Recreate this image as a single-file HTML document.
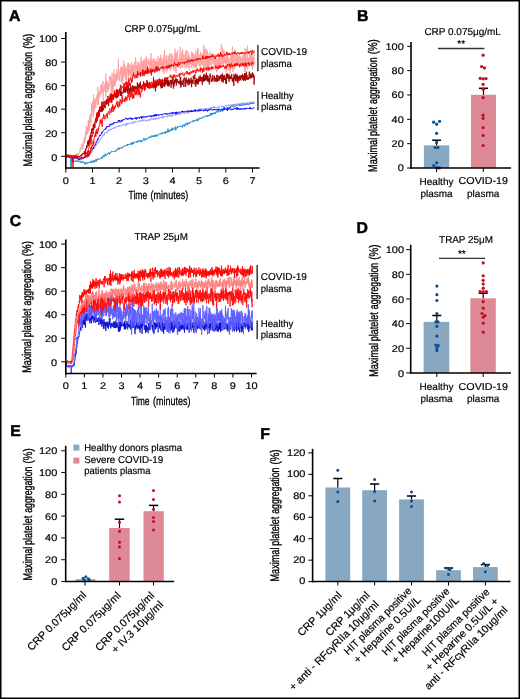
<!DOCTYPE html>
<html><head><meta charset="utf-8"><style>
html,body{margin:0;padding:0;background:#fff;}
svg{display:block;will-change:transform;}
text{font-family:"Liberation Sans", sans-serif;text-rendering:geometricPrecision;stroke:#000;stroke-width:0.18px;}
</style></head><body>
<svg width="520" height="699" viewBox="0 0 520 699" font-family='"Liberation Sans", sans-serif'>
<rect x="0" y="0" width="520" height="699" fill="#fff"/>
<polyline fill="none" stroke="#1b8bd0" stroke-width="1.0" stroke-linejoin="round" points="65.8,156.3 66.1,155.3 66.5,155.5 66.8,156.7 67.1,156.6 67.5,156.8 67.8,156.1 68.2,156.6 68.5,156.1 68.8,158.0 69.2,155.6 69.5,156.9 69.8,156.4 70.2,157.1 70.5,157.5 70.9,167.6 71.2,167.6 71.5,158.3 71.9,158.6 72.2,158.4 72.5,159.8 72.9,160.6 73.2,159.6 73.6,160.7 73.9,161.8 74.2,161.2 74.6,161.1 74.9,161.7 75.2,162.0 75.6,160.9 75.9,160.4 76.3,161.2 76.6,161.6 76.9,160.9 77.3,160.7 77.6,161.4 77.9,160.8 78.3,160.5 78.6,161.4 79.0,161.9 79.3,161.1 79.6,161.2 80.0,160.7 80.3,162.4 80.6,162.0 81.0,162.2 81.3,162.9 81.7,161.7 82.0,161.5 82.3,162.6 82.7,161.2 83.0,161.8 83.3,162.1 83.7,162.4 84.0,162.1 84.4,163.9 84.7,162.6 85.0,162.7 85.4,164.4 85.7,162.9 86.0,163.3 86.4,162.5 86.7,163.4 87.1,163.0 87.4,162.7 87.7,163.5 88.1,162.4 88.4,162.8 88.7,162.3 89.1,163.0 89.4,161.8 89.7,162.0 90.1,162.5 90.4,161.8 90.8,161.3 91.1,160.9 91.4,163.1 91.8,161.3 92.1,161.5 92.4,161.8 92.8,162.3 93.1,160.6 93.5,162.3 93.8,160.9 94.1,160.2 94.5,162.2 94.8,161.1 95.1,161.7 95.5,160.5 95.8,159.4 96.2,158.9 96.5,161.5 96.8,160.5 97.2,159.5 97.5,158.7 97.8,159.4 98.2,160.0 98.5,159.1 98.9,159.2 99.2,159.2 99.5,159.4 99.9,158.4 100.2,158.3 100.5,158.4 100.9,158.3 101.2,158.9 101.6,158.2 101.9,156.8 102.2,157.6 102.6,158.3 102.9,156.1 103.2,156.5 103.6,155.1 103.9,156.4 104.3,156.5 104.6,157.0 104.9,154.8 105.3,153.7 105.6,155.9 105.9,155.5 106.3,154.4 106.6,155.2 107.0,154.6 107.3,154.4 107.6,153.8 108.0,153.0 108.3,153.5 108.6,152.7 109.0,153.5 109.3,152.8 109.7,154.3 110.0,153.7 110.3,152.0 110.7,152.8 111.0,151.8 111.3,151.7 111.7,151.0 112.0,151.3 112.3,151.0 112.7,151.7 113.0,151.9 113.4,151.8 113.7,151.5 114.0,151.9 114.4,151.3 114.7,150.9 115.0,150.5 115.4,150.8 115.7,151.8 116.1,150.4 116.4,150.0 116.7,149.3 117.1,149.5 117.4,150.2 117.7,150.1 118.1,148.0 118.4,148.8 118.8,147.8 119.1,147.5 119.4,149.4 119.8,148.4 120.1,148.1 120.4,147.9 120.8,147.7 121.1,147.8 121.5,147.6 121.8,148.6 122.1,147.5 122.5,147.7 122.8,146.9 123.1,147.2 123.5,146.2 123.8,145.9 124.2,146.1 124.5,145.9 124.8,145.9 125.2,146.2 125.5,145.8 125.8,145.9 126.2,145.1 126.5,145.2 126.9,144.7 127.2,145.9 127.5,144.2 127.9,145.3 128.2,145.1 128.5,144.6 128.9,144.8 129.2,144.0 129.6,144.5 129.9,144.8 130.2,144.5 130.6,142.9 130.9,143.7 131.2,144.4 131.6,143.5 131.9,144.5 132.3,142.0 132.6,144.2 132.9,142.7 133.3,142.6 133.6,143.9 133.9,142.5 134.3,142.0 134.6,142.2 134.9,142.3 135.3,141.7 135.6,142.1 136.0,141.9 136.3,142.1 136.6,141.5 137.0,142.5 137.3,141.2 137.6,142.0 138.0,142.3 138.3,141.2 138.7,140.1 139.0,140.5 139.3,141.4 139.7,140.5 140.0,141.2 140.3,140.8 140.7,140.6 141.0,142.2 141.4,140.3 141.7,141.0 142.0,140.7 142.4,141.1 142.7,141.1 143.0,140.5 143.4,139.2 143.7,138.5 144.1,139.6 144.4,138.7 144.7,139.5 145.1,140.6 145.4,139.0 145.7,138.7 146.1,139.2 146.4,138.6 146.8,138.3 147.1,139.2 147.4,139.5 147.8,138.5 148.1,138.4 148.4,138.3 148.8,137.3 149.1,136.6 149.5,138.0 149.8,137.1 150.1,136.9 150.5,136.9 150.8,136.6 151.1,137.5 151.5,136.5 151.8,135.5 152.2,136.3 152.5,137.2 152.8,136.2 153.2,135.6 153.5,136.1 153.8,136.7 154.2,135.1 154.5,136.9 154.9,135.6 155.2,135.8 155.5,136.5 155.9,134.7 156.2,135.2 156.5,136.2 156.9,134.8 157.2,135.4 157.5,136.3 157.9,135.4 158.2,134.6 158.6,134.2 158.9,134.4 159.2,134.4 159.6,133.9 159.9,134.3 160.2,133.2 160.6,133.8 160.9,133.6 161.3,133.3 161.6,134.3 161.9,134.0 162.3,132.3 162.6,133.0 162.9,133.3 163.3,132.7 163.6,133.2 164.0,132.5 164.3,133.1 164.6,132.3 165.0,133.5 165.3,131.3 165.6,132.5 166.0,133.1 166.3,132.0 166.7,132.0 167.0,131.5 167.3,132.3 167.7,131.1 168.0,128.7 168.3,132.1 168.7,130.8 169.0,131.1 169.4,130.6 169.7,131.9 170.0,131.3 170.4,130.1 170.7,130.3 171.0,129.0 171.4,130.5 171.7,129.8 172.1,127.7 172.4,130.2 172.7,130.2 173.1,129.4 173.4,129.3 173.7,128.5 174.1,128.9 174.4,129.4 174.8,128.6 175.1,126.7 175.4,127.6 175.8,130.3 176.1,128.3 176.4,128.7 176.8,127.5 177.1,127.9 177.4,126.3 177.8,126.9 178.1,126.8 178.5,127.2 178.8,127.2 179.1,126.8 179.5,126.0 179.8,126.4 180.1,126.9 180.5,125.6 180.8,126.2 181.2,126.3 181.5,126.6 181.8,126.3 182.2,126.2 182.5,127.6 182.8,124.8 183.2,125.0 183.5,125.4 183.9,124.4 184.2,124.7 184.5,124.6 184.9,126.5 185.2,124.7 185.5,124.1 185.9,123.2 186.2,122.9 186.6,123.0 186.9,124.7 187.2,125.3 187.6,123.2 187.9,123.5 188.2,122.7 188.6,123.3 188.9,122.9 189.3,124.0 189.6,122.5 189.9,123.0 190.3,122.3 190.6,122.1 190.9,122.3 191.3,121.9 191.6,122.0 192.0,121.3 192.3,121.4 192.6,122.0 193.0,121.9 193.3,120.1 193.6,121.3 194.0,120.3 194.3,120.6 194.7,121.2 195.0,121.2 195.3,120.4 195.7,120.2 196.0,119.8 196.3,121.0 196.7,120.4 197.0,119.9 197.4,118.6 197.7,121.2 198.0,119.1 198.4,119.7 198.7,118.9 199.0,119.4 199.4,118.6 199.7,117.7 200.0,118.4 200.4,118.2 200.7,118.1 201.1,118.8 201.4,117.7 201.7,118.1 202.1,118.4 202.4,117.7 202.7,117.7 203.1,116.9 203.4,117.3 203.8,117.5 204.1,116.0 204.4,116.2 204.8,115.9 205.1,116.2 205.4,116.6 205.8,116.6 206.1,116.4 206.5,115.4 206.8,115.9 207.1,116.9 207.5,115.7 207.8,116.6 208.1,115.3 208.5,116.1 208.8,116.1 209.2,114.9 209.5,115.0 209.8,115.9 210.2,114.1 210.5,113.0 210.8,115.4 211.2,113.0 211.5,114.6 211.9,114.3 212.2,114.0 212.5,114.8 212.9,112.7 213.2,113.1 213.5,113.9 213.9,113.4 214.2,114.2 214.6,113.2 214.9,112.2 215.2,114.0 215.6,112.9 215.9,112.4 216.2,111.6 216.6,111.3 216.9,112.4 217.3,112.5 217.6,111.5 217.9,111.9 218.3,111.8 218.6,110.7 218.9,110.1 219.3,111.0 219.6,111.1 220.0,110.5 220.3,112.1 220.6,110.6 221.0,111.2 221.3,108.6 221.6,109.7 222.0,109.9 222.3,110.0 222.6,111.6 223.0,109.1 223.3,108.4 223.7,109.9 224.0,108.8 224.3,108.6 224.7,110.1 225.0,108.2 225.3,107.8 225.7,108.4 226.0,108.5 226.4,107.8 226.7,109.3 227.0,108.0 227.4,107.2 227.7,108.7 228.0,107.0 228.4,107.9 228.7,109.0 229.1,107.5 229.4,108.0 229.7,106.9 230.1,107.9 230.4,106.2 230.7,107.4 231.1,106.5 231.4,107.1 231.8,106.8 232.1,105.6 232.4,106.2 232.8,106.6 233.1,107.1 233.4,105.3 233.8,105.5 234.1,106.2 234.5,105.7 234.8,106.5 235.1,106.5 235.5,106.3 235.8,105.4 236.1,105.4 236.5,106.0 236.8,104.9 237.2,104.8 237.5,105.2 237.8,104.6 238.2,105.4 238.5,105.3 238.8,104.8 239.2,105.1 239.5,104.5 239.9,105.9 240.2,104.0 240.5,105.5 240.9,105.0 241.2,105.8 241.5,104.4 241.9,103.8 242.2,103.9 242.6,104.1 242.9,105.7 243.2,105.1 243.6,104.9 243.9,105.2 244.2,103.7 244.6,104.3 244.9,104.4 245.2,104.0 245.6,105.0 245.9,104.9 246.3,104.9 246.6,103.9 246.9,103.9 247.3,103.7 247.6,103.4 247.9,105.0 248.3,104.4 248.6,103.9 249.0,104.9 249.3,104.3 249.6,103.2 250.0,103.1 250.3,103.1 250.6,103.8 251.0,103.9 251.3,103.0 251.7,104.0 252.0,103.5 252.3,102.7 252.7,103.9 253.0,104.0 253.3,103.6 253.7,103.1 254.0,103.2 254.4,103.4"/>
<polyline fill="none" stroke="#8c8cff" stroke-width="0.9" stroke-linejoin="round" points="65.8,155.7 66.1,155.2 66.5,155.3 66.8,155.3 67.1,154.9 67.5,156.4 67.8,156.1 68.2,156.5 68.5,155.8 68.8,155.3 69.2,155.8 69.5,155.6 69.8,156.9 70.2,155.8 70.5,156.4 70.9,155.0 71.2,155.5 71.5,155.5 71.9,156.1 72.2,155.8 72.5,155.8 72.9,156.4 73.2,156.5 73.6,156.3 73.9,156.6 74.2,156.7 74.6,156.7 74.9,157.0 75.2,156.4 75.6,157.9 75.9,156.8 76.3,157.8 76.6,157.9 76.9,158.6 77.3,158.1 77.6,158.4 77.9,158.3 78.3,158.8 78.6,158.6 79.0,157.7 79.3,158.4 79.6,159.0 80.0,158.1 80.3,158.7 80.6,158.3 81.0,158.2 81.3,158.7 81.7,159.5 82.0,158.6 82.3,158.0 82.7,158.4 83.0,157.9 83.3,157.6 83.7,158.3 84.0,157.3 84.4,157.0 84.7,157.2 85.0,157.0 85.4,156.9 85.7,156.2 86.0,157.2 86.4,157.1 86.7,156.6 87.1,157.2 87.4,157.4 87.7,156.8 88.1,155.8 88.4,155.5 88.7,156.3 89.1,156.2 89.4,155.0 89.7,154.6 90.1,154.2 90.4,153.5 90.8,152.8 91.1,152.9 91.4,152.2 91.8,152.6 92.1,152.1 92.4,150.8 92.8,150.0 93.1,149.3 93.5,148.8 93.8,148.1 94.1,147.5 94.5,148.3 94.8,147.2 95.1,146.0 95.5,145.5 95.8,146.1 96.2,144.2 96.5,144.6 96.8,144.0 97.2,143.3 97.5,142.6 97.8,143.3 98.2,141.6 98.5,141.6 98.9,141.6 99.2,140.9 99.5,141.5 99.9,140.2 100.2,139.4 100.5,139.4 100.9,138.7 101.2,138.2 101.6,137.6 101.9,136.7 102.2,136.8 102.6,136.5 102.9,135.7 103.2,134.4 103.6,135.3 103.9,134.5 104.3,135.2 104.6,133.3 104.9,133.4 105.3,132.7 105.6,133.2 105.9,133.4 106.3,132.1 106.6,131.9 107.0,132.5 107.3,132.5 107.6,131.3 108.0,131.3 108.3,129.6 108.6,131.1 109.0,130.8 109.3,130.4 109.7,131.0 110.0,130.3 110.3,128.8 110.7,129.5 111.0,129.6 111.3,129.8 111.7,128.6 112.0,128.4 112.3,128.4 112.7,128.6 113.0,128.1 113.4,127.9 113.7,128.3 114.0,127.4 114.4,128.7 114.7,128.1 115.0,127.5 115.4,127.2 115.7,127.7 116.1,126.7 116.4,126.2 116.7,126.4 117.1,126.4 117.4,126.0 117.7,126.1 118.1,126.9 118.4,126.3 118.8,125.4 119.1,126.6 119.4,125.8 119.8,126.0 120.1,126.2 120.4,126.2 120.8,125.5 121.1,125.3 121.5,125.2 121.8,126.1 122.1,125.4 122.5,125.0 122.8,124.6 123.1,124.7 123.5,124.5 123.8,124.3 124.2,124.4 124.5,125.2 124.8,124.6 125.2,125.0 125.5,125.8 125.8,125.3 126.2,123.3 126.5,124.9 126.9,125.4 127.2,124.4 127.5,123.2 127.9,124.0 128.2,123.7 128.5,123.9 128.9,123.7 129.2,122.9 129.6,123.1 129.9,123.5 130.2,122.9 130.6,122.7 130.9,123.3 131.2,122.9 131.6,122.8 131.9,123.2 132.3,122.2 132.6,122.8 132.9,122.9 133.3,123.4 133.6,123.1 133.9,121.5 134.3,122.8 134.6,121.9 134.9,122.3 135.3,121.7 135.6,121.6 136.0,122.2 136.3,121.9 136.6,121.6 137.0,121.5 137.3,121.6 137.6,121.6 138.0,121.1 138.3,120.7 138.7,121.0 139.0,121.6 139.3,121.0 139.7,121.1 140.0,120.8 140.3,120.0 140.7,121.1 141.0,120.9 141.4,121.3 141.7,120.9 142.0,121.0 142.4,119.8 142.7,120.5 143.0,120.9 143.4,119.5 143.7,121.2 144.1,120.0 144.4,119.8 144.7,120.0 145.1,120.4 145.4,120.3 145.7,120.4 146.1,119.7 146.4,121.3 146.8,120.3 147.1,119.9 147.4,120.3 147.8,120.9 148.1,120.0 148.4,120.2 148.8,119.3 149.1,119.0 149.5,119.6 149.8,120.6 150.1,119.7 150.5,120.0 150.8,119.1 151.1,118.5 151.5,119.2 151.8,118.3 152.2,118.5 152.5,118.9 152.8,119.6 153.2,119.0 153.5,119.8 153.8,118.4 154.2,118.9 154.5,118.1 154.9,118.7 155.2,119.8 155.5,118.3 155.9,118.1 156.2,117.7 156.5,119.0 156.9,118.9 157.2,118.4 157.5,118.9 157.9,119.0 158.2,118.8 158.6,116.8 158.9,118.4 159.2,118.6 159.6,118.2 159.9,117.9 160.2,117.2 160.6,117.3 160.9,117.3 161.3,117.6 161.6,117.5 161.9,117.9 162.3,118.2 162.6,116.3 162.9,117.6 163.3,116.7 163.6,117.3 164.0,117.2 164.3,117.1 164.6,117.7 165.0,116.9 165.3,116.6 165.6,116.3 166.0,116.4 166.3,116.1 166.7,116.4 167.0,116.5 167.3,117.4 167.7,116.6 168.0,115.4 168.3,116.1 168.7,115.7 169.0,116.1 169.4,116.3 169.7,114.8 170.0,115.6 170.4,114.9 170.7,115.3 171.0,115.7 171.4,116.7 171.7,115.4 172.1,116.2 172.4,116.4 172.7,114.5 173.1,114.7 173.4,114.7 173.7,114.9 174.1,114.9 174.4,114.6 174.8,114.6 175.1,114.6 175.4,114.2 175.8,115.8 176.1,113.9 176.4,114.7 176.8,113.8 177.1,113.6 177.4,114.5 177.8,113.6 178.1,113.5 178.5,114.3 178.8,114.1 179.1,113.7 179.5,114.8 179.8,113.8 180.1,113.4 180.5,113.7 180.8,114.2 181.2,113.5 181.5,112.4 181.8,112.5 182.2,113.1 182.5,113.4 182.8,112.9 183.2,112.9 183.5,113.1 183.9,112.9 184.2,112.3 184.5,112.1 184.9,113.8 185.2,111.9 185.5,112.3 185.9,111.7 186.2,112.2 186.6,111.9 186.9,111.2 187.2,113.6 187.6,111.1 187.9,111.8 188.2,112.8 188.6,113.2 188.9,111.5 189.3,112.2 189.6,111.0 189.9,111.4 190.3,111.5 190.6,110.8 190.9,111.2 191.3,110.9 191.6,110.7 192.0,111.0 192.3,110.7 192.6,110.6 193.0,111.7 193.3,111.0 193.6,110.9 194.0,111.0 194.3,111.6 194.7,111.0 195.0,110.4 195.3,110.5 195.7,109.7 196.0,110.8 196.3,110.6 196.7,110.6 197.0,110.4 197.4,110.5 197.7,111.2 198.0,109.9 198.4,109.5 198.7,109.4 199.0,110.5 199.4,110.0 199.7,108.8 200.0,109.8 200.4,109.5 200.7,109.7 201.1,109.1 201.4,109.0 201.7,108.3 202.1,109.2 202.4,109.2 202.7,110.0 203.1,109.5 203.4,109.6 203.8,109.3 204.1,109.8 204.4,108.4 204.8,109.6 205.1,108.8 205.4,109.6 205.8,108.7 206.1,107.9 206.5,109.2 206.8,108.5 207.1,108.7 207.5,108.4 207.8,108.3 208.1,108.8 208.5,108.5 208.8,108.7 209.2,108.8 209.5,108.9 209.8,107.7 210.2,108.6 210.5,107.8 210.8,107.8 211.2,108.5 211.5,107.4 211.9,108.4 212.2,107.5 212.5,107.0 212.9,108.1 213.2,108.2 213.5,108.2 213.9,106.4 214.2,107.8 214.6,108.2 214.9,107.0 215.2,107.5 215.6,107.4 215.9,107.8 216.2,108.4 216.6,107.6 216.9,107.7 217.3,108.0 217.6,107.6 217.9,107.5 218.3,106.5 218.6,106.5 218.9,106.6 219.3,107.1 219.6,107.4 220.0,106.6 220.3,106.4 220.6,106.1 221.0,106.6 221.3,106.6 221.6,106.3 222.0,106.9 222.3,106.8 222.6,106.0 223.0,107.0 223.3,106.3 223.7,105.8 224.0,106.0 224.3,105.9 224.7,106.6 225.0,106.1 225.3,106.1 225.7,105.6 226.0,105.6 226.4,105.8 226.7,104.8 227.0,105.4 227.4,105.8 227.7,106.0 228.0,105.6 228.4,105.8 228.7,104.6 229.1,105.1 229.4,105.6 229.7,105.7 230.1,105.9 230.4,105.4 230.7,104.5 231.1,104.7 231.4,105.2 231.8,105.0 232.1,106.0 232.4,104.6 232.8,105.1 233.1,104.2 233.4,105.0 233.8,105.1 234.1,104.7 234.5,105.1 234.8,104.0 235.1,104.5 235.5,104.4 235.8,104.4 236.1,104.7 236.5,104.2 236.8,104.3 237.2,103.5 237.5,104.3 237.8,104.1 238.2,104.5 238.5,104.4 238.8,104.3 239.2,103.5 239.5,104.1 239.9,103.5 240.2,104.2 240.5,104.2 240.9,105.0 241.2,103.5 241.5,102.8 241.9,103.9 242.2,103.0 242.6,103.3 242.9,104.1 243.2,103.2 243.6,104.1 243.9,103.7 244.2,102.9 244.6,103.4 244.9,104.1 245.2,102.7 245.6,104.0 245.9,103.4 246.3,103.5 246.6,103.4 246.9,103.7 247.3,104.1 247.6,102.2 247.9,103.6 248.3,103.6 248.6,104.3 249.0,103.0 249.3,102.3 249.6,102.2 250.0,101.4 250.3,102.1 250.6,102.6 251.0,102.8 251.3,102.0 251.7,102.7 252.0,102.6 252.3,103.2 252.7,102.6 253.0,101.5 253.3,102.6 253.7,102.3 254.0,103.8 254.4,101.8"/>
<polyline fill="none" stroke="#0a0af0" stroke-width="1.0" stroke-linejoin="round" points="65.8,155.3 66.1,157.9 66.5,155.8 66.8,156.3 67.1,155.7 67.5,156.2 67.8,155.5 68.2,156.5 68.5,156.8 68.8,156.3 69.2,156.4 69.5,156.9 69.8,156.9 70.2,156.4 70.5,156.5 70.9,157.2 71.2,157.2 71.5,158.0 71.9,156.2 72.2,157.3 72.5,156.5 72.9,162.2 73.2,156.3 73.6,156.6 73.9,157.3 74.2,156.8 74.6,158.2 74.9,157.2 75.2,158.7 75.6,157.9 75.9,157.7 76.3,158.3 76.6,158.8 76.9,159.1 77.3,159.0 77.6,158.4 77.9,158.6 78.3,159.3 78.6,159.9 79.0,158.9 79.3,160.0 79.6,159.5 80.0,159.6 80.3,158.8 80.6,159.0 81.0,158.8 81.3,158.8 81.7,159.2 82.0,158.4 82.3,157.9 82.7,158.5 83.0,158.0 83.3,158.3 83.7,157.5 84.0,157.5 84.4,157.3 84.7,157.4 85.0,156.5 85.4,157.4 85.7,157.2 86.0,157.1 86.4,156.2 86.7,156.6 87.1,156.3 87.4,155.3 87.7,154.7 88.1,154.6 88.4,155.9 88.7,154.6 89.1,154.2 89.4,153.9 89.7,153.0 90.1,151.4 90.4,152.1 90.8,151.9 91.1,150.7 91.4,150.5 91.8,150.0 92.1,149.9 92.4,149.0 92.8,148.2 93.1,148.9 93.5,148.2 93.8,146.2 94.1,145.8 94.5,145.9 94.8,145.6 95.1,144.6 95.5,144.5 95.8,143.5 96.2,141.8 96.5,141.9 96.8,140.7 97.2,140.8 97.5,139.8 97.8,138.6 98.2,139.4 98.5,138.2 98.9,137.5 99.2,136.6 99.5,135.4 99.9,135.3 100.2,136.0 100.5,134.8 100.9,134.6 101.2,134.1 101.6,132.1 101.9,133.3 102.2,132.1 102.6,132.2 102.9,130.9 103.2,130.8 103.6,130.5 103.9,130.2 104.3,129.2 104.6,130.0 104.9,129.5 105.3,129.4 105.6,127.8 105.9,128.4 106.3,128.5 106.6,127.8 107.0,126.0 107.3,127.1 107.6,126.3 108.0,126.3 108.3,126.3 108.6,126.4 109.0,126.0 109.3,125.8 109.7,126.5 110.0,123.8 110.3,124.4 110.7,124.7 111.0,124.7 111.3,124.8 111.7,123.7 112.0,124.2 112.3,123.7 112.7,124.5 113.0,123.4 113.4,122.5 113.7,123.5 114.0,122.8 114.4,123.1 114.7,122.4 115.0,122.3 115.4,122.8 115.7,123.0 116.1,122.4 116.4,122.4 116.7,122.7 117.1,122.0 117.4,121.9 117.7,122.4 118.1,121.9 118.4,120.2 118.8,121.2 119.1,121.4 119.4,120.0 119.8,121.4 120.1,122.4 120.4,122.0 120.8,121.6 121.1,120.6 121.5,120.0 121.8,121.6 122.1,119.7 122.5,120.8 122.8,119.9 123.1,119.7 123.5,119.6 123.8,119.7 124.2,119.6 124.5,120.1 124.8,119.3 125.2,118.8 125.5,118.8 125.8,117.8 126.2,118.6 126.5,118.7 126.9,118.1 127.2,118.8 127.5,119.6 127.9,120.0 128.2,118.1 128.5,118.5 128.9,118.3 129.2,118.9 129.6,118.5 129.9,117.6 130.2,118.4 130.6,119.2 130.9,118.8 131.2,117.8 131.6,119.1 131.9,119.8 132.3,119.7 132.6,119.1 132.9,118.0 133.3,118.3 133.6,118.7 133.9,119.0 134.3,118.4 134.6,118.3 134.9,118.5 135.3,118.3 135.6,118.6 136.0,117.2 136.3,119.4 136.6,118.0 137.0,118.6 137.3,117.6 137.6,118.1 138.0,117.7 138.3,117.6 138.7,117.7 139.0,117.3 139.3,118.5 139.7,117.2 140.0,117.8 140.3,117.4 140.7,116.7 141.0,116.9 141.4,116.4 141.7,118.6 142.0,117.9 142.4,116.8 142.7,117.9 143.0,117.3 143.4,116.3 143.7,116.6 144.1,117.6 144.4,116.8 144.7,116.6 145.1,116.9 145.4,116.9 145.7,116.7 146.1,117.5 146.4,116.6 146.8,117.1 147.1,116.3 147.4,116.3 147.8,116.9 148.1,116.1 148.4,116.1 148.8,116.3 149.1,115.8 149.5,116.3 149.8,116.2 150.1,116.0 150.5,116.0 150.8,115.3 151.1,117.1 151.5,116.0 151.8,116.8 152.2,116.0 152.5,115.5 152.8,115.6 153.2,115.1 153.5,115.3 153.8,116.9 154.2,116.0 154.5,114.5 154.9,114.5 155.2,115.2 155.5,116.0 155.9,114.0 156.2,116.2 156.5,114.9 156.9,115.1 157.2,114.9 157.5,115.6 157.9,115.1 158.2,114.3 158.6,115.1 158.9,115.5 159.2,114.8 159.6,114.7 159.9,114.7 160.2,115.0 160.6,114.3 160.9,114.6 161.3,115.1 161.6,114.3 161.9,114.4 162.3,114.3 162.6,115.2 162.9,114.7 163.3,114.0 163.6,113.7 164.0,113.9 164.3,114.0 164.6,113.6 165.0,113.5 165.3,113.0 165.6,113.6 166.0,114.1 166.3,113.5 166.7,114.8 167.0,113.7 167.3,113.9 167.7,113.6 168.0,113.3 168.3,113.5 168.7,114.2 169.0,113.6 169.4,113.8 169.7,113.4 170.0,113.1 170.4,113.8 170.7,112.8 171.0,112.5 171.4,113.3 171.7,112.7 172.1,113.8 172.4,113.3 172.7,112.4 173.1,113.9 173.4,113.1 173.7,113.3 174.1,112.2 174.4,112.1 174.8,113.0 175.1,112.6 175.4,114.0 175.8,112.1 176.1,112.4 176.4,111.8 176.8,113.7 177.1,112.3 177.4,112.6 177.8,113.7 178.1,112.7 178.5,112.3 178.8,111.8 179.1,112.1 179.5,112.4 179.8,111.9 180.1,112.2 180.5,112.4 180.8,112.6 181.2,111.9 181.5,111.9 181.8,110.9 182.2,112.1 182.5,111.0 182.8,111.6 183.2,111.2 183.5,112.2 183.9,112.2 184.2,111.8 184.5,111.2 184.9,111.5 185.2,111.2 185.5,111.4 185.9,111.0 186.2,111.4 186.6,111.7 186.9,111.2 187.2,111.3 187.6,110.4 187.9,111.4 188.2,111.3 188.6,111.4 188.9,110.6 189.3,110.8 189.6,110.9 189.9,111.8 190.3,112.0 190.6,111.0 190.9,110.7 191.3,110.3 191.6,112.0 192.0,111.1 192.3,111.9 192.6,111.5 193.0,111.1 193.3,110.4 193.6,111.2 194.0,111.3 194.3,111.0 194.7,110.2 195.0,109.5 195.3,111.6 195.7,110.9 196.0,111.0 196.3,110.1 196.7,110.5 197.0,109.9 197.4,111.2 197.7,110.6 198.0,110.9 198.4,111.2 198.7,110.7 199.0,111.2 199.4,109.4 199.7,110.3 200.0,111.1 200.4,110.8 200.7,109.6 201.1,110.7 201.4,110.1 201.7,110.1 202.1,109.8 202.4,110.0 202.7,110.5 203.1,110.7 203.4,111.3 203.8,110.3 204.1,110.2 204.4,110.5 204.8,110.3 205.1,110.9 205.4,109.1 205.8,110.5 206.1,110.7 206.5,110.5 206.8,110.3 207.1,109.8 207.5,111.4 207.8,109.8 208.1,110.4 208.5,110.2 208.8,109.5 209.2,109.6 209.5,110.4 209.8,110.1 210.2,109.0 210.5,109.3 210.8,109.5 211.2,110.0 211.5,109.4 211.9,109.7 212.2,110.2 212.5,110.4 212.9,109.6 213.2,109.7 213.5,109.2 213.9,110.1 214.2,109.1 214.6,110.0 214.9,109.1 215.2,109.5 215.6,110.1 215.9,110.3 216.2,109.8 216.6,109.9 216.9,109.2 217.3,110.1 217.6,110.5 217.9,109.7 218.3,108.6 218.6,108.8 218.9,110.0 219.3,109.8 219.6,109.4 220.0,109.9 220.3,109.7 220.6,109.7 221.0,110.1 221.3,109.9 221.6,109.8 222.0,109.4 222.3,110.1 222.6,109.4 223.0,110.0 223.3,109.9 223.7,110.0 224.0,107.3 224.3,108.8 224.7,108.7 225.0,109.0 225.3,109.5 225.7,109.3 226.0,109.2 226.4,109.1 226.7,109.0 227.0,108.5 227.4,110.9 227.7,109.6 228.0,108.9 228.4,109.5 228.7,109.3 229.1,108.5 229.4,109.1 229.7,108.3 230.1,109.2 230.4,109.1 230.7,109.8 231.1,110.2 231.4,109.4 231.8,109.1 232.1,109.3 232.4,109.8 232.8,108.8 233.1,109.1 233.4,109.1 233.8,109.5 234.1,108.2 234.5,108.3 234.8,108.9 235.1,109.1 235.5,108.9 235.8,108.1 236.1,107.5 236.5,109.0 236.8,109.2 237.2,109.9 237.5,107.4 237.8,109.5 238.2,108.4 238.5,108.6 238.8,108.2 239.2,109.3 239.5,109.7 239.9,108.7 240.2,108.6 240.5,108.2 240.9,109.7 241.2,109.0 241.5,108.9 241.9,109.5 242.2,108.8 242.6,108.3 242.9,108.7 243.2,109.4 243.6,108.5 243.9,108.2 244.2,108.4 244.6,108.2 244.9,109.5 245.2,108.3 245.6,108.3 245.9,108.8 246.3,108.6 246.6,108.9 246.9,107.9 247.3,108.7 247.6,109.0 247.9,108.4 248.3,108.4 248.6,108.1 249.0,108.9 249.3,108.8 249.6,108.2 250.0,107.2 250.3,108.1 250.6,109.1 251.0,108.2 251.3,108.7 251.7,109.3 252.0,108.6 252.3,108.5 252.7,108.0 253.0,107.5 253.3,107.6 253.7,107.7 254.0,108.4 254.4,108.0"/>
<polyline fill="none" stroke="#ffa0a0" stroke-width="0.8" stroke-linejoin="round" points="65.8,155.1 65.9,155.5 66.1,156.0 66.2,156.5 66.4,156.8 66.5,155.7 66.7,156.2 66.8,156.2 67.0,155.8 67.1,155.7 67.3,157.1 67.4,155.2 67.5,156.9 67.7,154.6 67.8,155.4 68.0,156.0 68.1,154.9 68.3,155.7 68.4,155.3 68.6,155.6 68.7,155.1 68.8,155.1 69.0,156.2 69.1,156.1 69.3,155.5 69.4,155.8 69.6,157.1 69.7,154.5 69.9,157.0 70.0,156.9 70.2,156.5 70.3,155.4 70.4,154.7 70.6,155.8 70.7,155.9 70.9,155.6 71.0,155.9 71.2,155.7 71.3,156.4 71.5,155.5 71.6,155.5 71.8,157.1 71.9,155.8 72.0,155.6 72.2,155.4 72.3,156.2 72.5,156.5 72.6,156.3 72.8,155.4 72.9,156.2 73.1,156.2 73.2,155.0 73.3,156.2 73.5,156.2 73.6,155.8 73.8,155.6 73.9,155.1 74.1,156.2 74.2,156.6 74.4,155.8 74.5,155.3 74.7,156.5 74.8,155.9 74.9,155.4 75.1,155.4 75.2,155.5 75.4,155.6 75.5,155.9 75.7,156.0 75.8,154.7 76.0,156.0 76.1,154.5 76.3,156.0 76.4,153.5 76.5,156.1 76.7,154.1 76.8,155.5 77.0,155.0 77.1,154.9 77.3,155.2 77.4,153.4 77.6,154.6 77.7,155.4 77.8,154.1 78.0,154.0 78.1,155.0 78.3,153.9 78.4,154.0 78.6,153.4 78.7,153.2 78.9,153.5 79.0,153.5 79.2,152.5 79.3,152.5 79.4,153.5 79.6,152.6 79.7,152.3 79.9,151.8 80.0,149.2 80.2,151.4 80.3,150.2 80.5,148.6 80.6,149.4 80.8,149.1 80.9,147.7 81.0,148.7 81.2,148.3 81.3,147.2 81.5,147.2 81.6,148.5 81.8,148.9 81.9,146.9 82.1,144.1 82.2,146.4 82.3,143.6 82.5,144.5 82.6,145.5 82.8,149.5 82.9,143.7 83.1,144.3 83.2,146.7 83.4,141.9 83.5,142.7 83.7,141.4 83.8,143.1 83.9,140.9 84.1,142.0 84.2,137.9 84.4,139.7 84.5,143.1 84.7,138.6 84.8,138.5 85.0,138.7 85.1,141.4 85.3,134.4 85.4,138.8 85.5,131.8 85.7,137.7 85.8,135.2 86.0,135.0 86.1,133.9 86.3,125.6 86.4,134.9 86.6,126.2 86.7,130.3 86.8,134.2 87.0,127.1 87.1,128.0 87.3,127.0 87.4,134.5 87.6,127.5 87.7,130.2 87.9,128.7 88.0,128.1 88.2,126.9 88.3,120.4 88.4,124.4 88.6,132.5 88.7,119.7 88.9,123.7 89.0,122.9 89.2,130.3 89.3,120.5 89.5,123.6 89.6,116.8 89.8,118.3 89.9,116.0 90.0,120.6 90.2,126.6 90.3,113.3 90.5,115.2 90.6,118.0 90.8,118.5 90.9,119.4 91.1,123.1 91.2,119.7 91.3,113.7 91.5,104.8 91.6,109.9 91.8,103.5 91.9,116.2 92.1,104.1 92.2,112.1 92.4,102.0 92.5,102.7 92.7,108.2 92.8,107.2 92.9,101.3 93.1,111.0 93.2,117.5 93.4,102.0 93.5,94.6 93.7,114.9 93.8,103.8 94.0,110.5 94.1,105.6 94.3,108.8 94.4,98.9 94.5,105.7 94.7,103.5 94.8,107.7 95.0,98.1 95.1,104.0 95.3,103.0 95.4,101.1 95.6,107.7 95.7,100.1 95.8,107.9 96.0,100.5 96.1,100.1 96.3,100.7 96.4,99.4 96.6,101.4 96.7,95.1 96.9,97.4 97.0,99.5 97.2,97.9 97.3,99.9 97.4,96.8 97.6,97.5 97.7,104.7 97.9,87.0 98.0,97.3 98.2,98.1 98.3,93.0 98.5,104.8 98.6,96.0 98.8,92.2 98.9,94.8 99.0,92.9 99.2,95.2 99.3,94.6 99.5,92.7 99.6,91.6 99.8,97.7 99.9,90.5 100.1,90.2 100.2,94.6 100.3,94.2 100.5,90.5 100.6,85.1 100.8,85.3 100.9,94.8 101.1,93.2 101.2,93.1 101.4,88.1 101.5,90.7 101.7,88.1 101.8,83.3 101.9,88.3 102.1,87.2 102.2,87.4 102.4,92.9 102.5,89.6 102.7,89.9 102.8,91.2 103.0,80.8 103.1,85.4 103.3,101.8 103.4,92.1 103.5,88.4 103.7,87.7 103.8,91.8 104.0,89.1 104.1,89.3 104.3,89.6 104.4,83.8 104.6,87.2 104.7,89.6 104.8,88.1 105.0,86.5 105.1,91.9 105.3,89.0 105.4,83.0 105.6,80.9 105.7,97.7 105.9,73.2 106.0,88.7 106.2,81.3 106.3,92.1 106.4,81.5 106.6,84.7 106.7,85.2 106.9,86.2 107.0,85.8 107.2,80.7 107.3,88.1 107.5,85.5 107.6,86.1 107.7,92.2 107.9,83.4 108.0,83.9 108.2,86.0 108.3,90.4 108.5,85.1 108.6,84.1 108.8,83.2 108.9,82.8 109.1,89.0 109.2,77.7 109.3,78.7 109.5,78.6 109.6,80.1 109.8,75.7 109.9,78.6 110.1,76.5 110.2,80.4 110.4,81.3 110.5,78.7 110.7,85.3 110.8,82.8 110.9,80.5 111.1,84.5 111.2,93.8 111.4,84.2 111.5,84.9 111.7,76.7 111.8,90.6 112.0,84.8 112.1,72.7 112.2,92.6 112.4,81.9 112.5,83.7 112.7,89.1 112.8,80.2 113.0,84.7 113.1,93.8 113.3,83.1 113.4,86.7 113.6,74.3 113.7,79.6 113.8,85.2 114.0,78.4 114.1,69.7 114.3,85.8 114.4,84.3 114.6,79.6 114.7,78.7 114.9,78.0 115.0,86.4 115.2,78.1 115.3,84.5 115.4,82.4 115.6,73.8 115.7,82.0 115.9,75.1 116.0,79.8 116.2,77.2 116.3,77.1 116.5,74.6 116.6,74.0 116.7,81.3 116.9,69.1 117.0,74.3 117.2,72.4 117.3,72.1 117.5,79.4 117.6,77.2 117.8,76.4 117.9,75.3 118.1,68.0 118.2,67.1 118.3,58.9 118.5,67.0 118.6,67.7 118.8,76.5 118.9,80.2 119.1,75.8 119.2,77.2 119.4,80.8 119.5,76.9 119.7,73.3 119.8,75.2 119.9,70.8 120.1,72.1 120.2,73.0 120.4,68.7 120.5,75.5 120.7,74.5 120.8,67.4 121.0,69.8 121.1,82.2 121.2,73.9 121.4,66.6 121.5,71.9 121.7,68.0 121.8,81.8 122.0,71.8 122.1,84.1 122.3,70.2 122.4,79.9 122.6,66.5 122.7,77.0 122.8,72.8 123.0,72.0 123.1,73.4 123.3,81.0 123.4,69.5 123.6,75.6 123.7,60.6 123.9,74.2 124.0,71.7 124.2,74.4 124.3,63.9 124.4,65.0 124.6,69.4 124.7,67.2 124.9,76.8 125.0,77.1 125.2,65.6 125.3,76.5 125.5,73.6 125.6,79.9 125.7,73.9 125.9,69.8 126.0,72.2 126.2,79.5 126.3,67.7 126.5,70.8 126.6,84.5 126.8,77.1 126.9,73.3 127.1,74.2 127.2,70.6 127.3,65.9 127.5,71.7 127.6,71.7 127.8,64.3 127.9,63.0 128.1,72.6 128.2,62.8 128.4,79.8 128.5,62.9 128.7,68.3 128.8,75.0 128.9,73.2 129.1,69.9 129.2,63.8 129.4,66.1 129.5,68.9 129.7,72.3 129.8,69.8 130.0,76.4 130.1,72.3 130.2,74.5 130.4,71.9 130.5,67.8 130.7,71.7 130.8,79.0 131.0,64.5 131.1,70.0 131.3,67.7 131.4,73.4 131.6,71.1 131.7,71.2 131.8,62.5 132.0,75.9 132.1,65.1 132.3,70.0 132.4,65.9 132.6,72.6 132.7,77.8 132.9,64.7 133.0,71.2 133.2,66.9 133.3,65.7 133.4,78.0 133.6,71.7 133.7,70.1 133.9,66.1 134.0,65.9 134.2,64.9 134.3,69.9 134.5,61.9 134.6,68.5 134.7,69.0 134.9,71.1 135.0,74.2 135.2,68.6 135.3,67.1 135.5,67.0 135.6,57.3 135.8,66.7 135.9,66.3 136.1,74.7 136.2,69.4 136.3,67.9 136.5,65.6 136.6,69.0 136.8,66.2 136.9,72.9 137.1,62.1 137.2,62.6 137.4,73.5 137.5,75.4 137.7,71.1 137.8,66.9 137.9,72.1 138.1,66.8 138.2,63.8 138.4,62.6 138.5,61.9 138.7,74.9 138.8,77.5 139.0,64.9 139.1,71.3 139.2,71.2 139.4,72.8 139.5,70.5 139.7,64.5 139.8,74.6 140.0,74.1 140.1,62.1 140.3,64.0 140.4,75.7 140.6,76.5 140.7,65.4 140.8,62.9 141.0,56.8 141.1,63.8 141.3,63.9 141.4,68.4 141.6,66.8 141.7,69.2 141.9,61.1 142.0,65.1 142.2,61.6 142.3,65.4 142.4,71.6 142.6,67.0 142.7,61.4 142.9,64.9 143.0,75.5 143.2,61.4 143.3,68.9 143.5,59.7 143.6,68.2 143.7,70.9 143.9,62.3 144.0,72.3 144.2,60.4 144.3,68.8 144.5,63.2 144.6,73.4 144.8,66.0 144.9,68.8 145.1,58.0 145.2,69.9 145.3,66.8 145.5,70.0 145.6,65.8 145.8,65.1 145.9,60.0 146.1,62.2 146.2,73.3 146.4,56.1 146.5,64.9 146.7,59.7 146.8,67.1 146.9,61.5 147.1,65.8 147.2,66.8 147.4,65.8 147.5,69.5 147.7,62.8 147.8,63.2 148.0,61.7 148.1,58.7 148.2,59.8 148.4,62.7 148.5,59.6 148.7,63.9 148.8,59.9 149.0,65.1 149.1,73.7 149.3,68.2 149.4,69.4 149.6,66.9 149.7,65.3 149.8,64.0 150.0,61.8 150.1,69.7 150.3,66.7 150.4,61.0 150.6,61.3 150.7,58.0 150.9,65.5 151.0,53.0 151.2,67.6 151.3,71.9 151.4,66.0 151.6,71.0 151.7,61.0 151.9,64.8 152.0,71.9 152.2,63.4 152.3,59.3 152.5,67.3 152.6,66.3 152.7,68.1 152.9,67.2 153.0,71.1 153.2,65.5 153.3,69.6 153.5,63.5 153.6,58.6 153.8,60.5 153.9,62.9 154.1,58.7 154.2,61.0 154.3,67.2 154.5,62.2 154.6,61.0 154.8,65.3 154.9,61.1 155.1,68.3 155.2,62.1 155.4,61.1 155.5,63.1 155.7,65.4 155.8,62.6 155.9,68.2 156.1,66.7 156.2,61.1 156.4,58.8 156.5,59.6 156.7,64.0 156.8,61.4 157.0,66.8 157.1,62.5 157.2,66.7 157.4,69.6 157.5,62.0 157.7,65.2 157.8,64.5 158.0,67.7 158.1,55.9 158.3,61.2 158.4,67.5 158.6,60.2 158.7,63.1 158.8,67.1 159.0,67.2 159.1,58.6 159.3,64.9 159.4,61.3 159.6,66.4 159.7,60.8 159.9,61.0 160.0,60.8 160.2,61.1 160.3,58.1 160.4,59.3 160.6,65.9 160.7,54.7 160.9,65.3 161.0,66.0 161.2,62.9 161.3,58.8 161.5,60.6 161.6,68.3 161.7,65.2 161.9,58.1 162.0,61.6 162.2,61.7 162.3,70.6 162.5,62.7 162.6,61.5 162.8,68.1 162.9,72.1 163.1,61.7 163.2,58.8 163.3,69.4 163.5,64.4 163.6,56.0 163.8,54.7 163.9,62.2 164.1,74.0 164.2,61.8 164.4,58.0 164.5,49.9 164.7,57.4 164.8,58.7 164.9,63.8 165.1,69.7 165.2,66.4 165.4,66.8 165.5,65.4 165.7,58.7 165.8,61.9 166.0,72.5 166.1,64.0 166.2,56.4 166.4,58.2 166.5,54.8 166.7,67.7 166.8,60.4 167.0,64.0 167.1,67.7 167.3,65.8 167.4,71.2 167.6,70.6 167.7,61.5 167.8,63.2 168.0,64.5 168.1,55.9 168.3,64.1 168.4,59.3 168.6,67.6 168.7,68.2 168.9,64.5 169.0,65.0 169.2,63.7 169.3,62.0 169.4,53.7 169.6,66.7 169.7,68.5 169.9,59.6 170.0,55.9 170.2,53.3 170.3,67.4 170.5,59.4 170.6,71.1 170.7,62.3 170.9,67.4 171.0,64.7 171.2,69.4 171.3,55.6 171.5,57.2 171.6,59.5 171.8,66.7 171.9,53.4 172.1,56.5 172.2,63.1 172.3,56.3 172.5,59.3 172.6,58.7 172.8,57.7 172.9,57.9 173.1,61.7 173.2,68.3 173.4,66.9 173.5,59.5 173.7,63.8 173.8,60.0 173.9,70.9 174.1,63.8 174.2,63.7 174.4,54.0 174.5,63.1 174.7,64.7 174.8,61.0 175.0,55.6 175.1,48.7 175.2,68.4 175.4,52.7 175.5,71.3 175.7,54.7 175.8,54.2 176.0,55.8 176.1,72.8 176.3,66.3 176.4,52.4 176.6,59.2 176.7,56.1 176.8,61.2 177.0,59.9 177.1,59.7 177.3,64.5 177.4,56.5 177.6,49.7 177.7,66.8 177.9,66.3 178.0,66.2 178.2,65.5 178.3,60.6 178.4,58.9 178.6,58.6 178.7,60.1 178.9,67.5 179.0,62.1 179.2,66.5 179.3,62.0 179.5,58.8 179.6,61.0 179.7,54.7 179.9,60.6 180.0,55.9 180.2,46.7 180.3,57.1 180.5,69.0 180.6,67.3 180.8,61.9 180.9,57.2 181.1,63.1 181.2,58.1 181.3,63.4 181.5,62.5 181.6,62.4 181.8,51.2 181.9,56.4 182.1,68.0 182.2,61.7 182.4,52.8 182.5,60.4 182.7,49.4 182.8,59.7 182.9,59.8 183.1,62.5 183.2,61.9 183.4,61.8 183.5,57.9 183.7,54.9 183.8,62.6 184.0,58.0 184.1,67.4 184.2,60.4 184.4,57.9 184.5,61.3 184.7,64.9 184.8,57.8 185.0,55.7 185.1,54.7 185.3,58.0 185.4,51.8 185.6,62.2 185.7,58.0 185.8,68.8 186.0,60.9 186.1,60.5 186.3,50.0 186.4,54.3 186.6,54.7 186.7,65.7 186.9,62.3 187.0,60.0 187.1,67.2 187.3,62.9 187.4,57.1 187.6,61.1 187.7,65.4 187.9,51.2 188.0,58.5 188.2,60.9 188.3,67.3 188.5,56.3 188.6,62.2 188.7,63.1 188.9,64.1 189.0,54.5 189.2,70.3 189.3,66.1 189.5,56.8 189.6,59.1 189.8,58.3 189.9,62.4 190.1,58.5 190.2,64.5 190.3,64.1 190.5,61.9 190.6,63.5 190.8,58.6 190.9,60.8 191.1,64.3 191.2,66.9 191.4,51.9 191.5,65.9 191.6,60.2 191.8,68.1 191.9,67.2 192.1,59.6 192.2,52.5 192.4,52.9 192.5,63.1 192.7,65.4 192.8,57.0 193.0,54.0 193.1,64.7 193.2,64.4 193.4,53.2 193.5,65.0 193.7,56.6 193.8,64.5 194.0,58.7 194.1,67.6 194.3,58.4 194.4,66.1 194.6,66.9 194.7,63.5 194.8,54.5 195.0,59.1 195.1,60.6 195.3,56.9 195.4,63.9 195.6,55.1 195.7,67.5 195.9,50.5 196.0,58.3 196.1,59.7 196.3,72.6 196.4,60.6 196.6,60.9 196.7,57.1 196.9,66.4 197.0,52.2 197.2,61.6 197.3,59.1 197.5,63.7 197.6,48.1 197.7,63.6 197.9,60.1 198.0,55.7 198.2,48.7 198.3,60.4 198.5,63.2 198.6,62.0 198.8,60.1 198.9,57.3 199.1,60.2 199.2,66.0 199.3,60.2 199.5,59.6 199.6,63.3 199.8,55.8 199.9,54.0 200.1,72.5 200.2,57.4 200.4,57.1 200.5,52.6 200.6,56.3 200.8,52.1 200.9,54.6 201.1,65.3 201.2,63.2 201.4,64.0 201.5,57.5 201.7,62.5 201.8,65.3 202.0,58.1 202.1,53.2 202.2,60.2 202.4,63.4 202.5,64.4 202.7,61.6 202.8,60.4 203.0,59.4 203.1,56.8 203.3,59.8 203.4,70.4 203.6,55.5 203.7,44.8 203.8,64.7 204.0,67.3 204.1,53.7 204.3,51.7 204.4,59.1 204.6,50.0 204.7,51.2 204.9,55.7 205.0,47.7 205.1,69.9 205.3,54.9 205.4,66.5 205.6,64.5 205.7,61.9 205.9,62.6 206.0,61.0 206.2,49.1 206.3,58.8 206.5,63.0 206.6,63.5 206.7,61.8 206.9,69.4 207.0,50.4 207.2,64.6 207.3,51.1 207.5,67.9 207.6,65.2 207.8,64.6 207.9,58.4 208.1,56.8 208.2,67.1 208.3,68.6 208.5,61.5 208.6,59.4 208.8,58.4 208.9,71.1 209.1,53.3 209.2,61.3 209.4,58.8 209.5,58.1 209.6,65.6 209.8,55.8 209.9,51.9 210.1,58.5 210.2,64.7 210.4,63.4 210.5,59.7 210.7,59.9 210.8,55.3 211.0,64.9 211.1,62.0 211.2,58.9 211.4,60.3 211.5,61.7 211.7,65.4 211.8,63.1 212.0,60.9 212.1,54.9 212.3,61.3 212.4,53.4 212.6,56.9 212.7,59.3 212.8,58.7 213.0,59.9 213.1,62.6 213.3,64.0 213.4,53.9 213.6,64.3 213.7,55.3 213.9,64.4 214.0,59.7 214.1,57.0 214.3,54.0 214.4,58.8 214.6,65.1 214.7,66.7 214.9,64.5 215.0,56.7 215.2,66.1 215.3,56.2 215.5,61.0 215.6,69.5 215.7,64.3 215.9,58.6 216.0,65.4 216.2,59.6 216.3,58.6 216.5,72.3 216.6,72.0 216.8,65.6 216.9,69.1 217.1,59.0 217.2,61.5 217.3,64.9 217.5,60.0 217.6,58.8 217.8,71.2 217.9,66.0 218.1,62.9 218.2,52.9 218.4,62.2 218.5,54.4 218.6,67.8 218.8,67.1 218.9,58.1 219.1,63.6 219.2,53.8 219.4,56.7 219.5,66.2 219.7,67.7 219.8,56.2 220.0,59.0 220.1,58.9 220.2,66.8 220.4,59.3 220.5,68.3 220.7,59.0 220.8,58.2 221.0,64.7 221.1,64.3 221.3,44.1 221.4,59.6 221.6,60.4 221.7,66.4 221.8,57.7 222.0,59.9 222.1,59.3 222.3,54.6 222.4,57.8 222.6,47.5 222.7,63.4 222.9,64.6 223.0,56.1 223.1,65.1 223.3,56.3 223.4,66.9 223.6,60.3 223.7,49.9 223.9,60.3 224.0,58.5 224.2,50.7 224.3,57.8 224.5,63.0 224.6,61.5 224.7,52.0 224.9,52.5 225.0,53.1 225.2,60.1 225.3,64.0 225.5,58.9 225.6,68.8 225.8,68.1 225.9,64.5 226.1,61.1 226.2,58.0 226.3,72.5 226.5,51.6 226.6,61.4 226.8,56.6 226.9,52.0 227.1,58.0 227.2,51.0 227.4,62.5 227.5,66.3 227.6,60.6 227.8,65.1 227.9,52.7 228.1,70.9 228.2,58.1 228.4,59.2 228.5,58.6 228.7,62.8 228.8,65.0 229.0,61.6 229.1,69.7 229.2,66.9 229.4,63.4 229.5,66.2 229.7,64.3 229.8,58.5 230.0,73.5 230.1,65.4 230.3,69.4 230.4,59.4 230.6,56.4 230.7,60.4 230.8,69.1 231.0,64.3 231.1,64.8 231.3,60.5 231.4,55.2 231.6,63.6 231.7,52.0 231.9,58.4 232.0,53.7 232.1,62.6 232.3,68.2 232.4,46.3 232.6,60.2 232.7,64.6 232.9,68.3 233.0,72.2 233.2,53.2 233.3,59.5 233.5,60.3 233.6,64.5 233.7,58.5 233.9,54.9 234.0,65.5 234.2,63.0 234.3,69.4 234.5,68.1 234.6,63.9 234.8,59.9 234.9,49.6 235.1,58.0 235.2,59.0 235.3,60.3 235.5,55.5 235.6,62.1 235.8,66.0 235.9,64.4 236.1,60.6 236.2,57.6 236.4,57.6 236.5,59.3 236.6,61.3 236.8,56.9 236.9,58.7 237.1,52.7 237.2,63.3 237.4,59.1 237.5,61.9 237.7,63.2 237.8,55.1 238.0,58.3 238.1,62.3 238.2,61.6 238.4,63.5 238.5,56.4 238.7,59.1 238.8,57.7 239.0,60.0 239.1,55.2 239.3,53.0 239.4,63.8 239.6,63.5 239.7,61.0 239.8,64.2 240.0,61.5 240.1,55.5 240.3,63.7 240.4,65.6 240.6,60.2 240.7,56.3 240.9,61.0 241.0,65.8 241.1,58.6 241.3,61.3 241.4,62.9 241.6,60.1 241.7,57.8 241.9,63.6 242.0,60.0 242.2,58.2 242.3,65.3 242.5,60.8 242.6,62.7 242.7,61.6 242.9,56.7 243.0,55.6 243.2,59.4 243.3,54.1 243.5,65.6 243.6,56.8 243.8,63.4 243.9,63.2 244.1,52.9 244.2,55.9 244.3,53.6 244.5,52.6 244.6,72.0 244.8,55.9 244.9,65.8 245.1,55.9 245.2,47.8 245.4,60.6 245.5,70.7 245.6,58.6 245.8,60.8 245.9,52.5 246.1,49.1 246.2,60.9 246.4,66.8 246.5,65.7 246.7,67.8 246.8,68.0 247.0,63.0 247.1,58.6 247.2,66.4 247.4,61.7 247.5,45.8 247.7,69.7 247.8,57.4 248.0,59.7 248.1,61.8 248.3,57.8 248.4,62.7 248.6,65.6 248.7,59.5 248.8,61.3 249.0,57.9 249.1,66.3 249.3,66.6 249.4,52.3 249.6,61.0 249.7,57.6 249.9,63.8 250.0,60.4 250.1,60.6 250.3,65.2 250.4,57.5 250.6,54.3 250.7,59.0 250.9,55.2 251.0,56.9 251.2,61.4 251.3,60.1 251.5,66.2 251.6,59.6 251.7,60.5 251.9,53.9 252.0,66.4 252.2,67.1 252.3,57.8 252.5,69.9 252.6,60.2 252.8,56.6 252.9,68.6 253.1,58.3 253.2,59.6 253.3,55.0 253.5,65.3 253.6,63.7 253.8,64.8 253.9,65.6 254.1,56.4 254.2,56.7 254.4,51.4"/>
<polyline fill="none" stroke="#a00000" stroke-width="0.9" stroke-linejoin="round" points="65.8,155.9 66.0,156.9 66.2,157.2 66.4,158.0 66.6,156.5 66.8,155.6 67.1,156.3 67.3,156.0 67.5,155.7 67.7,156.8 67.9,154.7 68.1,156.8 68.3,156.1 68.5,154.7 68.7,156.4 68.9,156.2 69.2,156.6 69.4,156.1 69.6,157.6 69.8,156.7 70.0,155.3 70.2,156.2 70.4,156.4 70.6,156.1 70.8,156.1 71.0,156.2 71.3,156.0 71.5,157.3 71.7,156.0 71.9,156.7 72.1,155.8 72.3,156.3 72.5,156.9 72.7,156.3 72.9,156.9 73.1,155.7 73.4,156.3 73.6,155.8 73.8,157.0 74.0,155.3 74.2,156.5 74.4,155.5 74.6,155.8 74.8,156.9 75.0,156.1 75.2,156.6 75.4,156.1 75.7,155.5 75.9,155.9 76.1,155.7 76.3,157.0 76.5,156.2 76.7,156.1 76.9,155.7 77.1,156.7 77.3,156.0 77.5,156.0 77.8,157.2 78.0,156.9 78.2,156.0 78.4,157.0 78.6,157.0 78.8,155.8 79.0,156.1 79.2,156.4 79.4,156.2 79.6,156.5 79.9,156.5 80.1,156.4 80.3,155.8 80.5,155.1 80.7,156.0 80.9,155.7 81.1,155.6 81.3,156.0 81.5,154.9 81.7,154.4 82.0,155.2 82.2,154.0 82.4,154.5 82.6,153.3 82.8,153.0 83.0,153.7 83.2,154.3 83.4,153.1 83.6,153.4 83.8,153.1 84.0,152.2 84.3,150.9 84.5,151.5 84.7,151.6 84.9,155.4 85.1,152.0 85.3,153.6 85.5,148.6 85.7,150.8 85.9,149.3 86.1,148.8 86.4,148.8 86.6,145.6 86.8,146.3 87.0,147.8 87.2,146.1 87.4,144.6 87.6,142.0 87.8,144.5 88.0,140.7 88.2,145.1 88.5,143.6 88.7,146.1 88.9,139.8 89.1,143.7 89.3,143.1 89.5,137.9 89.7,140.6 89.9,140.5 90.1,135.7 90.3,137.9 90.5,134.5 90.8,137.2 91.0,133.7 91.2,132.1 91.4,133.8 91.6,128.9 91.8,133.6 92.0,132.4 92.2,130.9 92.4,127.9 92.6,130.4 92.9,130.0 93.1,127.7 93.3,124.5 93.5,128.0 93.7,129.6 93.9,126.1 94.1,123.6 94.3,125.9 94.5,123.7 94.7,128.0 95.0,122.7 95.2,121.9 95.4,120.0 95.6,120.2 95.8,118.4 96.0,122.2 96.2,117.6 96.4,122.7 96.6,119.5 96.8,114.8 97.1,114.8 97.3,121.0 97.5,114.4 97.7,116.4 97.9,116.8 98.1,113.9 98.3,113.6 98.5,110.0 98.7,116.6 98.9,113.6 99.1,112.5 99.4,116.3 99.6,108.5 99.8,106.7 100.0,112.2 100.2,109.4 100.4,110.7 100.6,109.1 100.8,111.1 101.0,107.1 101.2,111.8 101.5,105.2 101.7,107.4 101.9,102.0 102.1,111.9 102.3,107.7 102.5,110.4 102.7,107.3 102.9,105.7 103.1,108.8 103.3,109.8 103.6,110.3 103.8,105.2 104.0,102.4 104.2,102.4 104.4,105.0 104.6,107.2 104.8,105.5 105.0,108.1 105.2,108.1 105.4,101.3 105.7,104.4 105.9,102.8 106.1,104.0 106.3,99.8 106.5,99.4 106.7,104.6 106.9,103.4 107.1,104.0 107.3,98.9 107.5,98.9 107.7,102.5 108.0,95.9 108.2,101.4 108.4,104.2 108.6,106.1 108.8,101.2 109.0,99.9 109.2,102.0 109.4,99.5 109.6,97.3 109.8,100.2 110.1,97.8 110.3,95.6 110.5,98.3 110.7,100.9 110.9,98.2 111.1,97.8 111.3,93.7 111.5,99.9 111.7,102.5 111.9,97.8 112.2,97.6 112.4,99.2 112.6,96.7 112.8,97.1 113.0,94.8 113.2,99.7 113.4,99.2 113.6,97.4 113.8,98.5 114.0,93.9 114.3,95.5 114.5,96.8 114.7,92.9 114.9,95.3 115.1,93.9 115.3,94.2 115.5,96.5 115.7,96.3 115.9,95.8 116.1,98.4 116.3,96.4 116.6,93.3 116.8,94.6 117.0,97.5 117.2,89.2 117.4,97.5 117.6,93.3 117.8,92.9 118.0,91.4 118.2,96.6 118.4,94.3 118.7,94.7 118.9,91.3 119.1,93.0 119.3,92.8 119.5,92.4 119.7,88.8 119.9,91.8 120.1,91.2 120.3,95.6 120.5,91.4 120.8,96.1 121.0,90.6 121.2,92.4 121.4,94.9 121.6,95.4 121.8,92.7 122.0,92.0 122.2,93.6 122.4,92.9 122.6,92.8 122.8,93.2 123.1,92.3 123.3,91.0 123.5,88.4 123.7,89.9 123.9,92.8 124.1,87.3 124.3,88.3 124.5,91.8 124.7,88.5 124.9,92.2 125.2,92.7 125.4,92.5 125.6,86.7 125.8,90.2 126.0,89.7 126.2,90.2 126.4,91.3 126.6,89.0 126.8,88.5 127.0,85.2 127.3,92.1 127.5,86.1 127.7,88.2 127.9,94.0 128.1,87.3 128.3,85.6 128.5,86.8 128.7,88.9 128.9,89.0 129.1,94.2 129.4,88.5 129.6,88.7 129.8,91.4 130.0,88.6 130.2,90.6 130.4,83.4 130.6,91.9 130.8,91.1 131.0,94.1 131.2,89.7 131.4,88.4 131.7,88.6 131.9,90.2 132.1,86.4 132.3,87.9 132.5,85.5 132.7,88.7 132.9,92.7 133.1,88.7 133.3,90.8 133.5,86.2 133.8,89.7 134.0,88.7 134.2,88.1 134.4,91.8 134.6,89.0 134.8,85.8 135.0,89.3 135.2,88.3 135.4,87.4 135.6,89.5 135.9,88.5 136.1,86.6 136.3,88.6 136.5,87.5 136.7,87.9 136.9,90.1 137.1,90.7 137.3,82.5 137.5,84.0 137.7,87.6 138.0,85.0 138.2,84.5 138.4,84.8 138.6,88.1 138.8,90.7 139.0,90.2 139.2,87.6 139.4,83.7 139.6,83.1 139.8,87.5 140.0,87.7 140.3,83.8 140.5,81.7 140.7,89.0 140.9,85.5 141.1,86.3 141.3,87.4 141.5,87.3 141.7,87.3 141.9,86.4 142.1,90.2 142.4,86.4 142.6,84.4 142.8,84.4 143.0,84.3 143.2,85.4 143.4,85.7 143.6,81.3 143.8,86.5 144.0,85.6 144.2,82.9 144.5,85.8 144.7,89.1 144.9,87.2 145.1,86.9 145.3,86.2 145.5,86.8 145.7,83.3 145.9,83.9 146.1,84.4 146.3,86.6 146.6,83.0 146.8,83.1 147.0,80.1 147.2,86.9 147.4,85.7 147.6,81.9 147.8,88.0 148.0,84.6 148.2,84.7 148.4,85.1 148.6,87.5 148.9,85.0 149.1,88.8 149.3,82.1 149.5,86.2 149.7,84.6 149.9,85.0 150.1,84.5 150.3,84.6 150.5,83.9 150.7,85.8 151.0,84.8 151.2,87.6 151.4,87.4 151.6,86.9 151.8,87.2 152.0,88.1 152.2,86.2 152.4,83.1 152.6,83.6 152.8,85.6 153.1,83.8 153.3,83.7 153.5,78.0 153.7,88.4 153.9,83.9 154.1,87.7 154.3,81.3 154.5,84.9 154.7,83.3 154.9,83.8 155.1,82.6 155.4,91.4 155.6,87.1 155.8,84.0 156.0,87.4 156.2,82.8 156.4,81.1 156.6,87.3 156.8,85.1 157.0,82.5 157.2,79.5 157.5,81.5 157.7,82.1 157.9,86.0 158.1,83.8 158.3,83.5 158.5,85.3 158.7,82.8 158.9,84.5 159.1,84.8 159.3,78.5 159.6,84.1 159.8,79.1 160.0,84.6 160.2,83.8 160.4,86.6 160.6,85.0 160.8,79.6 161.0,83.5 161.2,88.4 161.4,80.0 161.7,85.7 161.9,84.5 162.1,83.5 162.3,88.0 162.5,79.6 162.7,80.2 162.9,84.2 163.1,82.4 163.3,84.0 163.5,84.7 163.7,83.8 164.0,86.8 164.2,84.2 164.4,84.5 164.6,78.4 164.8,86.7 165.0,80.0 165.2,81.3 165.4,82.7 165.6,84.5 165.8,78.5 166.1,79.4 166.3,83.1 166.5,83.4 166.7,82.4 166.9,78.4 167.1,85.1 167.3,82.6 167.5,80.0 167.7,86.2 167.9,83.0 168.2,80.0 168.4,83.8 168.6,83.0 168.8,86.5 169.0,81.7 169.2,85.5 169.4,83.5 169.6,81.7 169.8,83.9 170.0,80.4 170.3,80.7 170.5,81.3 170.7,80.0 170.9,82.8 171.1,87.7 171.3,80.3 171.5,80.4 171.7,83.5 171.9,84.4 172.1,79.4 172.3,83.4 172.6,83.2 172.8,83.3 173.0,76.4 173.2,84.0 173.4,88.6 173.6,82.5 173.8,84.8 174.0,86.5 174.2,81.9 174.4,83.6 174.7,80.1 174.9,83.1 175.1,79.3 175.3,79.8 175.5,82.1 175.7,80.3 175.9,77.7 176.1,80.4 176.3,85.6 176.5,81.9 176.8,81.6 177.0,79.0 177.2,82.3 177.4,79.2 177.6,82.3 177.8,81.9 178.0,82.5 178.2,81.9 178.4,82.3 178.6,81.1 178.9,83.8 179.1,84.4 179.3,82.1 179.5,81.5 179.7,82.8 179.9,80.8 180.1,81.0 180.3,77.6 180.5,85.3 180.7,76.9 180.9,87.5 181.2,86.1 181.4,81.1 181.6,84.1 181.8,82.5 182.0,82.8 182.2,85.0 182.4,85.1 182.6,82.7 182.8,80.8 183.0,80.2 183.3,81.3 183.5,82.5 183.7,78.7 183.9,87.0 184.1,81.5 184.3,78.5 184.5,77.6 184.7,78.6 184.9,78.2 185.1,79.0 185.4,81.1 185.6,86.9 185.8,82.7 186.0,82.1 186.2,77.5 186.4,82.4 186.6,82.2 186.8,79.7 187.0,83.6 187.2,81.2 187.4,79.9 187.7,82.0 187.9,81.3 188.1,85.5 188.3,84.2 188.5,81.7 188.7,78.3 188.9,82.5 189.1,83.4 189.3,83.0 189.5,79.4 189.8,84.5 190.0,80.6 190.2,81.9 190.4,80.8 190.6,82.8 190.8,80.7 191.0,77.6 191.2,81.6 191.4,82.1 191.6,87.2 191.9,79.7 192.1,82.4 192.3,79.9 192.5,80.5 192.7,82.7 192.9,82.3 193.1,84.0 193.3,75.8 193.5,78.4 193.7,78.6 194.0,77.7 194.2,77.2 194.4,78.5 194.6,78.0 194.8,74.4 195.0,84.7 195.2,80.0 195.4,82.0 195.6,80.3 195.8,86.6 196.0,83.0 196.3,78.3 196.5,83.4 196.7,78.9 196.9,82.3 197.1,80.7 197.3,83.9 197.5,81.7 197.7,83.9 197.9,78.8 198.1,84.4 198.4,79.3 198.6,81.4 198.8,80.4 199.0,76.5 199.2,80.6 199.4,81.5 199.6,79.9 199.8,78.2 200.0,81.2 200.2,75.6 200.5,79.4 200.7,80.7 200.9,81.4 201.1,80.1 201.3,78.3 201.5,77.1 201.7,79.4 201.9,81.1 202.1,79.7 202.3,84.7 202.6,76.8 202.8,77.5 203.0,80.0 203.2,77.7 203.4,81.8 203.6,74.9 203.8,79.6 204.0,80.3 204.2,73.9 204.4,81.3 204.6,77.8 204.9,80.9 205.1,80.1 205.3,79.4 205.5,80.1 205.7,75.0 205.9,75.9 206.1,80.0 206.3,72.7 206.5,78.6 206.7,79.0 207.0,77.5 207.2,81.0 207.4,75.2 207.6,80.7 207.8,81.6 208.0,75.9 208.2,80.7 208.4,79.1 208.6,81.5 208.8,79.6 209.1,78.3 209.3,84.4 209.5,78.7 209.7,80.5 209.9,75.1 210.1,73.6 210.3,77.2 210.5,77.1 210.7,75.9 210.9,75.9 211.2,82.0 211.4,81.8 211.6,79.7 211.8,82.0 212.0,79.4 212.2,78.3 212.4,80.5 212.6,77.4 212.8,75.0 213.0,78.4 213.2,77.5 213.5,78.6 213.7,78.7 213.9,79.8 214.1,81.3 214.3,77.1 214.5,75.8 214.7,78.6 214.9,78.2 215.1,81.8 215.3,79.0 215.6,77.7 215.8,78.7 216.0,78.3 216.2,80.9 216.4,81.5 216.6,79.0 216.8,74.7 217.0,79.3 217.2,82.0 217.4,80.0 217.7,78.9 217.9,75.4 218.1,75.7 218.3,80.3 218.5,80.8 218.7,78.9 218.9,78.3 219.1,80.7 219.3,75.9 219.5,79.3 219.7,77.6 220.0,78.7 220.2,77.0 220.4,78.5 220.6,77.6 220.8,75.2 221.0,77.6 221.2,74.6 221.4,81.2 221.6,78.6 221.8,80.7 222.1,81.6 222.3,78.2 222.5,73.4 222.7,77.5 222.9,75.6 223.1,82.7 223.3,77.5 223.5,80.8 223.7,77.5 223.9,75.5 224.2,79.2 224.4,75.4 224.6,79.9 224.8,77.8 225.0,79.6 225.2,77.8 225.4,78.4 225.6,83.4 225.8,78.9 226.0,79.2 226.3,73.9 226.5,84.1 226.7,77.8 226.9,76.0 227.1,73.4 227.3,74.8 227.5,78.1 227.7,74.4 227.9,78.3 228.1,78.4 228.3,78.8 228.6,78.8 228.8,74.2 229.0,81.9 229.2,81.7 229.4,75.6 229.6,76.7 229.8,75.8 230.0,78.5 230.2,76.3 230.4,78.5 230.7,79.1 230.9,78.9 231.1,77.5 231.3,77.7 231.5,78.8 231.7,74.0 231.9,76.8 232.1,78.7 232.3,81.1 232.5,78.0 232.8,81.8 233.0,80.0 233.2,80.6 233.4,80.0 233.6,77.4 233.8,85.8 234.0,74.3 234.2,76.8 234.4,79.0 234.6,79.4 234.9,76.1 235.1,78.2 235.3,73.6 235.5,78.2 235.7,80.2 235.9,81.4 236.1,78.1 236.3,75.3 236.5,80.8 236.7,74.7 236.9,75.8 237.2,78.6 237.4,74.7 237.6,82.1 237.8,83.1 238.0,77.1 238.2,76.7 238.4,76.8 238.6,77.8 238.8,81.3 239.0,76.4 239.3,78.6 239.5,75.6 239.7,77.2 239.9,80.5 240.1,76.2 240.3,75.7 240.5,75.7 240.7,79.4 240.9,80.2 241.1,75.7 241.4,77.8 241.6,77.9 241.8,75.1 242.0,75.0 242.2,76.3 242.4,78.1 242.6,73.9 242.8,80.1 243.0,77.6 243.2,76.7 243.5,80.9 243.7,79.3 243.9,75.4 244.1,77.7 244.3,80.1 244.5,73.4 244.7,77.0 244.9,77.2 245.1,73.0 245.3,81.1 245.5,78.8 245.8,79.7 246.0,74.2 246.2,79.4 246.4,71.6 246.6,76.2 246.8,76.6 247.0,75.0 247.2,77.9 247.4,79.6 247.6,78.9 247.9,77.3 248.1,79.8 248.3,77.1 248.5,78.9 248.7,77.9 248.9,77.6 249.1,73.4 249.3,71.7 249.5,72.7 249.7,77.5 250.0,78.8 250.2,74.4 250.4,73.7 250.6,74.6 250.8,78.3 251.0,76.1 251.2,77.5 251.4,74.3 251.6,74.5 251.8,76.2 252.0,77.8 252.3,72.4 252.5,76.3 252.7,74.7 252.9,75.3 253.1,74.8 253.3,73.8 253.5,77.5 253.7,77.8 253.9,75.2 254.1,84.6 254.4,76.8"/>
<polyline fill="none" stroke="#ff0000" stroke-width="0.9" stroke-linejoin="round" points="65.8,157.1 66.1,156.9 66.5,156.1 66.8,156.6 67.1,156.0 67.5,155.9 67.8,157.2 68.2,155.8 68.5,156.8 68.8,155.2 69.2,156.0 69.5,156.8 69.8,156.4 70.2,156.4 70.5,156.4 70.9,155.8 71.2,156.3 71.5,155.7 71.9,156.3 72.2,156.8 72.5,157.6 72.9,167.6 73.2,167.6 73.6,156.4 73.9,156.0 74.2,157.3 74.6,156.9 74.9,157.5 75.2,157.3 75.6,158.4 75.9,156.7 76.3,157.6 76.6,157.2 76.9,156.9 77.3,157.0 77.6,158.1 77.9,156.4 78.3,156.9 78.6,157.1 79.0,157.8 79.3,158.4 79.6,158.5 80.0,157.7 80.3,157.6 80.6,158.2 81.0,156.8 81.3,157.7 81.7,157.4 82.0,157.5 82.3,158.7 82.7,157.5 83.0,157.8 83.3,158.7 83.7,157.4 84.0,157.0 84.4,156.9 84.7,156.6 85.0,157.8 85.4,156.9 85.7,156.8 86.0,156.1 86.4,155.8 86.7,154.9 87.1,154.8 87.4,156.8 87.7,152.3 88.1,150.2 88.4,152.8 88.7,156.5 89.1,153.8 89.4,152.1 89.7,154.8 90.1,150.6 90.4,152.5 90.8,146.9 91.1,146.4 91.4,147.3 91.8,149.3 92.1,144.9 92.4,146.2 92.8,145.5 93.1,140.5 93.5,144.1 93.8,144.8 94.1,138.9 94.5,135.6 94.8,135.1 95.1,136.1 95.5,132.1 95.8,136.8 96.2,129.9 96.5,129.1 96.8,133.8 97.2,131.0 97.5,134.1 97.8,132.5 98.2,127.8 98.5,131.0 98.9,126.9 99.2,125.5 99.5,125.5 99.9,122.8 100.2,119.9 100.5,123.4 100.9,120.9 101.2,119.2 101.6,123.3 101.9,123.2 102.2,126.8 102.6,119.6 102.9,117.6 103.2,118.6 103.6,114.1 103.9,115.0 104.3,116.2 104.6,117.8 104.9,119.3 105.3,116.6 105.6,115.2 105.9,116.1 106.3,116.3 106.6,116.1 107.0,113.1 107.3,118.4 107.6,114.7 108.0,113.4 108.3,111.6 108.6,111.2 109.0,113.0 109.3,113.5 109.7,114.5 110.0,108.7 110.3,109.7 110.7,110.3 111.0,112.1 111.3,112.7 111.7,107.0 112.0,109.4 112.3,108.0 112.7,104.5 113.0,112.0 113.4,109.9 113.7,106.9 114.0,106.0 114.4,109.6 114.7,107.0 115.0,107.9 115.4,107.6 115.7,105.0 116.1,105.1 116.4,102.5 116.7,103.6 117.1,101.2 117.4,106.4 117.7,103.2 118.1,107.3 118.4,107.6 118.8,106.7 119.1,101.4 119.4,102.4 119.8,106.4 120.1,99.2 120.4,99.8 120.8,102.2 121.1,102.1 121.5,101.3 121.8,103.9 122.1,95.3 122.5,101.7 122.8,100.8 123.1,100.8 123.5,101.4 123.8,101.8 124.2,98.6 124.5,102.1 124.8,101.4 125.2,100.6 125.5,96.6 125.8,100.6 126.2,100.4 126.5,97.0 126.9,100.3 127.2,98.2 127.5,95.1 127.9,96.0 128.2,96.7 128.5,93.0 128.9,97.4 129.2,97.6 129.6,100.1 129.9,95.7 130.2,94.1 130.6,97.0 130.9,90.8 131.2,92.7 131.6,92.7 131.9,97.6 132.3,93.9 132.6,93.5 132.9,99.0 133.3,94.1 133.6,94.5 133.9,97.8 134.3,92.4 134.6,88.5 134.9,91.4 135.3,95.1 135.6,93.5 136.0,90.1 136.3,94.5 136.6,91.5 137.0,92.1 137.3,91.6 137.6,88.0 138.0,95.3 138.3,88.7 138.7,90.7 139.0,91.4 139.3,94.9 139.7,90.1 140.0,91.6 140.3,97.4 140.7,93.5 141.0,92.9 141.4,92.2 141.7,91.1 142.0,91.4 142.4,85.5 142.7,86.5 143.0,89.0 143.4,85.3 143.7,83.3 144.1,87.0 144.4,91.0 144.7,86.8 145.1,84.1 145.4,89.6 145.7,87.0 146.1,84.6 146.4,83.8 146.8,84.4 147.1,85.3 147.4,86.3 147.8,87.1 148.1,83.2 148.4,83.2 148.8,86.3 149.1,86.7 149.5,81.9 149.8,82.3 150.1,86.4 150.5,88.3 150.8,84.0 151.1,82.2 151.5,81.7 151.8,81.9 152.2,87.3 152.5,83.4 152.8,84.3 153.2,85.0 153.5,76.9 153.8,83.0 154.2,82.3 154.5,83.5 154.9,81.0 155.2,79.7 155.5,83.0 155.9,82.3 156.2,83.2 156.5,84.4 156.9,82.3 157.2,80.9 157.5,81.6 157.9,82.1 158.2,85.8 158.6,80.5 158.9,80.7 159.2,79.2 159.6,81.6 159.9,82.4 160.2,82.9 160.6,81.3 160.9,80.5 161.3,80.0 161.6,82.1 161.9,80.7 162.3,78.8 162.6,79.8 162.9,80.1 163.3,80.1 163.6,81.4 164.0,81.1 164.3,79.9 164.6,77.7 165.0,77.7 165.3,79.2 165.6,78.1 166.0,78.3 166.3,77.3 166.7,79.4 167.0,78.1 167.3,77.2 167.7,79.7 168.0,78.2 168.3,77.7 168.7,77.4 169.0,77.2 169.4,77.0 169.7,76.4 170.0,75.9 170.4,77.0 170.7,74.7 171.0,77.8 171.4,77.4 171.7,76.7 172.1,77.9 172.4,78.6 172.7,78.3 173.1,75.3 173.4,77.3 173.7,78.1 174.1,74.2 174.4,75.9 174.8,76.0 175.1,77.2 175.4,75.7 175.8,76.5 176.1,75.6 176.4,75.8 176.8,76.0 177.1,75.3 177.4,76.6 177.8,75.9 178.1,76.3 178.5,74.8 178.8,74.3 179.1,74.1 179.5,77.3 179.8,72.9 180.1,75.1 180.5,74.9 180.8,74.7 181.2,74.7 181.5,73.0 181.8,74.3 182.2,74.0 182.5,73.1 182.8,72.6 183.2,75.3 183.5,75.4 183.9,76.2 184.2,76.1 184.5,73.4 184.9,73.6 185.2,73.6 185.5,73.1 185.9,73.1 186.2,72.0 186.6,71.3 186.9,74.2 187.2,71.4 187.6,71.8 187.9,73.9 188.2,72.7 188.6,73.3 188.9,74.7 189.3,72.6 189.6,74.5 189.9,72.5 190.3,73.7 190.6,72.7 190.9,71.3 191.3,72.1 191.6,73.1 192.0,71.8 192.3,71.2 192.6,70.8 193.0,72.8 193.3,70.4 193.6,71.9 194.0,72.3 194.3,70.2 194.7,70.7 195.0,70.6 195.3,71.2 195.7,73.4 196.0,70.6 196.3,70.4 196.7,71.2 197.0,69.0 197.4,70.7 197.7,68.8 198.0,69.4 198.4,71.5 198.7,71.6 199.0,70.9 199.4,70.5 199.7,69.6 200.0,71.0 200.4,71.5 200.7,67.7 201.1,70.1 201.4,69.7 201.7,68.0 202.1,69.8 202.4,72.6 202.7,69.2 203.1,70.5 203.4,68.5 203.8,71.7 204.1,69.3 204.4,68.6 204.8,67.8 205.1,68.2 205.4,68.2 205.8,69.3 206.1,69.2 206.5,70.3 206.8,67.9 207.1,67.2 207.5,68.2 207.8,69.9 208.1,70.5 208.5,69.4 208.8,66.9 209.2,68.5 209.5,69.8 209.8,69.0 210.2,67.6 210.5,69.2 210.8,69.0 211.2,69.0 211.5,69.3 211.9,66.0 212.2,69.1 212.5,67.8 212.9,66.7 213.2,68.2 213.5,68.5 213.9,68.1 214.2,67.9 214.6,68.1 214.9,68.3 215.2,68.2 215.6,67.5 215.9,65.6 216.2,68.1 216.6,66.6 216.9,67.7 217.3,68.6 217.6,68.7 217.9,67.0 218.3,68.8 218.6,66.7 218.9,67.6 219.3,65.2 219.6,68.3 220.0,65.8 220.3,65.4 220.6,66.0 221.0,67.5 221.3,66.4 221.6,66.6 222.0,66.9 222.3,65.6 222.6,66.7 223.0,66.3 223.3,65.3 223.7,66.6 224.0,66.9 224.3,66.2 224.7,67.0 225.0,69.0 225.3,66.9 225.7,66.4 226.0,67.6 226.4,68.3 226.7,65.6 227.0,66.8 227.4,65.3 227.7,65.4 228.0,64.1 228.4,65.2 228.7,64.8 229.1,64.2 229.4,66.2 229.7,64.4 230.1,64.3 230.4,67.7 230.7,66.8 231.1,65.4 231.4,63.5 231.8,65.8 232.1,66.9 232.4,67.2 232.8,65.0 233.1,65.1 233.4,66.0 233.8,64.9 234.1,65.6 234.5,63.8 234.8,66.8 235.1,65.6 235.5,63.7 235.8,65.7 236.1,66.0 236.5,65.3 236.8,62.7 237.2,64.5 237.5,63.2 237.8,65.8 238.2,65.0 238.5,63.9 238.8,64.4 239.2,65.2 239.5,67.2 239.9,63.9 240.2,63.6 240.5,63.9 240.9,66.4 241.2,66.1 241.5,65.1 241.9,65.5 242.2,63.1 242.6,65.5 242.9,64.6 243.2,65.5 243.6,66.2 243.9,63.0 244.2,63.9 244.6,64.9 244.9,64.0 245.2,66.5 245.6,62.1 245.9,65.1 246.3,66.1 246.6,65.1 246.9,63.5 247.3,63.8 247.6,63.0 247.9,62.9 248.3,63.6 248.6,62.4 249.0,65.7 249.3,63.0 249.6,63.0 250.0,63.1 250.3,63.6 250.6,64.0 251.0,64.1 251.3,65.3 251.7,63.9 252.0,62.0 252.3,61.6 252.7,63.8 253.0,63.8 253.3,63.8 253.7,63.3 254.0,63.1 254.4,62.5"/>
<polyline fill="none" stroke="#f00000" stroke-width="0.9" stroke-linejoin="round" points="65.8,156.7 66.1,156.0 66.5,155.8 66.8,155.8 67.1,155.4 67.5,156.8 67.8,156.3 68.2,156.9 68.5,157.5 68.8,157.2 69.2,156.7 69.5,157.4 69.8,157.0 70.2,156.3 70.5,156.6 70.9,156.7 71.2,156.8 71.5,157.2 71.9,158.2 72.2,156.5 72.5,158.0 72.9,157.1 73.2,157.3 73.6,157.2 73.9,157.1 74.2,157.5 74.6,156.8 74.9,158.1 75.2,156.9 75.6,158.4 75.9,156.7 76.3,157.7 76.6,157.2 76.9,156.6 77.3,158.7 77.6,157.6 77.9,157.1 78.3,156.9 78.6,156.7 79.0,157.1 79.3,157.2 79.6,157.4 80.0,157.3 80.3,157.4 80.6,156.9 81.0,157.4 81.3,157.1 81.7,156.5 82.0,156.8 82.3,157.7 82.7,157.5 83.0,157.0 83.3,157.7 83.7,158.2 84.0,157.5 84.4,156.2 84.7,156.3 85.0,156.0 85.4,154.9 85.7,155.5 86.0,153.1 86.4,153.9 86.7,153.6 87.1,151.7 87.4,154.8 87.7,152.8 88.1,151.0 88.4,152.1 88.7,149.7 89.1,146.5 89.4,146.2 89.7,145.5 90.1,141.9 90.4,138.5 90.8,137.9 91.1,144.6 91.4,135.5 91.8,135.4 92.1,134.9 92.4,136.6 92.8,134.1 93.1,132.3 93.5,133.8 93.8,126.7 94.1,126.3 94.5,127.0 94.8,127.8 95.1,121.4 95.5,121.6 95.8,119.3 96.2,121.3 96.5,113.7 96.8,118.0 97.2,112.1 97.5,119.7 97.8,113.4 98.2,112.7 98.5,117.5 98.9,112.4 99.2,112.8 99.5,112.4 99.9,110.3 100.2,110.6 100.5,106.8 100.9,106.0 101.2,106.0 101.6,108.0 101.9,106.8 102.2,101.6 102.6,105.7 102.9,104.6 103.2,105.5 103.6,102.7 103.9,101.6 104.3,101.5 104.6,102.0 104.9,101.1 105.3,102.9 105.6,100.7 105.9,104.1 106.3,101.4 106.6,99.4 107.0,103.4 107.3,99.1 107.6,99.9 108.0,103.1 108.3,104.0 108.6,103.6 109.0,102.0 109.3,98.7 109.7,98.7 110.0,96.2 110.3,93.7 110.7,99.6 111.0,102.8 111.3,101.4 111.7,102.3 112.0,99.1 112.3,98.5 112.7,94.1 113.0,100.1 113.4,96.9 113.7,96.6 114.0,96.1 114.4,96.7 114.7,90.4 115.0,95.2 115.4,94.4 115.7,92.6 116.1,93.3 116.4,89.5 116.7,95.9 117.1,93.3 117.4,93.6 117.7,92.3 118.1,89.8 118.4,92.9 118.8,95.6 119.1,90.7 119.4,92.8 119.8,88.8 120.1,89.3 120.4,84.8 120.8,87.9 121.1,90.7 121.5,87.6 121.8,85.7 122.1,87.6 122.5,87.5 122.8,87.8 123.1,87.7 123.5,88.6 123.8,83.5 124.2,85.0 124.5,88.8 124.8,82.8 125.2,84.9 125.5,84.1 125.8,84.0 126.2,81.4 126.5,88.8 126.9,83.5 127.2,82.0 127.5,83.2 127.9,86.4 128.2,85.2 128.5,81.6 128.9,78.6 129.2,85.9 129.6,82.6 129.9,80.3 130.2,80.2 130.6,79.2 130.9,77.5 131.2,78.1 131.6,82.9 131.9,80.0 132.3,81.5 132.6,78.8 132.9,75.1 133.3,75.9 133.6,72.8 133.9,74.6 134.3,75.0 134.6,74.9 134.9,78.4 135.3,77.0 135.6,75.1 136.0,74.5 136.3,74.6 136.6,77.9 137.0,77.9 137.3,77.9 137.6,71.0 138.0,75.2 138.3,72.9 138.7,74.7 139.0,74.8 139.3,74.8 139.7,74.9 140.0,73.8 140.3,72.0 140.7,76.5 141.0,73.4 141.4,74.0 141.7,74.2 142.0,71.7 142.4,69.4 142.7,75.9 143.0,72.5 143.4,70.3 143.7,70.7 144.1,76.1 144.4,71.3 144.7,73.2 145.1,73.2 145.4,70.4 145.7,74.3 146.1,71.4 146.4,69.9 146.8,73.2 147.1,73.9 147.4,66.8 147.8,73.7 148.1,68.5 148.4,72.8 148.8,70.8 149.1,72.2 149.5,70.7 149.8,70.6 150.1,73.3 150.5,71.1 150.8,68.6 151.1,72.3 151.5,75.5 151.8,69.8 152.2,72.2 152.5,69.4 152.8,71.0 153.2,71.8 153.5,70.6 153.8,69.1 154.2,69.1 154.5,72.6 154.9,72.7 155.2,72.3 155.5,66.9 155.9,69.0 156.2,71.3 156.5,69.8 156.9,66.2 157.2,71.6 157.5,69.9 157.9,67.2 158.2,67.2 158.6,67.3 158.9,70.6 159.2,68.5 159.6,70.7 159.9,68.7 160.2,68.8 160.6,68.7 160.9,67.0 161.3,68.2 161.6,68.1 161.9,67.1 162.3,66.0 162.6,68.4 162.9,66.8 163.3,67.7 163.6,68.8 164.0,67.8 164.3,66.9 164.6,67.3 165.0,67.4 165.3,66.9 165.6,67.1 166.0,67.0 166.3,67.6 166.7,66.0 167.0,68.6 167.3,66.2 167.7,67.0 168.0,65.5 168.3,67.2 168.7,68.3 169.0,65.5 169.4,64.9 169.7,67.5 170.0,65.3 170.4,65.3 170.7,66.5 171.0,64.9 171.4,66.2 171.7,64.3 172.1,64.1 172.4,65.5 172.7,65.3 173.1,64.9 173.4,66.6 173.7,65.4 174.1,64.7 174.4,62.5 174.8,63.4 175.1,64.2 175.4,65.2 175.8,63.9 176.1,64.1 176.4,65.4 176.8,64.3 177.1,65.2 177.4,64.3 177.8,66.9 178.1,62.4 178.5,64.1 178.8,64.6 179.1,64.1 179.5,65.0 179.8,63.5 180.1,62.0 180.5,62.9 180.8,63.4 181.2,63.1 181.5,62.8 181.8,63.2 182.2,63.3 182.5,62.7 182.8,62.4 183.2,63.0 183.5,62.2 183.9,63.5 184.2,64.0 184.5,64.0 184.9,61.8 185.2,62.8 185.5,62.0 185.9,62.6 186.2,62.2 186.6,61.6 186.9,63.0 187.2,62.2 187.6,60.2 187.9,59.6 188.2,61.2 188.6,61.1 188.9,61.8 189.3,62.2 189.6,60.3 189.9,59.9 190.3,60.5 190.6,60.3 190.9,61.4 191.3,59.6 191.6,60.4 192.0,61.1 192.3,59.5 192.6,61.2 193.0,61.2 193.3,60.1 193.6,61.1 194.0,61.1 194.3,59.4 194.7,59.8 195.0,60.3 195.3,59.2 195.7,59.6 196.0,58.9 196.3,58.8 196.7,58.7 197.0,60.5 197.4,58.5 197.7,59.3 198.0,58.8 198.4,59.1 198.7,58.4 199.0,59.1 199.4,59.4 199.7,58.3 200.0,59.1 200.4,59.8 200.7,58.9 201.1,58.9 201.4,58.9 201.7,58.6 202.1,59.1 202.4,59.0 202.7,55.6 203.1,59.1 203.4,57.9 203.8,57.9 204.1,58.6 204.4,58.5 204.8,58.9 205.1,59.0 205.4,56.2 205.8,58.7 206.1,58.5 206.5,56.7 206.8,58.8 207.1,56.2 207.5,57.5 207.8,56.0 208.1,58.1 208.5,57.8 208.8,56.4 209.2,57.4 209.5,57.7 209.8,56.1 210.2,57.0 210.5,57.7 210.8,56.8 211.2,56.3 211.5,57.0 211.9,54.5 212.2,56.1 212.5,56.6 212.9,56.4 213.2,55.6 213.5,56.9 213.9,56.6 214.2,56.3 214.6,56.5 214.9,56.6 215.2,58.9 215.6,56.8 215.9,56.2 216.2,55.1 216.6,56.9 216.9,55.9 217.3,56.2 217.6,55.8 217.9,54.1 218.3,54.3 218.6,54.1 218.9,56.6 219.3,56.4 219.6,54.9 220.0,56.5 220.3,54.6 220.6,52.3 221.0,56.4 221.3,54.4 221.6,55.1 222.0,54.7 222.3,55.4 222.6,56.7 223.0,55.6 223.3,55.9 223.7,56.2 224.0,55.1 224.3,54.7 224.7,55.8 225.0,54.2 225.3,54.7 225.7,54.3 226.0,54.3 226.4,55.2 226.7,52.3 227.0,54.0 227.4,53.6 227.7,54.7 228.0,54.4 228.4,53.6 228.7,55.1 229.1,54.0 229.4,52.8 229.7,54.5 230.1,54.0 230.4,55.2 230.7,53.9 231.1,53.7 231.4,54.0 231.8,53.4 232.1,54.2 232.4,54.1 232.8,52.8 233.1,52.9 233.4,53.5 233.8,52.0 234.1,53.7 234.5,53.7 234.8,52.9 235.1,51.4 235.5,53.8 235.8,53.7 236.1,53.6 236.5,53.9 236.8,54.5 237.2,52.7 237.5,52.4 237.8,52.7 238.2,52.9 238.5,53.6 238.8,52.6 239.2,52.9 239.5,53.7 239.9,52.9 240.2,54.0 240.5,53.3 240.9,53.7 241.2,52.2 241.5,53.5 241.9,52.5 242.2,54.1 242.6,52.6 242.9,52.1 243.2,52.8 243.6,53.4 243.9,53.3 244.2,52.4 244.6,52.6 244.9,53.0 245.2,53.8 245.6,53.8 245.9,52.9 246.3,53.2 246.6,52.2 246.9,51.8 247.3,52.3 247.6,52.9 247.9,52.6 248.3,51.7 248.6,53.7 249.0,51.5 249.3,51.5 249.6,52.7 250.0,52.1 250.3,52.0 250.6,51.0 251.0,51.4 251.3,52.6 251.7,54.9 252.0,50.0 252.3,51.1 252.7,52.3 253.0,53.3 253.3,52.3 253.7,52.8 254.0,50.5 254.4,51.0"/>
<line x1="65.80" y1="31.90" x2="65.80" y2="168.85" stroke="#000" stroke-width="1.6"/>
<line x1="65.00" y1="168.10" x2="259.60" y2="168.10" stroke="#000" stroke-width="1.5"/>
<line x1="61.20" y1="156.30" x2="65.80" y2="156.30" stroke="#000" stroke-width="1.0"/>
<text x="57.40" y="160.74" font-size="9.7" text-anchor="end" fill="#000" textLength="6.09" lengthAdjust="spacingAndGlyphs">0</text>
<line x1="61.20" y1="132.74" x2="65.80" y2="132.74" stroke="#000" stroke-width="1.0"/>
<text x="57.40" y="137.00" font-size="9.7" text-anchor="end" fill="#000" textLength="12.19" lengthAdjust="spacingAndGlyphs">20</text>
<line x1="61.20" y1="109.18" x2="65.80" y2="109.18" stroke="#000" stroke-width="1.0"/>
<text x="57.40" y="113.26" font-size="9.7" text-anchor="end" fill="#000" textLength="12.19" lengthAdjust="spacingAndGlyphs">40</text>
<line x1="61.20" y1="85.62" x2="65.80" y2="85.62" stroke="#000" stroke-width="1.0"/>
<text x="57.40" y="89.52" font-size="9.7" text-anchor="end" fill="#000" textLength="12.19" lengthAdjust="spacingAndGlyphs">60</text>
<line x1="61.20" y1="62.06" x2="65.80" y2="62.06" stroke="#000" stroke-width="1.0"/>
<text x="57.40" y="65.78" font-size="9.7" text-anchor="end" fill="#000" textLength="12.19" lengthAdjust="spacingAndGlyphs">80</text>
<line x1="61.20" y1="38.50" x2="65.80" y2="38.50" stroke="#000" stroke-width="1.0"/>
<text x="57.40" y="42.04" font-size="9.7" text-anchor="end" fill="#000" textLength="18.28" lengthAdjust="spacingAndGlyphs">100</text>
<line x1="65.80" y1="168.10" x2="65.80" y2="172.50" stroke="#000" stroke-width="1.0"/>
<text x="65.80" y="184.20" font-size="9.7" text-anchor="middle" fill="#000" textLength="6.09" lengthAdjust="spacingAndGlyphs">0</text>
<line x1="92.47" y1="168.10" x2="92.47" y2="172.50" stroke="#000" stroke-width="1.0"/>
<text x="92.47" y="184.20" font-size="9.7" text-anchor="middle" fill="#000" textLength="6.09" lengthAdjust="spacingAndGlyphs">1</text>
<line x1="119.14" y1="168.10" x2="119.14" y2="172.50" stroke="#000" stroke-width="1.0"/>
<text x="119.14" y="184.20" font-size="9.7" text-anchor="middle" fill="#000" textLength="6.09" lengthAdjust="spacingAndGlyphs">2</text>
<line x1="145.81" y1="168.10" x2="145.81" y2="172.50" stroke="#000" stroke-width="1.0"/>
<text x="145.81" y="184.20" font-size="9.7" text-anchor="middle" fill="#000" textLength="6.09" lengthAdjust="spacingAndGlyphs">3</text>
<line x1="172.48" y1="168.10" x2="172.48" y2="172.50" stroke="#000" stroke-width="1.0"/>
<text x="172.48" y="184.20" font-size="9.7" text-anchor="middle" fill="#000" textLength="6.09" lengthAdjust="spacingAndGlyphs">4</text>
<line x1="199.15" y1="168.10" x2="199.15" y2="172.50" stroke="#000" stroke-width="1.0"/>
<text x="199.15" y="184.20" font-size="9.7" text-anchor="middle" fill="#000" textLength="6.09" lengthAdjust="spacingAndGlyphs">5</text>
<line x1="225.82" y1="168.10" x2="225.82" y2="172.50" stroke="#000" stroke-width="1.0"/>
<text x="225.82" y="184.20" font-size="9.7" text-anchor="middle" fill="#000" textLength="6.09" lengthAdjust="spacingAndGlyphs">6</text>
<line x1="252.49" y1="168.10" x2="252.49" y2="172.50" stroke="#000" stroke-width="1.0"/>
<text x="252.49" y="184.20" font-size="9.7" text-anchor="middle" fill="#000" textLength="6.09" lengthAdjust="spacingAndGlyphs">7</text>
<text x="128.60" y="199.10" font-size="11.7" textLength="18.6" lengthAdjust="spacingAndGlyphs" style="stroke-width:0.3px">Time</text>
<text x="150.60" y="199.10" font-size="11.7" textLength="37.6" lengthAdjust="spacingAndGlyphs" style="stroke-width:0.3px">(minutes)</text>
<text transform="translate(31.70,166.38) rotate(-90)" font-size="12.5" textLength="34.05" lengthAdjust="spacingAndGlyphs" style="stroke-width:0.35px">Maximal</text>
<text transform="translate(31.70,130.61) rotate(-90)" font-size="12.5" textLength="29.15" lengthAdjust="spacingAndGlyphs" style="stroke-width:0.35px">platelet</text>
<text transform="translate(31.70,98.46) rotate(-90)" font-size="12.5" textLength="46.50" lengthAdjust="spacingAndGlyphs" style="stroke-width:0.35px">aggregation</text>
<text transform="translate(31.70,48.86) rotate(-90)" font-size="12.5" textLength="15.13" lengthAdjust="spacingAndGlyphs" style="stroke-width:0.35px">(%)</text>
<text x="124.40" y="31.90" font-size="10" fill="#000" textLength="76" lengthAdjust="spacingAndGlyphs">CRP 0.075μg/mL</text>
<text x="9.10" y="21.00" font-size="15.8" font-weight="bold" style="stroke-width:0.5px">A</text>
<line x1="257.90" y1="45.00" x2="257.90" y2="71.30" stroke="#444" stroke-width="1.6"/>
<line x1="257.90" y1="91.20" x2="257.90" y2="110.30" stroke="#444" stroke-width="1.6"/>
<text x="261.00" y="54.80" font-size="10" fill="#000">COVID-19</text>
<text x="261.00" y="66.90" font-size="10" fill="#000" textLength="30.8" lengthAdjust="spacingAndGlyphs">plasma</text>
<text x="261.00" y="99.00" font-size="10" fill="#000" textLength="32.6" lengthAdjust="spacingAndGlyphs">Healthy</text>
<text x="261.00" y="110.00" font-size="10" fill="#000" textLength="30.8" lengthAdjust="spacingAndGlyphs">plasma</text>
<rect x="423.90" y="145.36" width="25.40" height="22.64" fill="#88a8c2"/>
<rect x="471.00" y="94.74" width="25.00" height="73.26" fill="#de8a96"/>
<line x1="436.60" y1="145.36" x2="436.60" y2="140.20" stroke="#000" stroke-width="1.2"/>
<line x1="432.10" y1="140.20" x2="441.10" y2="140.20" stroke="#000" stroke-width="1.5"/>
<line x1="483.50" y1="94.74" x2="483.50" y2="88.30" stroke="#000" stroke-width="1.2"/>
<line x1="479.00" y1="88.30" x2="488.00" y2="88.30" stroke="#000" stroke-width="1.5"/>
<circle cx="433.60" cy="122.20" r="1.6" fill="#0a4f8e"/>
<circle cx="436.70" cy="124.20" r="1.6" fill="#0a4f8e"/>
<circle cx="439.60" cy="121.30" r="1.6" fill="#0a4f8e"/>
<circle cx="436.60" cy="133.30" r="1.6" fill="#0a4f8e"/>
<circle cx="436.60" cy="142.40" r="1.6" fill="#0a4f8e"/>
<circle cx="435.20" cy="147.50" r="1.6" fill="#0a4f8e"/>
<circle cx="437.90" cy="147.50" r="1.6" fill="#0a4f8e"/>
<circle cx="436.70" cy="162.80" r="1.6" fill="#0a4f8e"/>
<circle cx="433.80" cy="165.50" r="1.6" fill="#0a4f8e"/>
<circle cx="436.70" cy="167.70" r="1.6" fill="#0a4f8e"/>
<circle cx="439.40" cy="167.90" r="1.6" fill="#0a4f8e"/>
<circle cx="483.10" cy="55.20" r="1.6" fill="#c40a24"/>
<circle cx="481.60" cy="66.50" r="1.6" fill="#c40a24"/>
<circle cx="484.50" cy="67.90" r="1.6" fill="#c40a24"/>
<circle cx="480.20" cy="78.30" r="1.6" fill="#c40a24"/>
<circle cx="483.10" cy="78.80" r="1.6" fill="#c40a24"/>
<circle cx="486.00" cy="78.60" r="1.6" fill="#c40a24"/>
<circle cx="483.10" cy="84.30" r="1.6" fill="#c40a24"/>
<circle cx="483.10" cy="89.20" r="1.6" fill="#c40a24"/>
<circle cx="483.10" cy="97.70" r="1.6" fill="#c40a24"/>
<circle cx="483.10" cy="115.20" r="1.6" fill="#c40a24"/>
<circle cx="483.10" cy="118.30" r="1.6" fill="#c40a24"/>
<circle cx="483.10" cy="127.70" r="1.6" fill="#c40a24"/>
<circle cx="483.10" cy="135.40" r="1.6" fill="#c40a24"/>
<circle cx="483.10" cy="145.50" r="1.6" fill="#c40a24"/>
<line x1="411.00" y1="42.00" x2="411.00" y2="168.75" stroke="#000" stroke-width="1.6"/>
<line x1="410.20" y1="168.00" x2="511.00" y2="168.00" stroke="#000" stroke-width="1.5"/>
<line x1="407.20" y1="168.00" x2="411.00" y2="168.00" stroke="#000" stroke-width="1.0"/>
<text x="403.80" y="171.34" font-size="9.7" text-anchor="end" fill="#000" textLength="6.09" lengthAdjust="spacingAndGlyphs">0</text>
<line x1="407.20" y1="143.66" x2="411.00" y2="143.66" stroke="#000" stroke-width="1.0"/>
<text x="403.80" y="147.00" font-size="9.7" text-anchor="end" fill="#000" textLength="12.19" lengthAdjust="spacingAndGlyphs">20</text>
<line x1="407.20" y1="119.32" x2="411.00" y2="119.32" stroke="#000" stroke-width="1.0"/>
<text x="403.80" y="122.66" font-size="9.7" text-anchor="end" fill="#000" textLength="12.19" lengthAdjust="spacingAndGlyphs">40</text>
<line x1="407.20" y1="94.98" x2="411.00" y2="94.98" stroke="#000" stroke-width="1.0"/>
<text x="403.80" y="98.32" font-size="9.7" text-anchor="end" fill="#000" textLength="12.19" lengthAdjust="spacingAndGlyphs">60</text>
<line x1="407.20" y1="70.64" x2="411.00" y2="70.64" stroke="#000" stroke-width="1.0"/>
<text x="403.80" y="73.98" font-size="9.7" text-anchor="end" fill="#000" textLength="12.19" lengthAdjust="spacingAndGlyphs">80</text>
<line x1="407.20" y1="46.30" x2="411.00" y2="46.30" stroke="#000" stroke-width="1.0"/>
<text x="403.80" y="49.64" font-size="9.7" text-anchor="end" fill="#000" textLength="18.28" lengthAdjust="spacingAndGlyphs">100</text>
<line x1="436.60" y1="168.00" x2="436.60" y2="172.00" stroke="#000" stroke-width="1.0"/>
<line x1="483.30" y1="168.00" x2="483.30" y2="172.00" stroke="#000" stroke-width="1.0"/>
<text x="436.50" y="184.80" font-size="10" text-anchor="middle" fill="#000">Healthy</text>
<text x="436.50" y="196.70" font-size="10" text-anchor="middle" fill="#000">plasma</text>
<text x="483.30" y="184.40" font-size="10" text-anchor="middle" fill="#000" textLength="49.5" lengthAdjust="spacingAndGlyphs">COVID-19</text>
<text x="483.20" y="196.70" font-size="10" text-anchor="middle" fill="#000">plasma</text>
<line x1="438.00" y1="48.50" x2="484.50" y2="48.50" stroke="#333" stroke-width="1.3"/>
<text x="461.20" y="47.20" font-size="10" text-anchor="middle" fill="#000">**</text>
<text transform="translate(377.40,171.88) rotate(-90)" font-size="12.5" textLength="34.05" lengthAdjust="spacingAndGlyphs" style="stroke-width:0.35px">Maximal</text>
<text transform="translate(377.40,136.11) rotate(-90)" font-size="12.5" textLength="29.15" lengthAdjust="spacingAndGlyphs" style="stroke-width:0.35px">platelet</text>
<text transform="translate(377.40,103.96) rotate(-90)" font-size="12.5" textLength="46.50" lengthAdjust="spacingAndGlyphs" style="stroke-width:0.35px">aggregation</text>
<text transform="translate(377.40,54.36) rotate(-90)" font-size="12.5" textLength="15.13" lengthAdjust="spacingAndGlyphs" style="stroke-width:0.35px">(%)</text>
<text x="424.40" y="35.10" font-size="10" fill="#000" textLength="76.5" lengthAdjust="spacingAndGlyphs">CRP 0.075μg/mL</text>
<text x="357.00" y="21.00" font-size="15.8" font-weight="bold" style="stroke-width:0.5px">B</text>
<polyline fill="none" stroke="#0a0ad0" stroke-width="0.8" stroke-linejoin="round" points="65.8,365.1 66.0,364.6 66.2,366.6 66.4,364.7 66.5,365.8 66.7,366.3 66.9,366.4 67.1,366.6 67.3,366.2 67.5,365.6 67.7,365.8 67.9,365.8 68.0,367.3 68.2,367.2 68.4,365.4 68.6,365.8 68.8,365.1 69.0,365.7 69.2,367.0 69.4,365.7 69.5,366.1 69.7,366.4 69.9,367.0 70.1,366.5 70.3,366.6 70.5,366.0 70.7,366.4 70.8,365.6 71.0,367.0 71.2,366.2 71.4,372.9 71.6,367.0 71.8,367.2 72.0,365.8 72.2,366.0 72.3,366.3 72.5,365.9 72.7,366.5 72.9,365.7 73.1,366.2 73.3,365.5 73.5,364.6 73.7,365.6 73.8,364.1 74.0,365.4 74.2,364.0 74.4,364.4 74.6,362.0 74.8,360.7 75.0,359.8 75.2,358.6 75.3,355.2 75.5,353.6 75.7,355.8 75.9,350.9 76.1,353.7 76.3,350.9 76.5,348.6 76.6,346.8 76.8,347.5 77.0,345.8 77.2,343.4 77.4,343.8 77.6,342.8 77.8,339.5 78.0,338.1 78.1,339.1 78.3,338.1 78.5,337.3 78.7,337.4 78.9,336.7 79.1,337.0 79.3,332.5 79.5,333.4 79.6,332.8 79.8,331.3 80.0,329.8 80.2,326.9 80.4,330.4 80.6,330.1 80.8,328.0 80.9,330.1 81.1,323.9 81.3,324.2 81.5,324.2 81.7,325.8 81.9,322.8 82.1,321.3 82.3,322.3 82.4,324.0 82.6,327.8 82.8,319.3 83.0,322.8 83.2,323.9 83.4,318.1 83.6,319.5 83.8,324.5 83.9,320.2 84.1,320.5 84.3,316.4 84.5,325.1 84.7,320.4 84.9,319.5 85.1,314.6 85.2,322.1 85.4,327.7 85.6,322.8 85.8,317.6 86.0,315.8 86.2,312.9 86.4,316.9 86.6,320.5 86.7,315.2 86.9,317.9 87.1,318.4 87.3,317.6 87.5,313.7 87.7,320.3 87.9,320.6 88.1,317.6 88.2,317.5 88.4,319.8 88.6,319.9 88.8,316.0 89.0,313.1 89.2,314.9 89.4,315.0 89.5,313.3 89.7,323.2 89.9,321.7 90.1,319.2 90.3,320.7 90.5,320.1 90.7,316.9 90.9,321.1 91.0,318.6 91.2,323.5 91.4,320.3 91.6,313.2 91.8,319.1 92.0,316.5 92.2,315.4 92.4,319.1 92.5,315.9 92.7,317.1 92.9,315.7 93.1,319.9 93.3,322.5 93.5,321.3 93.7,319.9 93.9,316.7 94.0,319.1 94.2,319.8 94.4,319.2 94.6,315.4 94.8,320.6 95.0,314.3 95.2,322.8 95.3,320.9 95.5,316.6 95.7,317.7 95.9,322.0 96.1,319.8 96.3,321.8 96.5,317.1 96.7,318.1 96.8,322.0 97.0,318.7 97.2,321.1 97.4,320.2 97.6,319.9 97.8,321.9 98.0,318.9 98.2,318.9 98.3,319.0 98.5,317.0 98.7,321.3 98.9,325.1 99.1,322.1 99.3,320.0 99.5,320.6 99.6,319.0 99.8,318.4 100.0,321.2 100.2,321.3 100.4,324.0 100.6,317.9 100.8,321.9 101.0,324.5 101.1,324.7 101.3,322.6 101.5,316.6 101.7,319.1 101.9,326.7 102.1,321.9 102.3,320.8 102.5,319.8 102.6,320.7 102.8,323.8 103.0,320.6 103.2,323.6 103.4,328.8 103.6,324.2 103.8,324.2 103.9,319.2 104.1,319.0 104.3,325.5 104.5,321.8 104.7,322.1 104.9,326.8 105.1,328.8 105.3,322.8 105.4,322.2 105.6,324.5 105.8,331.0 106.0,322.9 106.2,324.6 106.4,325.6 106.6,323.9 106.8,326.4 106.9,321.3 107.1,323.1 107.3,324.9 107.5,322.3 107.7,323.4 107.9,328.0 108.1,323.8 108.2,324.8 108.4,328.8 108.6,325.5 108.8,322.3 109.0,325.5 109.2,319.4 109.4,318.5 109.6,324.7 109.7,322.1 109.9,317.8 110.1,324.9 110.3,326.7 110.5,325.3 110.7,328.3 110.9,328.2 111.1,323.5 111.2,325.5 111.4,323.5 111.6,322.8 111.8,326.7 112.0,325.0 112.2,325.2 112.4,326.5 112.6,327.0 112.7,323.6 112.9,325.0 113.1,323.6 113.3,321.6 113.5,321.6 113.7,328.1 113.9,327.4 114.0,325.6 114.2,324.4 114.4,322.0 114.6,327.8 114.8,326.2 115.0,324.2 115.2,321.2 115.4,320.8 115.5,328.1 115.7,325.7 115.9,327.6 116.1,322.5 116.3,323.8 116.5,326.3 116.7,327.1 116.9,324.3 117.0,322.2 117.2,327.6 117.4,326.3 117.6,324.9 117.8,325.3 118.0,324.3 118.2,328.4 118.3,327.2 118.5,331.8 118.7,325.2 118.9,322.1 119.1,331.7 119.3,327.4 119.5,322.7 119.7,325.9 119.8,331.3 120.0,322.0 120.2,329.9 120.4,321.4 120.6,327.4 120.8,327.8 121.0,325.5 121.2,325.7 121.3,323.8 121.5,324.1 121.7,326.1 121.9,321.7 122.1,323.5 122.3,324.9 122.5,325.3 122.6,326.1 122.8,326.0 123.0,323.8 123.2,324.4 123.4,325.7 123.6,322.8 123.8,326.7 124.0,324.6 124.1,323.3 124.3,329.3 124.5,326.7 124.7,320.8 124.9,328.9 125.1,322.5 125.3,329.2 125.5,324.8 125.6,329.3 125.8,327.9 126.0,327.2 126.2,327.8 126.4,323.0 126.6,323.5 126.8,323.5 126.9,325.5 127.1,321.1 127.3,323.0 127.5,325.2 127.7,329.4 127.9,324.1 128.1,324.2 128.3,325.9 128.4,324.0 128.6,323.9 128.8,327.2 129.0,324.5 129.2,325.2 129.4,325.3 129.6,327.3 129.8,327.7 129.9,325.9 130.1,321.9 130.3,319.2 130.5,327.5 130.7,329.6 130.9,327.4 131.1,328.9 131.3,327.7 131.4,325.2 131.6,329.2 131.8,324.5 132.0,324.0 132.2,321.8 132.4,320.9 132.6,323.4 132.7,319.5 132.9,328.0 133.1,325.6 133.3,325.9 133.5,325.1 133.7,323.3 133.9,327.5 134.1,321.2 134.2,322.6 134.4,325.4 134.6,325.0 134.8,329.4 135.0,334.1 135.2,326.7 135.4,325.5 135.6,325.8 135.7,329.8 135.9,327.8 136.1,321.1 136.3,324.2 136.5,324.6 136.7,327.4 136.9,324.2 137.0,322.5 137.2,324.1 137.4,327.7 137.6,325.6 137.8,329.1 138.0,327.4 138.2,324.7 138.4,328.1 138.5,327.2 138.7,322.1 138.9,327.0 139.1,324.1 139.3,327.4 139.5,329.9 139.7,326.4 139.9,327.5 140.0,332.6 140.2,330.1 140.4,327.7 140.6,322.0 140.8,328.2 141.0,326.5 141.2,324.5 141.3,325.6 141.5,327.5 141.7,321.3 141.9,322.4 142.1,333.9 142.3,323.5 142.5,324.8 142.7,323.5 142.8,326.2 143.0,323.9 143.2,320.6 143.4,321.2 143.6,321.0 143.8,323.2 144.0,323.6 144.2,323.6 144.3,329.8 144.5,319.5 144.7,325.7 144.9,325.5 145.1,326.1 145.3,325.0 145.5,332.9 145.6,325.7 145.8,330.3 146.0,329.4 146.2,332.1 146.4,331.7 146.6,324.7 146.8,327.9 147.0,326.8 147.1,327.0 147.3,330.0 147.5,328.6 147.7,330.3 147.9,327.4 148.1,333.2 148.3,327.7 148.5,323.7 148.6,322.8 148.8,323.0 149.0,325.0 149.2,329.5 149.4,323.7 149.6,324.9 149.8,325.7 150.0,330.2 150.1,325.3 150.3,322.2 150.5,324.2 150.7,327.2 150.9,324.8 151.1,326.5 151.3,325.9 151.4,323.9 151.6,325.4 151.8,326.3 152.0,325.3 152.2,329.0 152.4,329.5 152.6,325.0 152.8,328.3 152.9,324.8 153.1,332.1 153.3,322.8 153.5,326.8 153.7,321.4 153.9,334.0 154.1,331.6 154.3,322.2 154.4,326.0 154.6,325.6 154.8,326.1 155.0,326.0 155.2,324.8 155.4,329.5 155.6,327.0 155.7,322.5 155.9,325.9 156.1,328.4 156.3,326.2 156.5,323.3 156.7,327.1 156.9,327.0 157.1,325.0 157.2,323.9 157.4,322.0 157.6,326.9 157.8,325.4 158.0,323.3 158.2,332.3 158.4,326.0 158.6,325.1 158.7,326.7 158.9,329.0 159.1,324.7 159.3,322.7 159.5,326.7 159.7,327.9 159.9,327.1 160.0,321.7 160.2,322.7 160.4,326.3 160.6,329.8 160.8,330.3 161.0,327.4 161.2,327.4 161.4,325.6 161.5,329.9 161.7,326.8 161.9,324.8 162.1,331.6 162.3,319.4 162.5,324.7 162.7,324.8 162.9,330.4 163.0,329.5 163.2,323.3 163.4,323.7 163.6,333.8 163.8,322.9 164.0,324.2 164.2,324.5 164.3,329.8 164.5,325.6 164.7,328.2 164.9,324.7 165.1,320.8 165.3,324.4 165.5,323.3 165.7,327.3 165.8,329.5 166.0,326.3 166.2,323.2 166.4,321.9 166.6,326.5 166.8,325.6 167.0,327.6 167.2,331.6 167.3,326.1 167.5,325.3 167.7,327.6 167.9,326.9 168.1,331.9 168.3,326.2 168.5,322.1 168.7,326.4 168.8,324.5 169.0,325.0 169.2,328.7 169.4,325.7 169.6,328.8 169.8,317.4 170.0,325.7 170.1,329.7 170.3,331.0 170.5,321.8 170.7,324.5 170.9,325.1 171.1,330.5 171.3,328.1 171.5,330.1 171.6,323.0 171.8,328.0 172.0,320.5 172.2,324.8 172.4,327.3 172.6,322.3 172.8,332.8 173.0,328.9 173.1,327.6 173.3,323.1 173.5,323.1 173.7,325.3 173.9,331.8 174.1,328.0 174.3,329.7 174.4,322.5 174.6,327.7 174.8,324.6 175.0,320.7 175.2,326.6 175.4,324.2 175.6,327.5 175.8,326.2 175.9,326.2 176.1,326.3 176.3,326.1 176.5,327.6 176.7,320.6 176.9,328.3 177.1,325.6 177.3,327.3 177.4,333.3 177.6,323.4 177.8,325.7 178.0,330.6 178.2,328.6 178.4,331.3 178.6,325.5 178.7,321.6 178.9,322.6 179.1,330.3 179.3,331.6 179.5,324.8 179.7,321.2 179.9,326.2 180.1,323.2 180.2,330.7 180.4,326.7 180.6,325.0 180.8,327.7 181.0,327.1 181.2,324.3 181.4,328.3 181.6,329.4 181.7,324.1 181.9,325.7 182.1,329.5 182.3,325.1 182.5,328.1 182.7,324.5 182.9,326.4 183.0,327.3 183.2,328.8 183.4,325.8 183.6,326.6 183.8,320.6 184.0,326.6 184.2,330.5 184.4,320.1 184.5,332.7 184.7,321.4 184.9,329.1 185.1,322.2 185.3,327.0 185.5,324.8 185.7,326.3 185.9,326.8 186.0,324.8 186.2,328.4 186.4,325.0 186.6,329.8 186.8,328.7 187.0,328.0 187.2,326.8 187.4,322.7 187.5,329.0 187.7,329.1 187.9,329.9 188.1,327.7 188.3,324.7 188.5,328.7 188.7,327.4 188.8,328.3 189.0,326.2 189.2,332.6 189.4,324.7 189.6,323.6 189.8,329.0 190.0,326.7 190.2,329.3 190.3,323.4 190.5,324.5 190.7,317.6 190.9,327.1 191.1,329.1 191.3,327.9 191.5,330.3 191.7,325.8 191.8,325.5 192.0,323.6 192.2,325.2 192.4,327.7 192.6,322.5 192.8,324.7 193.0,323.9 193.1,330.0 193.3,329.0 193.5,328.4 193.7,327.6 193.9,333.1 194.1,322.7 194.3,327.1 194.5,323.8 194.6,324.0 194.8,321.8 195.0,324.6 195.2,325.2 195.4,328.6 195.6,326.0 195.8,321.0 196.0,331.7 196.1,328.5 196.3,325.5 196.5,321.4 196.7,329.7 196.9,327.7 197.1,325.8 197.3,316.8 197.4,328.9 197.6,326.8 197.8,324.0 198.0,328.4 198.2,325.1 198.4,325.0 198.6,327.4 198.8,325.2 198.9,321.0 199.1,325.9 199.3,327.5 199.5,328.5 199.7,325.5 199.9,323.0 200.1,325.8 200.3,325.3 200.4,318.1 200.6,328.5 200.8,329.5 201.0,325.4 201.2,326.9 201.4,324.4 201.6,322.4 201.7,325.1 201.9,326.8 202.1,324.6 202.3,324.7 202.5,326.5 202.7,327.9 202.9,324.2 203.1,326.8 203.2,329.7 203.4,324.1 203.6,327.8 203.8,327.8 204.0,324.2 204.2,328.6 204.4,326.7 204.6,329.2 204.7,330.9 204.9,325.3 205.1,321.5 205.3,328.9 205.5,322.7 205.7,323.0 205.9,321.6 206.1,329.5 206.2,328.2 206.4,321.2 206.6,326.4 206.8,326.2 207.0,324.0 207.2,324.3 207.4,327.9 207.5,326.8 207.7,324.2 207.9,325.4 208.1,328.4 208.3,322.3 208.5,323.6 208.7,327.1 208.9,327.8 209.0,323.3 209.2,333.5 209.4,325.8 209.6,327.9 209.8,328.2 210.0,323.4 210.2,325.2 210.4,316.8 210.5,326.8 210.7,325.0 210.9,330.4 211.1,323.0 211.3,327.9 211.5,325.4 211.7,322.1 211.8,322.4 212.0,324.6 212.2,322.1 212.4,327.4 212.6,328.9 212.8,330.7 213.0,324.3 213.2,320.0 213.3,327.0 213.5,326.0 213.7,327.0 213.9,324.6 214.1,331.6 214.3,323.4 214.5,322.7 214.7,328.1 214.8,329.1 215.0,328.7 215.2,324.3 215.4,321.6 215.6,329.1 215.8,330.8 216.0,325.7 216.1,325.2 216.3,323.9 216.5,328.2 216.7,323.8 216.9,322.7 217.1,331.1 217.3,327.0 217.5,324.2 217.6,323.7 217.8,327.8 218.0,332.0 218.2,328.5 218.4,330.4 218.6,327.7 218.8,323.0 219.0,328.0 219.1,325.8 219.3,329.8 219.5,323.3 219.7,328.0 219.9,329.3 220.1,320.4 220.3,325.1 220.4,324.0 220.6,332.2 220.8,321.8 221.0,320.9 221.2,326.5 221.4,327.0 221.6,327.9 221.8,322.8 221.9,330.9 222.1,325.1 222.3,320.0 222.5,325.7 222.7,320.1 222.9,326.0 223.1,327.0 223.3,323.3 223.4,326.3 223.6,325.8 223.8,327.3 224.0,329.8 224.2,327.0 224.4,323.9 224.6,322.8 224.8,326.3 224.9,325.1 225.1,328.9 225.3,326.6 225.5,326.6 225.7,326.5 225.9,325.9 226.1,325.0 226.2,322.3 226.4,323.7 226.6,324.5 226.8,329.8 227.0,328.5 227.2,325.9 227.4,325.7 227.6,323.8 227.7,331.4 227.9,325.5 228.1,325.6 228.3,327.1 228.5,328.4 228.7,325.3 228.9,326.5 229.1,324.6 229.2,332.1 229.4,328.8 229.6,321.4 229.8,325.3 230.0,328.3 230.2,327.0 230.4,329.9 230.5,321.6 230.7,321.6 230.9,323.3 231.1,322.3 231.3,324.5 231.5,321.9 231.7,324.0 231.9,321.6 232.0,326.0 232.2,326.2 232.4,327.6 232.6,327.3 232.8,330.7 233.0,321.9 233.2,321.6 233.4,323.7 233.5,322.8 233.7,325.2 233.9,324.4 234.1,330.0 234.3,326.1 234.5,331.4 234.7,327.9 234.8,326.7 235.0,326.8 235.2,329.1 235.4,322.0 235.6,322.8 235.8,327.4 236.0,329.6 236.2,327.3 236.3,323.0 236.5,331.6 236.7,323.4 236.9,326.2 237.1,327.0 237.3,322.8 237.5,325.8 237.7,326.9 237.8,322.1 238.0,330.6 238.2,320.9 238.4,328.4 238.6,328.4 238.8,321.0 239.0,315.7 239.2,322.1 239.3,328.3 239.5,332.4 239.7,325.1 239.9,325.8 240.1,327.6 240.3,326.2 240.5,327.8 240.6,323.2 240.8,326.0 241.0,326.4 241.2,332.4 241.4,325.0 241.6,330.2 241.8,323.5 242.0,325.9 242.1,331.9 242.3,326.8 242.5,329.4 242.7,324.1 242.9,324.4 243.1,322.6 243.3,328.1 243.5,324.3 243.6,329.9 243.8,324.8 244.0,326.5 244.2,325.1 244.4,325.8 244.6,322.7 244.8,326.8 244.9,326.3 245.1,321.5 245.3,326.0 245.5,327.4 245.7,328.5 245.9,325.7 246.1,325.9 246.3,323.8 246.4,326.3 246.6,323.7 246.8,326.6 247.0,320.9 247.2,325.9 247.4,323.7 247.6,324.6 247.8,329.7 247.9,322.6 248.1,327.0 248.3,322.9 248.5,331.8 248.7,331.3 248.9,331.8 249.1,331.2 249.2,326.9 249.4,325.9 249.6,328.7 249.8,326.8 250.0,327.8 250.2,323.5 250.4,323.6 250.6,324.8 250.7,323.8 250.9,320.6 251.1,323.8 251.3,330.4 251.5,326.4 251.7,326.6 251.9,323.3 252.1,324.3 252.2,323.1 252.4,330.4 252.6,321.5"/>
<polyline fill="none" stroke="#5c5cff" stroke-width="0.8" stroke-linejoin="round" points="65.8,366.2 66.0,366.2 66.2,366.3 66.4,366.0 66.5,364.9 66.7,366.8 66.9,365.4 67.1,365.2 67.3,366.3 67.5,366.5 67.7,365.9 67.9,365.5 68.0,365.0 68.2,365.8 68.4,365.4 68.6,366.6 68.8,366.9 69.0,367.4 69.2,367.1 69.4,366.7 69.5,366.4 69.7,367.3 69.9,366.0 70.1,366.6 70.3,366.9 70.5,367.0 70.7,365.3 70.8,366.4 71.0,367.0 71.2,372.9 71.4,365.4 71.6,366.8 71.8,365.7 72.0,365.4 72.2,367.4 72.3,365.0 72.5,365.8 72.7,366.2 72.9,365.5 73.1,364.2 73.3,364.0 73.5,363.6 73.7,364.4 73.8,361.2 74.0,360.0 74.2,358.4 74.4,358.4 74.6,355.6 74.8,353.8 75.0,354.8 75.2,353.0 75.3,352.0 75.5,350.5 75.7,348.2 75.9,352.4 76.1,347.8 76.3,344.3 76.5,349.4 76.6,346.5 76.8,337.0 77.0,343.1 77.2,340.2 77.4,336.4 77.6,337.7 77.8,337.6 78.0,335.2 78.1,333.6 78.3,332.8 78.5,328.9 78.7,322.5 78.9,325.8 79.1,319.9 79.3,322.2 79.5,320.8 79.6,320.9 79.8,323.8 80.0,320.1 80.2,320.0 80.4,325.5 80.6,316.6 80.8,316.7 80.9,317.0 81.1,320.8 81.3,330.3 81.5,309.8 81.7,316.9 81.9,327.2 82.1,312.2 82.3,318.8 82.4,311.0 82.6,314.9 82.8,307.7 83.0,312.3 83.2,311.7 83.4,312.2 83.6,305.5 83.8,320.3 83.9,305.3 84.1,308.1 84.3,315.5 84.5,312.0 84.7,314.6 84.9,311.4 85.1,305.9 85.2,315.7 85.4,306.8 85.6,305.5 85.8,307.3 86.0,301.5 86.2,311.4 86.4,306.6 86.6,295.6 86.7,310.5 86.9,311.5 87.1,310.5 87.3,306.9 87.5,314.2 87.7,311.8 87.9,321.0 88.1,316.6 88.2,316.4 88.4,317.2 88.6,312.8 88.8,305.8 89.0,312.4 89.2,318.1 89.4,308.5 89.5,309.0 89.7,318.6 89.9,309.1 90.1,316.6 90.3,313.9 90.5,314.5 90.7,305.0 90.9,315.1 91.0,312.0 91.2,308.9 91.4,303.7 91.6,302.8 91.8,316.3 92.0,302.8 92.2,308.2 92.4,302.7 92.5,303.6 92.7,313.3 92.9,309.8 93.1,311.9 93.3,307.8 93.5,299.9 93.7,309.7 93.9,314.1 94.0,294.6 94.2,316.2 94.4,310.1 94.6,310.2 94.8,317.9 95.0,305.3 95.2,303.6 95.3,310.6 95.5,309.8 95.7,311.1 95.9,320.9 96.1,308.6 96.3,317.8 96.5,316.0 96.7,307.7 96.8,304.5 97.0,315.5 97.2,303.2 97.4,299.4 97.6,309.1 97.8,310.7 98.0,309.0 98.2,312.7 98.3,315.4 98.5,306.3 98.7,305.8 98.9,313.3 99.1,312.7 99.3,314.1 99.5,314.6 99.6,316.2 99.8,319.5 100.0,304.8 100.2,312.4 100.4,309.9 100.6,299.4 100.8,313.3 101.0,306.8 101.1,318.6 101.3,314.2 101.5,306.2 101.7,312.0 101.9,319.2 102.1,319.8 102.3,308.4 102.5,316.2 102.6,306.4 102.8,308.9 103.0,312.5 103.2,311.0 103.4,306.0 103.6,310.4 103.8,316.4 103.9,308.6 104.1,312.8 104.3,312.0 104.5,307.2 104.7,308.7 104.9,304.5 105.1,311.8 105.3,313.5 105.4,312.8 105.6,308.4 105.8,315.6 106.0,312.9 106.2,315.9 106.4,315.5 106.6,311.9 106.8,296.3 106.9,313.1 107.1,309.3 107.3,310.3 107.5,311.9 107.7,310.7 107.9,299.1 108.1,312.4 108.2,301.3 108.4,307.0 108.6,316.1 108.8,314.8 109.0,313.7 109.2,317.5 109.4,304.1 109.6,308.5 109.7,307.8 109.9,317.1 110.1,308.2 110.3,314.2 110.5,296.5 110.7,311.6 110.9,309.4 111.1,308.6 111.2,313.9 111.4,313.5 111.6,313.5 111.8,306.1 112.0,315.5 112.2,312.1 112.4,309.2 112.6,313.7 112.7,319.4 112.9,318.4 113.1,313.8 113.3,317.1 113.5,305.6 113.7,311.3 113.9,311.6 114.0,317.4 114.2,308.3 114.4,313.6 114.6,317.2 114.8,315.4 115.0,297.4 115.2,315.2 115.4,316.8 115.5,304.8 115.7,307.3 115.9,313.5 116.1,303.6 116.3,320.5 116.5,314.7 116.7,321.7 116.9,303.8 117.0,311.8 117.2,296.7 117.4,309.4 117.6,309.3 117.8,318.9 118.0,319.3 118.2,315.2 118.3,307.0 118.5,318.7 118.7,326.7 118.9,307.6 119.1,307.3 119.3,318.2 119.5,310.2 119.7,306.3 119.8,306.0 120.0,322.4 120.2,312.7 120.4,317.8 120.6,307.5 120.8,312.8 121.0,320.6 121.2,312.9 121.3,310.0 121.5,322.8 121.7,321.8 121.9,317.8 122.1,315.7 122.3,317.3 122.5,324.9 122.6,323.4 122.8,314.3 123.0,311.7 123.2,319.5 123.4,313.3 123.6,303.1 123.8,315.6 124.0,317.0 124.1,318.6 124.3,311.6 124.5,313.1 124.7,313.0 124.9,316.8 125.1,312.1 125.3,312.1 125.5,315.5 125.6,307.7 125.8,324.0 126.0,310.4 126.2,315.5 126.4,309.7 126.6,303.4 126.8,314.5 126.9,316.0 127.1,315.0 127.3,306.6 127.5,305.7 127.7,314.0 127.9,311.1 128.1,304.2 128.3,311.8 128.4,324.1 128.6,320.0 128.8,318.0 129.0,312.8 129.2,318.6 129.4,306.9 129.6,318.1 129.8,305.9 129.9,319.3 130.1,307.3 130.3,314.2 130.5,306.8 130.7,303.6 130.9,304.9 131.1,309.2 131.3,320.0 131.4,320.4 131.6,334.7 131.8,306.7 132.0,307.9 132.2,309.4 132.4,322.5 132.6,299.0 132.7,319.7 132.9,310.4 133.1,325.5 133.3,319.4 133.5,308.3 133.7,309.5 133.9,322.3 134.1,316.3 134.2,309.1 134.4,327.0 134.6,311.3 134.8,325.3 135.0,312.2 135.2,317.6 135.4,310.1 135.6,319.2 135.7,318.3 135.9,318.4 136.1,322.1 136.3,318.0 136.5,322.6 136.7,319.9 136.9,312.3 137.0,318.5 137.2,310.0 137.4,312.3 137.6,311.5 137.8,323.5 138.0,314.1 138.2,307.9 138.4,311.1 138.5,309.2 138.7,307.4 138.9,325.9 139.1,313.2 139.3,313.4 139.5,317.9 139.7,324.7 139.9,315.9 140.0,317.7 140.2,304.9 140.4,308.8 140.6,319.3 140.8,323.3 141.0,322.0 141.2,317.2 141.3,321.3 141.5,304.9 141.7,324.2 141.9,317.5 142.1,316.0 142.3,314.4 142.5,322.6 142.7,318.3 142.8,315.8 143.0,314.9 143.2,320.5 143.4,318.8 143.6,315.6 143.8,305.3 144.0,324.3 144.2,312.7 144.3,307.3 144.5,325.4 144.7,308.1 144.9,308.4 145.1,316.5 145.3,311.0 145.5,307.9 145.6,317.8 145.8,315.5 146.0,323.3 146.2,321.0 146.4,316.4 146.6,317.4 146.8,307.0 147.0,318.1 147.1,324.2 147.3,311.4 147.5,311.2 147.7,314.4 147.9,317.6 148.1,321.6 148.3,320.8 148.5,307.6 148.6,312.1 148.8,316.2 149.0,314.3 149.2,319.0 149.4,322.5 149.6,319.8 149.8,317.2 150.0,326.9 150.1,325.7 150.3,327.5 150.5,319.8 150.7,313.4 150.9,325.3 151.1,324.1 151.3,327.0 151.4,320.2 151.6,324.6 151.8,323.5 152.0,324.1 152.2,303.8 152.4,318.1 152.6,321.5 152.8,320.3 152.9,312.3 153.1,311.6 153.3,315.9 153.5,329.5 153.7,311.6 153.9,311.1 154.1,312.9 154.3,314.7 154.4,317.1 154.6,310.3 154.8,319.4 155.0,311.2 155.2,320.5 155.4,319.9 155.6,320.3 155.7,321.0 155.9,320.6 156.1,313.0 156.3,308.1 156.5,321.9 156.7,323.9 156.9,310.0 157.1,319.7 157.2,316.0 157.4,316.7 157.6,312.1 157.8,323.0 158.0,310.7 158.2,312.8 158.4,331.0 158.6,318.7 158.7,320.0 158.9,315.4 159.1,318.1 159.3,322.3 159.5,319.8 159.7,315.6 159.9,317.5 160.0,318.7 160.2,304.3 160.4,314.5 160.6,324.5 160.8,317.1 161.0,315.8 161.2,323.8 161.4,317.1 161.5,322.9 161.7,331.3 161.9,315.7 162.1,314.0 162.3,314.0 162.5,318.7 162.7,321.4 162.9,316.4 163.0,315.2 163.2,312.2 163.4,309.7 163.6,312.9 163.8,321.3 164.0,318.1 164.2,326.3 164.3,313.4 164.5,314.3 164.7,310.6 164.9,314.8 165.1,308.3 165.3,322.0 165.5,315.8 165.7,319.3 165.8,319.1 166.0,328.5 166.2,322.3 166.4,329.9 166.6,319.9 166.8,322.1 167.0,317.1 167.2,329.0 167.3,321.1 167.5,319.5 167.7,332.0 167.9,308.1 168.1,315.2 168.3,322.7 168.5,306.7 168.7,309.9 168.8,333.1 169.0,320.0 169.2,321.9 169.4,317.9 169.6,323.9 169.8,319.8 170.0,317.7 170.1,333.3 170.3,317.5 170.5,309.7 170.7,317.4 170.9,311.2 171.1,308.6 171.3,316.4 171.5,315.8 171.6,315.7 171.8,320.7 172.0,304.3 172.2,315.4 172.4,314.6 172.6,312.2 172.8,309.0 173.0,326.2 173.1,324.2 173.3,317.1 173.5,314.8 173.7,325.3 173.9,326.3 174.1,313.3 174.3,313.6 174.4,319.8 174.6,319.8 174.8,322.0 175.0,325.3 175.2,323.5 175.4,317.2 175.6,319.3 175.8,312.4 175.9,326.3 176.1,328.6 176.3,314.9 176.5,324.1 176.7,320.3 176.9,318.2 177.1,326.1 177.3,327.8 177.4,316.8 177.6,335.0 177.8,314.7 178.0,329.4 178.2,313.7 178.4,316.7 178.6,317.2 178.7,315.6 178.9,317.7 179.1,326.9 179.3,313.6 179.5,317.8 179.7,315.7 179.9,319.3 180.1,320.1 180.2,312.9 180.4,312.8 180.6,317.1 180.8,325.8 181.0,324.2 181.2,324.6 181.4,311.7 181.6,315.4 181.7,318.0 181.9,319.2 182.1,322.8 182.3,313.3 182.5,324.6 182.7,323.4 182.9,313.1 183.0,314.4 183.2,318.6 183.4,325.8 183.6,325.8 183.8,313.0 184.0,315.8 184.2,309.0 184.4,320.9 184.5,318.5 184.7,323.7 184.9,308.0 185.1,328.2 185.3,314.2 185.5,308.2 185.7,323.8 185.9,326.7 186.0,324.1 186.2,326.7 186.4,315.9 186.6,318.6 186.8,323.6 187.0,319.7 187.2,308.8 187.4,319.6 187.5,320.4 187.7,306.2 187.9,323.5 188.1,320.9 188.3,309.1 188.5,317.9 188.7,329.7 188.8,323.4 189.0,331.9 189.2,322.1 189.4,316.3 189.6,328.3 189.8,308.9 190.0,310.6 190.2,313.4 190.3,322.8 190.5,318.1 190.7,314.9 190.9,312.4 191.1,310.5 191.3,331.5 191.5,322.7 191.7,325.4 191.8,320.4 192.0,317.0 192.2,304.3 192.4,318.9 192.6,312.8 192.8,317.7 193.0,318.6 193.1,307.7 193.3,325.2 193.5,314.2 193.7,305.7 193.9,297.4 194.1,321.5 194.3,324.1 194.5,326.1 194.6,320.9 194.8,318.4 195.0,318.3 195.2,311.5 195.4,320.3 195.6,316.4 195.8,328.6 196.0,322.5 196.1,319.4 196.3,333.0 196.5,317.7 196.7,313.1 196.9,318.0 197.1,317.1 197.3,318.5 197.4,325.8 197.6,318.2 197.8,321.9 198.0,317.9 198.2,318.1 198.4,317.8 198.6,326.6 198.8,318.9 198.9,307.8 199.1,312.8 199.3,319.9 199.5,323.0 199.7,312.5 199.9,318.6 200.1,329.5 200.3,321.3 200.4,308.3 200.6,329.0 200.8,318.3 201.0,323.3 201.2,319.1 201.4,321.3 201.6,324.2 201.7,334.6 201.9,320.1 202.1,318.6 202.3,319.7 202.5,325.4 202.7,322.7 202.9,305.2 203.1,325.8 203.2,320.9 203.4,326.6 203.6,320.3 203.8,317.4 204.0,311.4 204.2,317.5 204.4,318.9 204.6,316.7 204.7,315.4 204.9,319.1 205.1,319.0 205.3,311.3 205.5,323.3 205.7,319.4 205.9,324.5 206.1,322.1 206.2,309.7 206.4,323.2 206.6,315.8 206.8,305.9 207.0,315.7 207.2,319.9 207.4,323.7 207.5,334.6 207.7,324.8 207.9,324.7 208.1,313.1 208.3,314.7 208.5,327.0 208.7,315.2 208.9,323.0 209.0,307.8 209.2,309.9 209.4,314.9 209.6,321.4 209.8,308.0 210.0,313.4 210.2,311.7 210.4,315.4 210.5,320.2 210.7,313.8 210.9,323.7 211.1,313.7 211.3,317.4 211.5,328.7 211.7,315.6 211.8,318.9 212.0,321.0 212.2,319.1 212.4,313.8 212.6,325.6 212.8,325.2 213.0,314.2 213.2,317.6 213.3,329.3 213.5,318.0 213.7,329.2 213.9,314.5 214.1,317.1 214.3,315.8 214.5,328.3 214.7,323.8 214.8,313.7 215.0,327.6 215.2,315.8 215.4,320.4 215.6,318.2 215.8,324.2 216.0,315.4 216.1,316.7 216.3,313.9 216.5,303.9 216.7,320.4 216.9,318.6 217.1,325.5 217.3,308.3 217.5,321.1 217.6,314.2 217.8,325.9 218.0,320.5 218.2,315.2 218.4,315.9 218.6,320.5 218.8,313.3 219.0,318.1 219.1,312.2 219.3,320.2 219.5,314.7 219.7,321.5 219.9,310.8 220.1,318.6 220.3,318.3 220.4,322.1 220.6,312.4 220.8,317.6 221.0,320.0 221.2,310.5 221.4,323.3 221.6,312.6 221.8,309.4 221.9,329.2 222.1,313.1 222.3,315.3 222.5,317.5 222.7,316.5 222.9,326.2 223.1,315.7 223.3,317.4 223.4,327.9 223.6,320.0 223.8,326.2 224.0,318.3 224.2,324.3 224.4,318.2 224.6,327.7 224.8,322.2 224.9,321.5 225.1,320.3 225.3,312.0 225.5,305.7 225.7,328.3 225.9,313.9 226.1,320.7 226.2,320.8 226.4,320.9 226.6,319.9 226.8,319.5 227.0,313.9 227.2,311.2 227.4,316.7 227.6,318.6 227.7,315.4 227.9,316.4 228.1,307.8 228.3,324.7 228.5,327.4 228.7,320.6 228.9,317.1 229.1,320.4 229.2,317.7 229.4,334.8 229.6,323.9 229.8,323.3 230.0,327.5 230.2,323.0 230.4,320.8 230.5,317.1 230.7,325.1 230.9,329.6 231.1,317.2 231.3,308.0 231.5,318.7 231.7,318.9 231.9,325.6 232.0,318.4 232.2,310.1 232.4,331.5 232.6,313.6 232.8,331.4 233.0,310.7 233.2,314.6 233.4,321.4 233.5,317.9 233.7,309.5 233.9,326.0 234.1,312.4 234.3,315.9 234.5,319.4 234.7,310.7 234.8,329.3 235.0,320.1 235.2,326.6 235.4,319.7 235.6,316.2 235.8,329.1 236.0,317.7 236.2,317.7 236.3,322.9 236.5,319.9 236.7,312.8 236.9,317.5 237.1,309.6 237.3,325.7 237.5,327.0 237.7,312.2 237.8,327.5 238.0,312.1 238.2,319.5 238.4,315.4 238.6,321.5 238.8,313.1 239.0,311.4 239.2,312.1 239.3,316.4 239.5,327.3 239.7,313.5 239.9,318.7 240.1,311.4 240.3,328.4 240.5,316.6 240.6,321.9 240.8,319.4 241.0,314.0 241.2,314.3 241.4,310.7 241.6,316.4 241.8,315.9 242.0,317.3 242.1,326.1 242.3,312.7 242.5,324.1 242.7,322.3 242.9,316.6 243.1,323.2 243.3,322.0 243.5,334.2 243.6,324.5 243.8,326.0 244.0,323.1 244.2,316.2 244.4,321.0 244.6,320.2 244.8,318.8 244.9,313.3 245.1,312.9 245.3,316.8 245.5,320.8 245.7,314.0 245.9,321.1 246.1,320.4 246.3,317.5 246.4,322.2 246.6,325.8 246.8,326.6 247.0,321.1 247.2,318.0 247.4,315.4 247.6,323.9 247.8,317.9 247.9,319.0 248.1,321.8 248.3,304.1 248.5,323.5 248.7,324.1 248.9,318.2 249.1,309.8 249.2,321.2 249.4,311.0 249.6,325.0 249.8,321.3 250.0,320.1 250.2,320.4 250.4,318.6 250.6,319.5 250.7,320.0 250.9,324.7 251.1,315.8 251.3,318.5 251.5,317.3 251.7,311.7 251.9,315.6 252.1,317.2 252.2,310.2 252.4,321.1 252.6,327.7"/>
<polyline fill="none" stroke="#ff0a0a" stroke-width="0.8" stroke-linejoin="round" points="65.8,362.7 66.0,362.8 66.2,363.0 66.4,364.3 66.5,362.7 66.7,364.2 66.9,362.4 67.1,362.6 67.3,362.5 67.5,362.5 67.7,362.8 67.9,363.3 68.0,363.2 68.2,362.1 68.4,363.3 68.6,363.1 68.8,363.4 69.0,363.3 69.2,363.2 69.4,362.8 69.5,363.1 69.7,363.2 69.9,363.3 70.1,362.9 70.3,363.8 70.5,362.9 70.7,362.2 70.8,363.4 71.0,363.0 71.2,361.3 71.4,363.6 71.6,363.8 71.8,362.9 72.0,361.2 72.2,360.6 72.3,361.9 72.5,360.2 72.7,359.9 72.9,359.7 73.1,359.9 73.3,356.0 73.5,356.2 73.7,353.1 73.8,351.3 74.0,347.0 74.2,345.5 74.4,346.1 74.6,342.7 74.8,338.6 75.0,340.0 75.2,336.8 75.3,334.1 75.5,335.8 75.7,333.9 75.9,333.6 76.1,328.7 76.3,329.1 76.5,324.9 76.6,325.4 76.8,323.3 77.0,323.6 77.2,320.7 77.4,321.7 77.6,322.9 77.8,316.7 78.0,316.4 78.1,312.2 78.3,317.8 78.5,318.4 78.7,320.2 78.9,326.6 79.1,318.8 79.3,313.0 79.5,316.6 79.6,321.4 79.8,310.9 80.0,314.3 80.2,313.0 80.4,312.8 80.6,311.4 80.8,308.9 80.9,316.3 81.1,310.6 81.3,311.3 81.5,304.8 81.7,312.7 81.9,302.1 82.1,305.8 82.3,301.4 82.4,310.6 82.6,304.2 82.8,305.8 83.0,313.6 83.2,308.1 83.4,308.8 83.6,311.0 83.8,309.9 83.9,312.8 84.1,308.3 84.3,304.5 84.5,309.4 84.7,312.7 84.9,300.9 85.1,307.2 85.2,305.2 85.4,306.3 85.6,307.6 85.8,302.3 86.0,307.3 86.2,304.7 86.4,311.2 86.6,312.0 86.7,306.3 86.9,295.9 87.1,303.6 87.3,295.7 87.5,302.3 87.7,302.2 87.9,306.8 88.1,304.2 88.2,296.1 88.4,298.7 88.6,306.8 88.8,306.1 89.0,297.9 89.2,306.2 89.4,299.7 89.5,307.9 89.7,301.0 89.9,296.9 90.1,300.0 90.3,302.6 90.5,303.0 90.7,304.0 90.9,303.7 91.0,298.3 91.2,298.3 91.4,301.7 91.6,309.1 91.8,305.7 92.0,302.1 92.2,303.1 92.4,309.4 92.5,300.3 92.7,291.7 92.9,308.7 93.1,302.9 93.3,296.0 93.5,305.0 93.7,305.0 93.9,302.4 94.0,300.6 94.2,304.9 94.4,298.7 94.6,311.6 94.8,300.1 95.0,301.4 95.2,303.7 95.3,301.2 95.5,302.7 95.7,297.0 95.9,305.0 96.1,303.1 96.3,309.1 96.5,307.9 96.7,303.9 96.8,309.8 97.0,306.6 97.2,308.7 97.4,305.0 97.6,302.2 97.8,298.5 98.0,311.4 98.2,303.6 98.3,298.8 98.5,296.5 98.7,296.4 98.9,309.0 99.1,304.9 99.3,300.1 99.5,298.4 99.6,301.3 99.8,301.4 100.0,301.5 100.2,306.0 100.4,301.8 100.6,298.9 100.8,304.0 101.0,297.2 101.1,315.2 101.3,303.9 101.5,294.8 101.7,298.5 101.9,295.9 102.1,301.7 102.3,307.6 102.5,304.6 102.6,295.5 102.8,310.5 103.0,306.5 103.2,309.9 103.4,304.6 103.6,304.1 103.8,299.6 103.9,305.9 104.1,294.5 104.3,299.3 104.5,304.3 104.7,306.6 104.9,308.8 105.1,301.5 105.3,293.2 105.4,302.8 105.6,306.6 105.8,302.3 106.0,304.3 106.2,306.0 106.4,310.4 106.6,302.2 106.8,295.2 106.9,296.4 107.1,297.4 107.3,300.9 107.5,299.7 107.7,297.2 107.9,302.0 108.1,300.4 108.2,303.5 108.4,296.6 108.6,305.8 108.8,298.5 109.0,297.7 109.2,297.8 109.4,298.3 109.6,303.5 109.7,304.0 109.9,303.3 110.1,303.1 110.3,306.4 110.5,303.3 110.7,304.1 110.9,305.5 111.1,299.6 111.2,304.6 111.4,300.0 111.6,294.5 111.8,293.5 112.0,301.0 112.2,296.5 112.4,299.9 112.6,290.3 112.7,293.6 112.9,295.9 113.1,301.6 113.3,301.9 113.5,298.3 113.7,300.9 113.9,301.8 114.0,297.6 114.2,306.3 114.4,309.6 114.6,305.2 114.8,305.8 115.0,300.9 115.2,304.4 115.4,301.4 115.5,309.5 115.7,293.8 115.9,298.6 116.1,304.2 116.3,298.9 116.5,294.8 116.7,296.5 116.9,300.6 117.0,297.4 117.2,296.2 117.4,305.5 117.6,306.6 117.8,302.7 118.0,295.6 118.2,293.3 118.3,299.3 118.5,293.1 118.7,295.4 118.9,300.2 119.1,303.2 119.3,302.7 119.5,299.4 119.7,293.4 119.8,295.9 120.0,305.5 120.2,305.1 120.4,295.9 120.6,298.7 120.8,303.8 121.0,296.4 121.2,293.3 121.3,295.8 121.5,298.9 121.7,293.3 121.9,301.0 122.1,301.9 122.3,303.4 122.5,290.7 122.6,289.6 122.8,299.3 123.0,296.4 123.2,297.0 123.4,294.8 123.6,293.6 123.8,295.9 124.0,299.4 124.1,301.3 124.3,303.5 124.5,310.6 124.7,299.3 124.9,302.6 125.1,298.6 125.3,299.2 125.5,303.4 125.6,301.0 125.8,296.8 126.0,297.9 126.2,302.6 126.4,302.0 126.6,296.0 126.8,297.5 126.9,297.2 127.1,299.3 127.3,295.2 127.5,298.0 127.7,287.1 127.9,300.5 128.1,301.6 128.3,291.0 128.4,298.7 128.6,301.9 128.8,296.4 129.0,308.7 129.2,296.3 129.4,298.2 129.6,297.1 129.8,301.9 129.9,292.3 130.1,296.8 130.3,298.3 130.5,296.6 130.7,301.9 130.9,298.7 131.1,304.9 131.3,303.1 131.4,296.8 131.6,297.6 131.8,294.8 132.0,301.1 132.2,298.6 132.4,301.2 132.6,296.9 132.7,294.6 132.9,293.3 133.1,295.5 133.3,301.6 133.5,297.1 133.7,302.7 133.9,306.6 134.1,297.2 134.2,297.6 134.4,294.7 134.6,294.3 134.8,303.5 135.0,302.1 135.2,298.0 135.4,297.7 135.6,296.1 135.7,303.8 135.9,299.1 136.1,295.1 136.3,289.5 136.5,303.6 136.7,290.7 136.9,299.2 137.0,304.4 137.2,292.0 137.4,302.7 137.6,303.1 137.8,294.7 138.0,293.3 138.2,297.6 138.4,301.1 138.5,304.5 138.7,297.4 138.9,308.3 139.1,304.4 139.3,293.1 139.5,295.1 139.7,292.4 139.9,296.0 140.0,302.9 140.2,295.7 140.4,305.9 140.6,294.7 140.8,291.7 141.0,302.3 141.2,293.2 141.3,297.6 141.5,298.5 141.7,306.6 141.9,298.5 142.1,293.9 142.3,305.5 142.5,299.9 142.7,300.9 142.8,305.1 143.0,293.1 143.2,297.7 143.4,297.6 143.6,293.3 143.8,301.1 144.0,283.2 144.2,299.8 144.3,302.9 144.5,294.8 144.7,296.0 144.9,301.9 145.1,301.7 145.3,293.9 145.5,296.3 145.6,295.7 145.8,293.6 146.0,300.2 146.2,291.8 146.4,297.3 146.6,294.2 146.8,301.5 147.0,294.1 147.1,296.1 147.3,286.3 147.5,298.0 147.7,290.5 147.9,294.5 148.1,290.3 148.3,296.2 148.5,295.1 148.6,307.2 148.8,303.0 149.0,292.6 149.2,295.3 149.4,293.8 149.6,298.4 149.8,293.7 150.0,298.8 150.1,297.4 150.3,291.8 150.5,292.4 150.7,299.1 150.9,296.9 151.1,296.1 151.3,297.8 151.4,297.6 151.6,301.3 151.8,294.6 152.0,301.8 152.2,301.4 152.4,291.4 152.6,289.0 152.8,288.9 152.9,295.5 153.1,299.5 153.3,293.8 153.5,290.2 153.7,296.5 153.9,298.9 154.1,304.5 154.3,304.6 154.4,289.4 154.6,303.6 154.8,300.0 155.0,298.4 155.2,295.9 155.4,302.8 155.6,294.5 155.7,294.5 155.9,296.7 156.1,299.8 156.3,298.7 156.5,305.6 156.7,294.2 156.9,299.4 157.1,303.1 157.2,297.2 157.4,294.8 157.6,295.4 157.8,294.2 158.0,291.8 158.2,299.4 158.4,296.2 158.6,295.9 158.7,303.5 158.9,292.2 159.1,298.5 159.3,295.9 159.5,295.7 159.7,300.7 159.9,293.4 160.0,292.7 160.2,296.3 160.4,309.9 160.6,290.9 160.8,297.7 161.0,299.9 161.2,299.6 161.4,301.8 161.5,298.6 161.7,294.2 161.9,301.9 162.1,296.0 162.3,299.6 162.5,298.1 162.7,298.6 162.9,295.6 163.0,292.4 163.2,297.0 163.4,292.9 163.6,290.3 163.8,303.4 164.0,293.4 164.2,298.2 164.3,297.7 164.5,292.5 164.7,297.9 164.9,299.6 165.1,291.2 165.3,292.1 165.5,294.9 165.7,284.2 165.8,301.1 166.0,304.0 166.2,297.7 166.4,301.8 166.6,295.0 166.8,299.3 167.0,299.3 167.2,296.6 167.3,300.4 167.5,305.2 167.7,299.9 167.9,293.5 168.1,295.6 168.3,292.5 168.5,289.1 168.7,292.7 168.8,296.9 169.0,299.9 169.2,294.5 169.4,289.4 169.6,290.2 169.8,292.4 170.0,300.1 170.1,294.0 170.3,293.4 170.5,291.1 170.7,302.2 170.9,299.6 171.1,295.9 171.3,296.0 171.5,299.2 171.6,294.3 171.8,297.8 172.0,291.6 172.2,298.7 172.4,295.6 172.6,305.8 172.8,295.6 173.0,299.4 173.1,293.3 173.3,297.2 173.5,291.0 173.7,298.8 173.9,302.8 174.1,295.4 174.3,293.8 174.4,299.7 174.6,302.2 174.8,293.0 175.0,291.7 175.2,293.1 175.4,296.0 175.6,296.4 175.8,289.1 175.9,292.8 176.1,300.4 176.3,301.1 176.5,293.6 176.7,293.1 176.9,299.1 177.1,299.7 177.3,292.0 177.4,297.7 177.6,292.6 177.8,301.2 178.0,300.7 178.2,303.9 178.4,296.4 178.6,298.1 178.7,303.7 178.9,295.6 179.1,298.6 179.3,297.2 179.5,290.0 179.7,291.9 179.9,294.0 180.1,297.7 180.2,301.5 180.4,299.2 180.6,297.9 180.8,290.6 181.0,300.3 181.2,298.6 181.4,296.2 181.6,294.5 181.7,291.4 181.9,290.3 182.1,296.8 182.3,287.6 182.5,293.2 182.7,299.7 182.9,300.5 183.0,298.0 183.2,297.3 183.4,292.6 183.6,299.8 183.8,298.7 184.0,299.9 184.2,295.0 184.4,302.6 184.5,293.7 184.7,299.7 184.9,297.1 185.1,294.2 185.3,294.8 185.5,283.7 185.7,300.2 185.9,305.4 186.0,301.9 186.2,292.4 186.4,300.9 186.6,291.5 186.8,297.1 187.0,292.8 187.2,302.9 187.4,291.4 187.5,290.9 187.7,300.2 187.9,290.2 188.1,284.3 188.3,296.1 188.5,300.2 188.7,298.7 188.8,297.3 189.0,291.5 189.2,287.9 189.4,297.9 189.6,297.0 189.8,302.2 190.0,298.3 190.2,293.9 190.3,305.0 190.5,292.9 190.7,292.0 190.9,290.6 191.1,298.5 191.3,303.0 191.5,297.2 191.7,300.6 191.8,303.8 192.0,299.4 192.2,302.2 192.4,287.4 192.6,292.6 192.8,292.0 193.0,300.9 193.1,289.8 193.3,297.6 193.5,292.1 193.7,300.5 193.9,293.1 194.1,303.4 194.3,296.7 194.5,297.0 194.6,302.0 194.8,295.8 195.0,298.4 195.2,297.7 195.4,292.6 195.6,290.1 195.8,296.8 196.0,290.2 196.1,291.4 196.3,292.6 196.5,288.8 196.7,302.6 196.9,289.9 197.1,294.2 197.3,297.6 197.4,296.6 197.6,291.3 197.8,290.5 198.0,292.6 198.2,301.0 198.4,302.4 198.6,295.6 198.8,293.0 198.9,298.9 199.1,291.9 199.3,293.1 199.5,293.6 199.7,299.2 199.9,290.2 200.1,291.4 200.3,289.7 200.4,294.1 200.6,301.4 200.8,294.0 201.0,291.9 201.2,296.4 201.4,300.8 201.6,293.2 201.7,292.9 201.9,301.3 202.1,299.0 202.3,302.2 202.5,294.3 202.7,294.9 202.9,288.0 203.1,299.8 203.2,289.8 203.4,296.7 203.6,294.5 203.8,301.3 204.0,295.6 204.2,298.1 204.4,296.2 204.6,294.9 204.7,293.6 204.9,292.0 205.1,295.8 205.3,299.7 205.5,291.1 205.7,295.4 205.9,298.4 206.1,289.6 206.2,294.4 206.4,292.5 206.6,303.2 206.8,298.5 207.0,286.7 207.2,293.4 207.4,293.5 207.5,298.8 207.7,296.3 207.9,294.0 208.1,296.0 208.3,296.2 208.5,303.5 208.7,299.2 208.9,297.7 209.0,293.2 209.2,293.4 209.4,295.8 209.6,298.9 209.8,298.9 210.0,294.6 210.2,301.7 210.4,296.7 210.5,297.1 210.7,296.8 210.9,288.3 211.1,296.4 211.3,291.9 211.5,288.6 211.7,293.4 211.8,295.7 212.0,301.3 212.2,288.5 212.4,300.7 212.6,304.8 212.8,291.0 213.0,302.3 213.2,301.1 213.3,298.9 213.5,301.0 213.7,305.5 213.9,294.9 214.1,293.6 214.3,292.4 214.5,295.9 214.7,297.6 214.8,298.2 215.0,290.4 215.2,292.1 215.4,297.8 215.6,294.5 215.8,301.1 216.0,293.6 216.1,300.6 216.3,296.5 216.5,296.9 216.7,307.8 216.9,292.9 217.1,296.0 217.3,299.3 217.5,299.1 217.6,296.3 217.8,296.6 218.0,293.9 218.2,295.2 218.4,293.2 218.6,294.8 218.8,302.1 219.0,302.1 219.1,293.8 219.3,294.1 219.5,295.9 219.7,301.6 219.9,299.0 220.1,299.4 220.3,292.9 220.4,299.4 220.6,301.8 220.8,299.3 221.0,294.4 221.2,288.8 221.4,298.0 221.6,290.8 221.8,297.7 221.9,297.7 222.1,299.5 222.3,292.2 222.5,297.9 222.7,291.5 222.9,297.5 223.1,288.0 223.3,294.7 223.4,295.4 223.6,300.9 223.8,289.9 224.0,294.3 224.2,295.2 224.4,295.5 224.6,297.7 224.8,297.8 224.9,294.0 225.1,299.1 225.3,296.1 225.5,285.5 225.7,296.1 225.9,296.7 226.1,291.5 226.2,299.8 226.4,289.3 226.6,295.4 226.8,300.6 227.0,296.1 227.2,298.5 227.4,292.4 227.6,297.5 227.7,292.2 227.9,304.0 228.1,297.4 228.3,292.9 228.5,293.2 228.7,295.2 228.9,292.1 229.1,292.0 229.2,295.4 229.4,294.5 229.6,291.4 229.8,294.7 230.0,306.8 230.2,302.4 230.4,298.3 230.5,292.4 230.7,295.1 230.9,292.5 231.1,291.0 231.3,293.0 231.5,299.6 231.7,291.7 231.9,301.4 232.0,301.1 232.2,297.4 232.4,305.6 232.6,288.1 232.8,285.0 233.0,296.3 233.2,297.3 233.4,304.9 233.5,293.3 233.7,298.7 233.9,301.0 234.1,301.8 234.3,296.2 234.5,296.7 234.7,296.3 234.8,298.5 235.0,303.4 235.2,289.4 235.4,292.1 235.6,298.4 235.8,301.8 236.0,300.2 236.2,292.7 236.3,293.5 236.5,294.5 236.7,290.4 236.9,298.2 237.1,289.4 237.3,295.0 237.5,299.1 237.7,293.5 237.8,294.3 238.0,298.8 238.2,287.7 238.4,303.0 238.6,294.6 238.8,293.9 239.0,298.9 239.2,295.4 239.3,289.8 239.5,300.6 239.7,300.5 239.9,297.2 240.1,293.4 240.3,290.7 240.5,293.0 240.6,300.6 240.8,290.7 241.0,292.4 241.2,291.0 241.4,303.0 241.6,303.2 241.8,298.7 242.0,297.7 242.1,295.8 242.3,300.6 242.5,300.5 242.7,293.9 242.9,305.2 243.1,301.1 243.3,295.7 243.5,292.5 243.6,294.6 243.8,288.7 244.0,294.5 244.2,292.7 244.4,292.2 244.6,295.6 244.8,301.7 244.9,297.1 245.1,296.8 245.3,299.7 245.5,292.9 245.7,298.3 245.9,302.5 246.1,296.0 246.3,300.4 246.4,293.6 246.6,307.6 246.8,303.5 247.0,295.9 247.2,294.9 247.4,295.6 247.6,289.2 247.8,297.1 247.9,298.3 248.1,292.3 248.3,297.4 248.5,294.2 248.7,290.4 248.9,296.7 249.1,296.4 249.2,298.6 249.4,294.2 249.6,293.1 249.8,291.3 250.0,292.9 250.2,287.0 250.4,295.1 250.6,295.2 250.7,297.0 250.9,290.1 251.1,295.4 251.3,297.0 251.5,301.5 251.7,296.3 251.9,291.9 252.1,307.1 252.2,300.6 252.4,299.7 252.6,299.3"/>
<polyline fill="none" stroke="#ff8080" stroke-width="0.8" stroke-linejoin="round" points="65.8,362.2 66.0,362.8 66.2,363.7 66.4,363.1 66.5,363.2 66.7,363.1 66.9,362.6 67.1,363.7 67.3,362.4 67.5,363.6 67.7,363.1 67.9,362.5 68.0,362.6 68.2,363.4 68.4,361.9 68.6,362.8 68.8,363.5 69.0,363.0 69.2,363.5 69.4,362.7 69.5,363.8 69.7,362.7 69.9,364.0 70.1,362.3 70.3,362.8 70.5,362.2 70.7,363.4 70.8,364.2 71.0,363.8 71.2,363.1 71.4,361.8 71.6,362.4 71.8,361.5 72.0,362.2 72.2,361.2 72.3,360.3 72.5,358.5 72.7,358.5 72.9,356.9 73.1,353.7 73.3,353.7 73.5,350.9 73.7,349.8 73.8,346.5 74.0,343.1 74.2,340.4 74.4,340.8 74.6,340.0 74.8,334.6 75.0,331.4 75.2,332.7 75.3,330.1 75.5,328.9 75.7,330.5 75.9,329.9 76.1,324.9 76.3,322.8 76.5,324.5 76.6,321.5 76.8,321.1 77.0,320.3 77.2,319.9 77.4,314.7 77.6,315.9 77.8,315.5 78.0,315.3 78.1,313.0 78.3,314.1 78.5,312.2 78.7,313.5 78.9,310.7 79.1,311.5 79.3,309.1 79.5,313.4 79.6,311.2 79.8,311.8 80.0,304.9 80.2,309.6 80.4,307.9 80.6,311.6 80.8,309.4 80.9,311.0 81.1,306.6 81.3,308.6 81.5,301.6 81.7,307.8 81.9,302.3 82.1,305.1 82.3,302.9 82.4,306.7 82.6,303.9 82.8,303.9 83.0,305.5 83.2,301.3 83.4,307.0 83.6,302.9 83.8,302.7 83.9,301.6 84.1,305.0 84.3,299.5 84.5,303.9 84.7,302.9 84.9,303.8 85.1,301.9 85.2,299.6 85.4,292.0 85.6,308.2 85.8,297.6 86.0,297.6 86.2,295.7 86.4,299.2 86.6,298.5 86.7,294.4 86.9,299.3 87.1,299.0 87.3,299.4 87.5,298.0 87.7,294.0 87.9,301.7 88.1,295.5 88.2,305.7 88.4,297.4 88.6,300.0 88.8,294.9 89.0,296.2 89.2,296.2 89.4,296.7 89.5,297.4 89.7,304.2 89.9,297.3 90.1,302.1 90.3,295.0 90.5,300.0 90.7,297.9 90.9,299.4 91.0,297.6 91.2,297.2 91.4,296.2 91.6,301.4 91.8,293.1 92.0,300.8 92.2,298.1 92.4,305.5 92.5,296.6 92.7,294.5 92.9,293.8 93.1,295.8 93.3,295.8 93.5,299.2 93.7,298.3 93.9,297.7 94.0,296.6 94.2,300.2 94.4,298.0 94.6,295.4 94.8,296.4 95.0,297.2 95.2,299.2 95.3,295.9 95.5,296.1 95.7,292.2 95.9,296.5 96.1,293.6 96.3,300.4 96.5,291.2 96.7,300.4 96.8,296.6 97.0,297.4 97.2,298.1 97.4,297.2 97.6,297.9 97.8,295.9 98.0,295.4 98.2,292.8 98.3,292.5 98.5,290.9 98.7,294.6 98.9,298.3 99.1,289.1 99.3,294.2 99.5,303.3 99.6,293.5 99.8,296.1 100.0,297.8 100.2,297.4 100.4,295.4 100.6,298.0 100.8,294.8 101.0,296.0 101.1,296.0 101.3,294.1 101.5,294.4 101.7,290.6 101.9,293.9 102.1,298.0 102.3,295.1 102.5,290.1 102.6,290.1 102.8,297.4 103.0,293.0 103.2,296.3 103.4,295.7 103.6,299.4 103.8,299.6 103.9,295.7 104.1,294.1 104.3,293.3 104.5,297.3 104.7,295.4 104.9,294.3 105.1,295.1 105.3,302.8 105.4,297.7 105.6,294.3 105.8,292.8 106.0,297.2 106.2,291.5 106.4,303.2 106.6,290.7 106.8,296.5 106.9,294.4 107.1,297.1 107.3,297.9 107.5,295.3 107.7,294.1 107.9,297.6 108.1,291.9 108.2,295.5 108.4,293.9 108.6,296.3 108.8,296.1 109.0,294.2 109.2,298.1 109.4,292.1 109.6,297.8 109.7,292.8 109.9,297.4 110.1,294.6 110.3,296.0 110.5,290.3 110.7,288.9 110.9,295.1 111.1,292.5 111.2,293.1 111.4,291.6 111.6,290.6 111.8,288.3 112.0,293.4 112.2,298.9 112.4,291.5 112.6,294.7 112.7,294.0 112.9,289.8 113.1,288.9 113.3,293.1 113.5,289.7 113.7,292.0 113.9,290.9 114.0,293.6 114.2,289.2 114.4,295.0 114.6,293.0 114.8,290.4 115.0,296.0 115.2,292.0 115.4,291.7 115.5,290.6 115.7,287.9 115.9,299.2 116.1,290.1 116.3,291.8 116.5,289.4 116.7,290.8 116.9,294.7 117.0,294.4 117.2,295.7 117.4,289.1 117.6,294.5 117.8,291.7 118.0,293.4 118.2,298.7 118.3,293.6 118.5,293.2 118.7,288.3 118.9,293.2 119.1,295.9 119.3,294.2 119.5,290.1 119.7,290.7 119.8,290.8 120.0,290.4 120.2,294.7 120.4,289.6 120.6,291.3 120.8,298.4 121.0,294.0 121.2,288.3 121.3,293.8 121.5,293.2 121.7,292.0 121.9,291.6 122.1,292.1 122.3,290.3 122.5,294.2 122.6,296.2 122.8,291.9 123.0,292.0 123.2,288.9 123.4,285.5 123.6,290.2 123.8,289.0 124.0,286.5 124.1,289.1 124.3,289.5 124.5,294.2 124.7,292.6 124.9,293.7 125.1,292.4 125.3,288.3 125.5,289.3 125.6,291.2 125.8,297.7 126.0,289.5 126.2,289.6 126.4,294.6 126.6,290.9 126.8,292.0 126.9,289.3 127.1,297.3 127.3,294.9 127.5,287.2 127.7,294.2 127.9,293.5 128.1,292.4 128.3,290.3 128.4,287.1 128.6,291.2 128.8,288.2 129.0,289.6 129.2,292.5 129.4,286.0 129.6,287.7 129.8,291.9 129.9,291.3 130.1,293.8 130.3,295.9 130.5,291.1 130.7,287.4 130.9,299.2 131.1,292.4 131.3,284.4 131.4,285.7 131.6,293.1 131.8,292.3 132.0,286.1 132.2,293.4 132.4,290.3 132.6,292.7 132.7,288.8 132.9,289.4 133.1,284.6 133.3,293.0 133.5,294.8 133.7,291.0 133.9,289.1 134.1,290.9 134.2,282.4 134.4,291.4 134.6,290.6 134.8,287.1 135.0,284.6 135.2,289.2 135.4,287.7 135.6,293.5 135.7,292.7 135.9,288.8 136.1,287.3 136.3,287.9 136.5,288.0 136.7,287.1 136.9,289.6 137.0,290.5 137.2,290.2 137.4,293.3 137.6,291.4 137.8,291.7 138.0,287.5 138.2,281.9 138.4,286.9 138.5,283.1 138.7,291.7 138.9,290.2 139.1,289.4 139.3,285.4 139.5,282.8 139.7,286.0 139.9,287.3 140.0,288.1 140.2,290.4 140.4,287.1 140.6,287.2 140.8,288.4 141.0,291.1 141.2,288.1 141.3,288.8 141.5,290.9 141.7,284.9 141.9,288.7 142.1,286.6 142.3,291.8 142.5,289.7 142.7,290.5 142.8,291.5 143.0,288.0 143.2,289.0 143.4,291.9 143.6,290.2 143.8,288.1 144.0,288.3 144.2,282.6 144.3,295.0 144.5,285.5 144.7,285.9 144.9,286.7 145.1,290.2 145.3,290.2 145.5,293.8 145.6,286.6 145.8,289.7 146.0,289.6 146.2,283.0 146.4,290.8 146.6,288.0 146.8,285.9 147.0,288.1 147.1,286.6 147.3,287.0 147.5,286.9 147.7,291.3 147.9,291.4 148.1,284.4 148.3,286.1 148.5,288.1 148.6,289.6 148.8,283.3 149.0,288.6 149.2,290.4 149.4,284.4 149.6,290.6 149.8,288.6 150.0,287.1 150.1,290.8 150.3,286.6 150.5,286.5 150.7,285.8 150.9,287.9 151.1,282.7 151.3,287.4 151.4,288.6 151.6,286.2 151.8,288.7 152.0,294.4 152.2,283.6 152.4,292.4 152.6,292.9 152.8,286.1 152.9,289.1 153.1,283.9 153.3,284.1 153.5,283.9 153.7,287.8 153.9,286.1 154.1,290.7 154.3,284.9 154.4,287.3 154.6,287.4 154.8,286.6 155.0,286.8 155.2,285.8 155.4,284.6 155.6,287.2 155.7,288.3 155.9,290.9 156.1,282.2 156.3,286.0 156.5,288.0 156.7,291.7 156.9,285.4 157.1,290.8 157.2,286.3 157.4,288.2 157.6,283.8 157.8,288.4 158.0,290.4 158.2,293.2 158.4,288.7 158.6,282.3 158.7,286.3 158.9,288.3 159.1,283.7 159.3,288.9 159.5,284.2 159.7,290.9 159.9,290.5 160.0,284.5 160.2,291.0 160.4,283.9 160.6,287.1 160.8,281.5 161.0,288.7 161.2,287.8 161.4,282.4 161.5,288.8 161.7,286.3 161.9,289.6 162.1,284.1 162.3,286.8 162.5,289.9 162.7,286.7 162.9,289.7 163.0,284.7 163.2,290.1 163.4,279.8 163.6,280.1 163.8,292.1 164.0,285.3 164.2,289.1 164.3,288.9 164.5,290.3 164.7,282.2 164.9,292.1 165.1,281.7 165.3,291.4 165.5,284.0 165.7,287.0 165.8,288.1 166.0,289.2 166.2,287.5 166.4,285.5 166.6,281.9 166.8,291.8 167.0,285.5 167.2,286.9 167.3,288.6 167.5,286.8 167.7,286.5 167.9,288.9 168.1,287.8 168.3,285.5 168.5,287.6 168.7,285.1 168.8,288.9 169.0,285.5 169.2,284.9 169.4,284.9 169.6,285.4 169.8,286.1 170.0,286.7 170.1,288.0 170.3,287.9 170.5,285.7 170.7,290.4 170.9,281.4 171.1,290.0 171.3,286.4 171.5,282.4 171.6,281.0 171.8,284.0 172.0,285.6 172.2,289.9 172.4,284.6 172.6,286.7 172.8,289.8 173.0,286.7 173.1,282.7 173.3,283.9 173.5,284.4 173.7,283.0 173.9,284.0 174.1,284.5 174.3,286.2 174.4,285.0 174.6,286.7 174.8,287.2 175.0,287.8 175.2,280.7 175.4,283.7 175.6,283.0 175.8,285.4 175.9,284.7 176.1,287.3 176.3,287.0 176.5,282.7 176.7,280.0 176.9,290.8 177.1,287.6 177.3,287.8 177.4,289.1 177.6,287.4 177.8,287.2 178.0,288.9 178.2,284.8 178.4,290.5 178.6,281.8 178.7,283.5 178.9,286.8 179.1,288.7 179.3,288.5 179.5,285.5 179.7,280.9 179.9,282.2 180.1,282.8 180.2,288.6 180.4,285.7 180.6,283.4 180.8,284.3 181.0,284.4 181.2,285.8 181.4,286.4 181.6,285.5 181.7,284.7 181.9,285.4 182.1,282.0 182.3,287.2 182.5,279.1 182.7,283.6 182.9,285.5 183.0,282.4 183.2,283.5 183.4,289.8 183.6,286.0 183.8,281.5 184.0,284.4 184.2,280.7 184.4,286.7 184.5,284.9 184.7,286.3 184.9,284.9 185.1,286.9 185.3,286.9 185.5,281.6 185.7,288.1 185.9,285.8 186.0,282.2 186.2,279.0 186.4,280.2 186.6,282.4 186.8,285.5 187.0,284.7 187.2,282.2 187.4,284.9 187.5,289.8 187.7,284.5 187.9,285.7 188.1,292.7 188.3,285.2 188.5,286.4 188.7,283.8 188.8,284.5 189.0,281.0 189.2,281.2 189.4,286.1 189.6,288.7 189.8,284.8 190.0,280.5 190.2,284.8 190.3,284.4 190.5,283.3 190.7,285.2 190.9,285.3 191.1,285.1 191.3,285.0 191.5,288.2 191.7,279.8 191.8,287.6 192.0,281.8 192.2,287.1 192.4,281.7 192.6,284.2 192.8,283.1 193.0,279.0 193.1,283.1 193.3,286.8 193.5,286.5 193.7,289.4 193.9,288.6 194.1,287.4 194.3,282.3 194.5,285.9 194.6,282.9 194.8,286.9 195.0,287.6 195.2,286.0 195.4,286.9 195.6,284.8 195.8,278.5 196.0,284.2 196.1,281.9 196.3,284.1 196.5,287.7 196.7,288.0 196.9,282.1 197.1,285.2 197.3,283.1 197.4,286.8 197.6,288.7 197.8,283.4 198.0,284.7 198.2,288.8 198.4,283.1 198.6,280.6 198.8,284.9 198.9,284.0 199.1,285.9 199.3,285.6 199.5,283.3 199.7,281.1 199.9,285.0 200.1,285.6 200.3,287.0 200.4,284.0 200.6,282.8 200.8,285.2 201.0,288.2 201.2,281.6 201.4,282.4 201.6,286.5 201.7,280.2 201.9,284.4 202.1,284.1 202.3,286.6 202.5,281.9 202.7,281.5 202.9,287.9 203.1,284.5 203.2,290.4 203.4,288.5 203.6,286.5 203.8,282.1 204.0,284.0 204.2,283.2 204.4,285.8 204.6,282.7 204.7,288.0 204.9,282.4 205.1,287.5 205.3,283.3 205.5,280.0 205.7,281.6 205.9,281.4 206.1,282.2 206.2,291.2 206.4,286.2 206.6,281.9 206.8,284.5 207.0,286.3 207.2,282.6 207.4,280.8 207.5,286.1 207.7,282.3 207.9,283.2 208.1,282.1 208.3,279.1 208.5,284.3 208.7,280.9 208.9,278.7 209.0,287.9 209.2,283.9 209.4,285.3 209.6,282.0 209.8,285.8 210.0,284.6 210.2,281.6 210.4,284.1 210.5,287.2 210.7,285.8 210.9,286.2 211.1,287.3 211.3,281.3 211.5,279.4 211.7,286.7 211.8,277.5 212.0,282.3 212.2,288.8 212.4,288.9 212.6,287.4 212.8,280.6 213.0,288.3 213.2,287.1 213.3,280.2 213.5,285.3 213.7,283.2 213.9,289.2 214.1,283.7 214.3,286.8 214.5,286.3 214.7,288.0 214.8,283.0 215.0,293.0 215.2,283.6 215.4,280.5 215.6,281.3 215.8,289.1 216.0,281.5 216.1,282.2 216.3,281.2 216.5,285.6 216.7,280.0 216.9,282.3 217.1,287.2 217.3,286.1 217.5,284.7 217.6,281.7 217.8,281.7 218.0,281.7 218.2,286.2 218.4,284.4 218.6,286.9 218.8,284.0 219.0,287.0 219.1,284.5 219.3,280.8 219.5,285.5 219.7,280.8 219.9,279.8 220.1,286.3 220.3,278.0 220.4,280.5 220.6,285.7 220.8,284.0 221.0,285.6 221.2,282.5 221.4,282.2 221.6,285.0 221.8,283.8 221.9,285.1 222.1,288.5 222.3,287.9 222.5,281.7 222.7,289.0 222.9,284.7 223.1,279.9 223.3,281.2 223.4,279.6 223.6,287.7 223.8,281.6 224.0,281.6 224.2,283.8 224.4,282.5 224.6,283.4 224.8,278.6 224.9,285.3 225.1,287.2 225.3,280.6 225.5,287.5 225.7,286.0 225.9,282.5 226.1,284.9 226.2,286.4 226.4,280.7 226.6,288.9 226.8,282.5 227.0,285.5 227.2,284.6 227.4,281.4 227.6,282.0 227.7,283.0 227.9,277.4 228.1,285.2 228.3,278.3 228.5,282.8 228.7,283.1 228.9,282.5 229.1,280.1 229.2,288.3 229.4,277.1 229.6,276.7 229.8,286.9 230.0,287.0 230.2,284.7 230.4,284.7 230.5,283.3 230.7,283.4 230.9,283.6 231.1,277.1 231.3,285.2 231.5,286.0 231.7,280.0 231.9,279.0 232.0,285.0 232.2,282.0 232.4,283.5 232.6,287.9 232.8,284.5 233.0,281.8 233.2,287.2 233.4,286.4 233.5,283.6 233.7,276.4 233.9,279.0 234.1,282.9 234.3,282.5 234.5,279.4 234.7,284.4 234.8,281.6 235.0,285.3 235.2,282.1 235.4,280.0 235.6,286.0 235.8,280.7 236.0,280.4 236.2,284.1 236.3,288.6 236.5,283.2 236.7,274.8 236.9,283.9 237.1,285.9 237.3,281.2 237.5,284.8 237.7,286.0 237.8,282.0 238.0,279.0 238.2,282.1 238.4,283.3 238.6,282.1 238.8,286.3 239.0,286.6 239.2,277.0 239.3,283.8 239.5,283.4 239.7,283.6 239.9,285.8 240.1,280.8 240.3,290.8 240.5,282.0 240.6,284.8 240.8,282.1 241.0,280.4 241.2,282.5 241.4,286.8 241.6,281.3 241.8,282.7 242.0,277.8 242.1,285.5 242.3,277.2 242.5,284.9 242.7,285.6 242.9,291.1 243.1,284.3 243.3,280.9 243.5,284.2 243.6,283.7 243.8,280.3 244.0,280.0 244.2,285.0 244.4,280.3 244.6,280.0 244.8,275.1 244.9,285.2 245.1,288.1 245.3,282.5 245.5,286.1 245.7,286.0 245.9,282.8 246.1,282.3 246.3,283.5 246.4,281.6 246.6,281.5 246.8,284.0 247.0,279.5 247.2,278.2 247.4,282.5 247.6,278.9 247.8,281.6 247.9,283.5 248.1,283.6 248.3,276.7 248.5,285.6 248.7,286.3 248.9,279.4 249.1,282.7 249.2,287.5 249.4,286.4 249.6,283.8 249.8,286.7 250.0,283.6 250.2,283.9 250.4,282.3 250.6,287.0 250.7,283.5 250.9,282.2 251.1,287.4 251.3,287.4 251.5,279.3 251.7,284.0 251.9,286.8 252.1,280.0 252.2,283.8 252.4,288.0 252.6,284.5"/>
<polyline fill="none" stroke="#ff0000" stroke-width="0.8" stroke-linejoin="round" points="65.8,361.6 66.0,361.8 66.2,362.1 66.4,363.1 66.5,361.8 66.7,361.3 66.9,361.2 67.1,362.1 67.3,360.5 67.5,360.7 67.7,361.9 67.9,361.9 68.0,361.2 68.2,361.9 68.4,361.7 68.6,361.1 68.8,361.1 69.0,362.1 69.2,362.1 69.4,362.1 69.5,361.8 69.7,361.8 69.9,362.0 70.1,361.3 70.3,361.8 70.5,361.8 70.7,363.0 70.8,362.6 71.0,362.2 71.2,361.6 71.4,362.3 71.6,360.0 71.8,359.4 72.0,357.8 72.2,356.3 72.3,354.4 72.5,352.2 72.7,351.2 72.9,347.6 73.1,347.2 73.3,344.0 73.5,342.4 73.7,340.1 73.8,337.2 74.0,335.5 74.2,332.1 74.4,332.3 74.6,329.4 74.8,327.7 75.0,324.3 75.2,323.2 75.3,322.7 75.5,319.9 75.7,319.4 75.9,320.0 76.1,317.1 76.3,314.4 76.5,315.6 76.6,311.3 76.8,311.8 77.0,312.2 77.2,309.5 77.4,311.9 77.6,309.6 77.8,309.5 78.0,306.1 78.1,308.1 78.3,308.4 78.5,304.3 78.7,305.2 78.9,305.1 79.1,304.3 79.3,300.4 79.5,301.6 79.6,303.1 79.8,294.9 80.0,299.4 80.2,295.8 80.4,297.2 80.6,296.0 80.8,300.9 80.9,299.8 81.1,296.5 81.3,297.9 81.5,297.1 81.7,294.2 81.9,302.6 82.1,297.2 82.3,291.9 82.4,297.0 82.6,295.3 82.8,294.1 83.0,294.0 83.2,293.7 83.4,296.8 83.6,293.1 83.8,295.4 83.9,289.3 84.1,295.0 84.3,292.4 84.5,293.4 84.7,289.6 84.9,292.1 85.1,290.3 85.2,293.5 85.4,292.8 85.6,294.2 85.8,291.9 86.0,292.0 86.2,294.1 86.4,294.3 86.6,290.3 86.7,291.0 86.9,292.3 87.1,292.7 87.3,293.0 87.5,289.6 87.7,291.2 87.9,291.3 88.1,291.0 88.2,290.6 88.4,290.0 88.6,288.8 88.8,293.6 89.0,289.4 89.2,291.8 89.4,289.4 89.5,284.9 89.7,293.3 89.9,291.5 90.1,289.3 90.3,293.9 90.5,281.1 90.7,289.2 90.9,282.9 91.0,287.4 91.2,283.8 91.4,284.7 91.6,287.6 91.8,285.3 92.0,288.3 92.2,287.7 92.4,282.2 92.5,288.5 92.7,288.4 92.9,278.9 93.1,286.8 93.3,284.8 93.5,281.0 93.7,286.7 93.9,286.8 94.0,280.2 94.2,285.0 94.4,284.2 94.6,285.7 94.8,283.2 95.0,288.8 95.2,284.0 95.3,281.6 95.5,281.6 95.7,285.5 95.9,282.3 96.1,278.1 96.3,283.5 96.5,281.9 96.7,284.6 96.8,288.2 97.0,281.4 97.2,285.9 97.4,285.1 97.6,283.0 97.8,283.1 98.0,283.3 98.2,279.9 98.3,282.5 98.5,282.7 98.7,285.6 98.9,280.2 99.1,286.0 99.3,288.6 99.5,284.6 99.6,280.4 99.8,281.3 100.0,278.8 100.2,281.0 100.4,281.1 100.6,281.1 100.8,283.7 101.0,283.1 101.1,283.0 101.3,281.2 101.5,284.2 101.7,282.8 101.9,280.8 102.1,281.7 102.3,282.2 102.5,281.9 102.6,284.7 102.8,284.9 103.0,283.4 103.2,278.6 103.4,279.0 103.6,280.3 103.8,279.3 103.9,278.8 104.1,287.3 104.3,282.3 104.5,278.5 104.7,276.0 104.9,280.2 105.1,276.0 105.3,277.4 105.4,280.2 105.6,283.3 105.8,283.2 106.0,280.6 106.2,279.8 106.4,280.5 106.6,278.6 106.8,278.7 106.9,280.1 107.1,279.0 107.3,279.3 107.5,285.2 107.7,283.5 107.9,279.1 108.1,277.9 108.2,279.6 108.4,280.7 108.6,279.3 108.8,278.5 109.0,279.3 109.2,285.1 109.4,278.8 109.6,277.6 109.7,279.3 109.9,273.6 110.1,283.4 110.3,284.4 110.5,270.3 110.7,282.1 110.9,286.0 111.1,280.9 111.2,277.1 111.4,281.2 111.6,280.4 111.8,277.2 112.0,273.9 112.2,277.1 112.4,278.3 112.6,280.3 112.7,277.0 112.9,271.5 113.1,282.1 113.3,281.9 113.5,279.9 113.7,277.0 113.9,277.2 114.0,279.5 114.2,280.1 114.4,275.1 114.6,277.5 114.8,275.1 115.0,279.3 115.2,275.6 115.4,280.9 115.5,273.0 115.7,279.7 115.9,279.5 116.1,277.4 116.3,279.0 116.5,280.1 116.7,277.2 116.9,280.2 117.0,273.2 117.2,280.3 117.4,276.1 117.6,280.4 117.8,283.0 118.0,284.6 118.2,278.1 118.3,282.0 118.5,277.8 118.7,280.4 118.9,278.4 119.1,278.2 119.3,273.3 119.5,278.6 119.7,281.8 119.8,284.3 120.0,275.6 120.2,277.7 120.4,274.1 120.6,282.3 120.8,278.4 121.0,280.1 121.2,276.5 121.3,278.7 121.5,274.0 121.7,278.9 121.9,278.3 122.1,279.5 122.3,276.4 122.5,274.7 122.6,276.2 122.8,279.3 123.0,280.5 123.2,280.0 123.4,277.1 123.6,278.9 123.8,277.9 124.0,274.4 124.1,276.2 124.3,276.8 124.5,278.7 124.7,277.9 124.9,278.1 125.1,277.2 125.3,277.9 125.5,276.8 125.6,279.0 125.8,273.7 126.0,276.2 126.2,276.3 126.4,274.7 126.6,280.0 126.8,280.3 126.9,281.1 127.1,279.1 127.3,275.5 127.5,276.5 127.7,272.7 127.9,280.8 128.1,275.7 128.3,280.3 128.4,280.3 128.6,280.3 128.8,273.6 129.0,276.6 129.2,273.3 129.4,276.5 129.6,274.8 129.8,274.9 129.9,275.2 130.1,276.2 130.3,274.0 130.5,276.1 130.7,276.3 130.9,276.4 131.1,278.1 131.3,280.6 131.4,278.5 131.6,271.6 131.8,276.0 132.0,279.1 132.2,277.0 132.4,273.7 132.6,271.3 132.7,281.3 132.9,280.6 133.1,282.0 133.3,277.8 133.5,278.7 133.7,273.0 133.9,274.3 134.1,277.6 134.2,269.8 134.4,277.7 134.6,275.1 134.8,273.9 135.0,278.6 135.2,275.5 135.4,275.1 135.6,276.3 135.7,273.9 135.9,276.2 136.1,277.5 136.3,273.4 136.5,277.0 136.7,274.4 136.9,277.0 137.0,274.0 137.2,275.2 137.4,278.8 137.6,274.4 137.8,276.7 138.0,270.7 138.2,276.9 138.4,273.1 138.5,281.5 138.7,276.7 138.9,280.2 139.1,275.2 139.3,277.5 139.5,271.5 139.7,273.3 139.9,271.2 140.0,277.7 140.2,281.2 140.4,275.2 140.6,271.3 140.8,274.3 141.0,269.9 141.2,275.7 141.3,276.8 141.5,273.5 141.7,272.0 141.9,275.9 142.1,276.6 142.3,276.7 142.5,269.5 142.7,280.5 142.8,271.5 143.0,275.1 143.2,270.4 143.4,272.5 143.6,277.8 143.8,274.0 144.0,275.9 144.2,276.1 144.3,278.4 144.5,271.1 144.7,279.7 144.9,273.9 145.1,268.9 145.3,273.1 145.5,270.0 145.6,271.9 145.8,270.8 146.0,276.7 146.2,273.9 146.4,273.0 146.6,273.6 146.8,276.8 147.0,277.0 147.1,274.2 147.3,273.0 147.5,273.4 147.7,278.6 147.9,275.6 148.1,275.7 148.3,273.0 148.5,276.4 148.6,273.8 148.8,277.4 149.0,275.1 149.2,272.1 149.4,271.7 149.6,277.3 149.8,273.7 150.0,275.8 150.1,268.8 150.3,272.6 150.5,273.7 150.7,268.6 150.9,281.8 151.1,276.1 151.3,272.0 151.4,273.8 151.6,272.6 151.8,275.3 152.0,274.3 152.2,272.9 152.4,270.4 152.6,267.6 152.8,276.6 152.9,272.1 153.1,279.4 153.3,274.8 153.5,272.6 153.7,275.7 153.9,272.8 154.1,273.8 154.3,268.7 154.4,273.1 154.6,275.1 154.8,277.8 155.0,274.4 155.2,271.3 155.4,267.0 155.6,272.8 155.7,273.9 155.9,273.6 156.1,272.2 156.3,270.5 156.5,270.5 156.7,272.8 156.9,272.0 157.1,273.8 157.2,270.0 157.4,277.2 157.6,270.5 157.8,273.0 158.0,273.2 158.2,272.6 158.4,273.4 158.6,275.5 158.7,273.2 158.9,272.9 159.1,272.4 159.3,270.8 159.5,273.9 159.7,278.3 159.9,273.5 160.0,272.6 160.2,272.3 160.4,278.3 160.6,270.8 160.8,268.8 161.0,273.0 161.2,270.5 161.4,269.9 161.5,269.0 161.7,276.7 161.9,270.7 162.1,273.9 162.3,276.9 162.5,272.6 162.7,273.6 162.9,270.3 163.0,270.9 163.2,275.2 163.4,271.7 163.6,271.4 163.8,276.7 164.0,272.3 164.2,273.6 164.3,269.4 164.5,271.4 164.7,274.6 164.9,275.1 165.1,279.1 165.3,269.8 165.5,269.9 165.7,270.5 165.8,272.9 166.0,271.5 166.2,275.1 166.4,271.8 166.6,271.4 166.8,272.8 167.0,267.7 167.2,273.1 167.3,275.1 167.5,276.3 167.7,270.8 167.9,274.2 168.1,274.4 168.3,275.3 168.5,276.2 168.7,271.2 168.8,277.7 169.0,266.9 169.2,274.5 169.4,270.9 169.6,273.7 169.8,271.1 170.0,271.0 170.1,271.8 170.3,267.6 170.5,276.0 170.7,272.7 170.9,274.6 171.1,272.3 171.3,274.2 171.5,275.5 171.6,273.2 171.8,273.7 172.0,272.7 172.2,272.4 172.4,275.2 172.6,275.3 172.8,277.1 173.0,273.5 173.1,273.3 173.3,271.6 173.5,271.2 173.7,276.1 173.9,272.0 174.1,272.7 174.3,279.4 174.4,273.8 174.6,271.6 174.8,270.1 175.0,271.4 175.2,270.4 175.4,275.6 175.6,267.9 175.8,277.3 175.9,270.6 176.1,274.7 176.3,273.0 176.5,273.8 176.7,276.4 176.9,269.3 177.1,276.1 177.3,276.8 177.4,271.1 177.6,273.4 177.8,267.4 178.0,271.1 178.2,271.8 178.4,271.0 178.6,270.6 178.7,277.9 178.9,276.0 179.1,275.6 179.3,267.1 179.5,273.8 179.7,273.4 179.9,269.2 180.1,271.4 180.2,273.0 180.4,274.5 180.6,274.7 180.8,272.4 181.0,271.2 181.2,270.9 181.4,270.2 181.6,275.9 181.7,272.7 181.9,273.6 182.1,275.0 182.3,270.8 182.5,268.1 182.7,271.8 182.9,276.2 183.0,271.7 183.2,268.8 183.4,274.3 183.6,274.8 183.8,272.1 184.0,274.2 184.2,272.0 184.4,266.9 184.5,272.2 184.7,273.7 184.9,271.1 185.1,273.1 185.3,267.3 185.5,271.2 185.7,272.3 185.9,275.8 186.0,270.1 186.2,268.5 186.4,273.1 186.6,271.3 186.8,270.3 187.0,269.6 187.2,268.0 187.4,271.6 187.5,271.0 187.7,270.7 187.9,271.9 188.1,268.8 188.3,269.1 188.5,277.8 188.7,272.4 188.8,277.8 189.0,270.3 189.2,270.4 189.4,272.8 189.6,265.6 189.8,274.2 190.0,270.2 190.2,272.7 190.3,272.6 190.5,277.1 190.7,271.6 190.9,268.4 191.1,272.1 191.3,267.6 191.5,271.4 191.7,271.2 191.8,273.1 192.0,272.5 192.2,272.8 192.4,269.6 192.6,272.9 192.8,270.6 193.0,270.2 193.1,270.4 193.3,272.9 193.5,277.1 193.7,270.3 193.9,271.5 194.1,267.8 194.3,271.7 194.5,272.4 194.6,273.9 194.8,270.2 195.0,274.7 195.2,272.4 195.4,272.9 195.6,273.8 195.8,277.2 196.0,267.9 196.1,270.3 196.3,276.2 196.5,276.0 196.7,276.5 196.9,273.5 197.1,270.4 197.3,274.1 197.4,271.4 197.6,269.8 197.8,274.0 198.0,274.2 198.2,273.7 198.4,273.7 198.6,271.8 198.8,270.1 198.9,267.5 199.1,271.5 199.3,273.4 199.5,272.5 199.7,276.0 199.9,270.1 200.1,273.5 200.3,270.4 200.4,273.1 200.6,274.4 200.8,268.8 201.0,272.3 201.2,272.7 201.4,271.8 201.6,277.5 201.7,274.0 201.9,272.5 202.1,273.4 202.3,277.0 202.5,270.2 202.7,271.2 202.9,268.8 203.1,268.3 203.2,277.0 203.4,270.5 203.6,270.9 203.8,274.3 204.0,271.2 204.2,270.1 204.4,273.2 204.6,273.0 204.7,277.3 204.9,276.3 205.1,273.4 205.3,268.3 205.5,276.3 205.7,271.0 205.9,271.9 206.1,271.7 206.2,278.3 206.4,274.9 206.6,269.5 206.8,272.6 207.0,275.5 207.2,271.8 207.4,271.4 207.5,273.1 207.7,275.7 207.9,272.0 208.1,273.0 208.3,271.0 208.5,274.5 208.7,272.5 208.9,276.3 209.0,274.9 209.2,273.6 209.4,271.1 209.6,274.1 209.8,275.1 210.0,272.0 210.2,270.2 210.4,274.7 210.5,271.5 210.7,269.2 210.9,270.8 211.1,274.9 211.3,271.6 211.5,275.0 211.7,272.8 211.8,267.8 212.0,267.1 212.2,274.7 212.4,271.7 212.6,269.5 212.8,276.4 213.0,272.1 213.2,273.7 213.3,272.2 213.5,270.7 213.7,273.8 213.9,275.5 214.1,274.7 214.3,269.6 214.5,270.9 214.7,270.4 214.8,273.7 215.0,271.3 215.2,271.3 215.4,269.9 215.6,271.7 215.8,268.5 216.0,271.7 216.1,266.4 216.3,274.8 216.5,270.4 216.7,273.3 216.9,271.1 217.1,270.1 217.3,275.7 217.5,266.9 217.6,273.1 217.8,272.6 218.0,277.5 218.2,270.9 218.4,267.6 218.6,270.8 218.8,271.5 219.0,270.4 219.1,273.4 219.3,272.8 219.5,268.1 219.7,272.8 219.9,274.0 220.1,274.3 220.3,270.9 220.4,270.0 220.6,275.5 220.8,272.0 221.0,272.4 221.2,276.5 221.4,265.6 221.6,270.9 221.8,273.6 221.9,276.4 222.1,273.2 222.3,270.7 222.5,275.5 222.7,273.5 222.9,268.8 223.1,269.6 223.3,270.7 223.4,272.0 223.6,273.8 223.8,274.0 224.0,269.6 224.2,272.9 224.4,274.1 224.6,271.0 224.8,272.7 224.9,271.6 225.1,271.6 225.3,267.6 225.5,272.6 225.7,268.5 225.9,272.5 226.1,270.3 226.2,272.9 226.4,272.4 226.6,270.1 226.8,270.8 227.0,275.7 227.2,272.5 227.4,268.3 227.6,272.1 227.7,271.8 227.9,275.8 228.1,264.8 228.3,272.9 228.5,274.6 228.7,274.7 228.9,272.7 229.1,274.4 229.2,274.8 229.4,270.5 229.6,271.1 229.8,272.0 230.0,269.4 230.2,270.9 230.4,266.9 230.5,265.6 230.7,269.7 230.9,272.3 231.1,268.3 231.3,274.3 231.5,271.9 231.7,272.5 231.9,270.5 232.0,270.1 232.2,271.5 232.4,268.1 232.6,271.8 232.8,271.7 233.0,272.7 233.2,273.5 233.4,271.5 233.5,270.7 233.7,271.3 233.9,268.1 234.1,270.4 234.3,269.1 234.5,270.9 234.7,278.2 234.8,271.6 235.0,272.6 235.2,270.3 235.4,272.6 235.6,272.8 235.8,269.5 236.0,271.6 236.2,269.9 236.3,267.9 236.5,272.1 236.7,276.3 236.9,272.9 237.1,274.9 237.3,275.6 237.5,267.9 237.7,265.4 237.8,275.5 238.0,267.6 238.2,266.7 238.4,270.2 238.6,271.3 238.8,268.5 239.0,270.5 239.2,270.2 239.3,270.6 239.5,272.3 239.7,271.6 239.9,272.3 240.1,272.0 240.3,269.8 240.5,274.1 240.6,273.6 240.8,271.2 241.0,268.4 241.2,269.8 241.4,271.0 241.6,273.0 241.8,275.5 242.0,271.9 242.1,270.6 242.3,275.0 242.5,266.1 242.7,270.4 242.9,268.7 243.1,269.4 243.3,277.6 243.5,269.0 243.6,269.4 243.8,275.7 244.0,271.3 244.2,271.7 244.4,271.8 244.6,269.5 244.8,274.6 244.9,273.6 245.1,276.5 245.3,269.0 245.5,273.2 245.7,272.2 245.9,272.5 246.1,271.4 246.3,276.5 246.4,269.9 246.6,274.3 246.8,273.5 247.0,270.7 247.2,268.8 247.4,269.7 247.6,272.9 247.8,270.7 247.9,275.6 248.1,269.2 248.3,271.3 248.5,272.6 248.7,274.0 248.9,272.8 249.1,270.5 249.2,275.1 249.4,268.8 249.6,275.8 249.8,270.6 250.0,267.0 250.2,274.0 250.4,269.7 250.6,271.3 250.7,265.2 250.9,271.8 251.1,272.8 251.3,272.3 251.5,271.8 251.7,271.2 251.9,273.9 252.1,272.1 252.2,265.8 252.4,267.0 252.6,273.6"/>
<line x1="65.80" y1="239.60" x2="65.80" y2="374.15" stroke="#000" stroke-width="1.6"/>
<line x1="65.00" y1="373.40" x2="256.60" y2="373.40" stroke="#000" stroke-width="1.5"/>
<line x1="61.20" y1="361.80" x2="65.80" y2="361.80" stroke="#000" stroke-width="1.0"/>
<text x="57.20" y="365.54" font-size="9.7" text-anchor="end" fill="#000" textLength="6.09" lengthAdjust="spacingAndGlyphs">0</text>
<line x1="61.20" y1="338.26" x2="65.80" y2="338.26" stroke="#000" stroke-width="1.0"/>
<text x="57.20" y="342.00" font-size="9.7" text-anchor="end" fill="#000" textLength="12.19" lengthAdjust="spacingAndGlyphs">20</text>
<line x1="61.20" y1="314.72" x2="65.80" y2="314.72" stroke="#000" stroke-width="1.0"/>
<text x="57.20" y="318.46" font-size="9.7" text-anchor="end" fill="#000" textLength="12.19" lengthAdjust="spacingAndGlyphs">40</text>
<line x1="61.20" y1="291.18" x2="65.80" y2="291.18" stroke="#000" stroke-width="1.0"/>
<text x="57.20" y="294.92" font-size="9.7" text-anchor="end" fill="#000" textLength="12.19" lengthAdjust="spacingAndGlyphs">60</text>
<line x1="61.20" y1="267.64" x2="65.80" y2="267.64" stroke="#000" stroke-width="1.0"/>
<text x="57.20" y="271.38" font-size="9.7" text-anchor="end" fill="#000" textLength="12.19" lengthAdjust="spacingAndGlyphs">80</text>
<line x1="61.20" y1="244.10" x2="65.80" y2="244.10" stroke="#000" stroke-width="1.0"/>
<text x="57.20" y="247.84" font-size="9.7" text-anchor="end" fill="#000" textLength="18.28" lengthAdjust="spacingAndGlyphs">100</text>
<line x1="65.80" y1="373.40" x2="65.80" y2="377.50" stroke="#000" stroke-width="1.0"/>
<text x="65.80" y="389.10" font-size="9.7" text-anchor="middle" fill="#000" textLength="6.09" lengthAdjust="spacingAndGlyphs">0</text>
<line x1="84.37" y1="373.40" x2="84.37" y2="377.50" stroke="#000" stroke-width="1.0"/>
<text x="84.37" y="389.10" font-size="9.7" text-anchor="middle" fill="#000" textLength="6.09" lengthAdjust="spacingAndGlyphs">1</text>
<line x1="102.94" y1="373.40" x2="102.94" y2="377.50" stroke="#000" stroke-width="1.0"/>
<text x="102.94" y="389.10" font-size="9.7" text-anchor="middle" fill="#000" textLength="6.09" lengthAdjust="spacingAndGlyphs">2</text>
<line x1="121.51" y1="373.40" x2="121.51" y2="377.50" stroke="#000" stroke-width="1.0"/>
<text x="121.51" y="389.10" font-size="9.7" text-anchor="middle" fill="#000" textLength="6.09" lengthAdjust="spacingAndGlyphs">3</text>
<line x1="140.08" y1="373.40" x2="140.08" y2="377.50" stroke="#000" stroke-width="1.0"/>
<text x="140.08" y="389.10" font-size="9.7" text-anchor="middle" fill="#000" textLength="6.09" lengthAdjust="spacingAndGlyphs">4</text>
<line x1="158.65" y1="373.40" x2="158.65" y2="377.50" stroke="#000" stroke-width="1.0"/>
<text x="158.65" y="389.10" font-size="9.7" text-anchor="middle" fill="#000" textLength="6.09" lengthAdjust="spacingAndGlyphs">5</text>
<line x1="177.22" y1="373.40" x2="177.22" y2="377.50" stroke="#000" stroke-width="1.0"/>
<text x="177.22" y="389.10" font-size="9.7" text-anchor="middle" fill="#000" textLength="6.09" lengthAdjust="spacingAndGlyphs">6</text>
<line x1="195.79" y1="373.40" x2="195.79" y2="377.50" stroke="#000" stroke-width="1.0"/>
<text x="195.79" y="389.10" font-size="9.7" text-anchor="middle" fill="#000" textLength="6.09" lengthAdjust="spacingAndGlyphs">7</text>
<line x1="214.36" y1="373.40" x2="214.36" y2="377.50" stroke="#000" stroke-width="1.0"/>
<text x="214.36" y="389.10" font-size="9.7" text-anchor="middle" fill="#000" textLength="6.09" lengthAdjust="spacingAndGlyphs">8</text>
<line x1="232.93" y1="373.40" x2="232.93" y2="377.50" stroke="#000" stroke-width="1.0"/>
<text x="232.93" y="389.10" font-size="9.7" text-anchor="middle" fill="#000" textLength="6.09" lengthAdjust="spacingAndGlyphs">9</text>
<line x1="251.50" y1="373.40" x2="251.50" y2="377.50" stroke="#000" stroke-width="1.0"/>
<text x="251.50" y="389.10" font-size="9.7" text-anchor="middle" fill="#000" textLength="12.19" lengthAdjust="spacingAndGlyphs">10</text>
<text x="131.00" y="404.60" font-size="11.7" textLength="18.6" lengthAdjust="spacingAndGlyphs" style="stroke-width:0.3px">Time</text>
<text x="153.00" y="404.60" font-size="11.7" textLength="37.6" lengthAdjust="spacingAndGlyphs" style="stroke-width:0.3px">(minutes)</text>
<text transform="translate(30.90,372.87) rotate(-90)" font-size="12.5" textLength="33.82" lengthAdjust="spacingAndGlyphs" style="stroke-width:0.35px">Maximal</text>
<text transform="translate(30.90,337.35) rotate(-90)" font-size="12.5" textLength="28.95" lengthAdjust="spacingAndGlyphs" style="stroke-width:0.35px">platelet</text>
<text transform="translate(30.90,305.42) rotate(-90)" font-size="12.5" textLength="46.18" lengthAdjust="spacingAndGlyphs" style="stroke-width:0.35px">aggregation</text>
<text transform="translate(30.90,256.16) rotate(-90)" font-size="12.5" textLength="15.02" lengthAdjust="spacingAndGlyphs" style="stroke-width:0.35px">(%)</text>
<text x="134.50" y="239.50" font-size="10" fill="#000" textLength="53.3" lengthAdjust="spacingAndGlyphs">TRAP 25μM</text>
<text x="9.70" y="225.80" font-size="15.8" font-weight="bold" style="stroke-width:0.5px">C</text>
<line x1="257.20" y1="265.00" x2="257.20" y2="299.00" stroke="#444" stroke-width="1.6"/>
<line x1="257.20" y1="320.40" x2="257.20" y2="339.20" stroke="#444" stroke-width="1.6"/>
<text x="260.80" y="280.20" font-size="10" fill="#000">COVID-19</text>
<text x="260.80" y="292.40" font-size="10" fill="#000" textLength="30.8" lengthAdjust="spacingAndGlyphs">plasma</text>
<text x="260.80" y="326.60" font-size="10" fill="#000" textLength="32.6" lengthAdjust="spacingAndGlyphs">Healthy</text>
<text x="260.80" y="338.10" font-size="10" fill="#000" textLength="30.8" lengthAdjust="spacingAndGlyphs">plasma</text>
<rect x="423.60" y="321.90" width="25.70" height="51.00" fill="#88a8c2"/>
<rect x="470.30" y="298.30" width="25.50" height="74.60" fill="#de8a96"/>
<line x1="436.80" y1="321.90" x2="436.80" y2="315.50" stroke="#000" stroke-width="1.2"/>
<line x1="432.30" y1="315.50" x2="441.30" y2="315.50" stroke="#000" stroke-width="1.5"/>
<line x1="483.20" y1="298.30" x2="483.20" y2="293.20" stroke="#000" stroke-width="1.2"/>
<line x1="478.70" y1="293.20" x2="487.70" y2="293.20" stroke="#000" stroke-width="1.5"/>
<circle cx="436.90" cy="286.10" r="1.6" fill="#0a4f8e"/>
<circle cx="436.90" cy="294.70" r="1.6" fill="#0a4f8e"/>
<circle cx="436.90" cy="300.50" r="1.6" fill="#0a4f8e"/>
<circle cx="436.90" cy="313.50" r="1.6" fill="#0a4f8e"/>
<circle cx="435.90" cy="321.90" r="1.6" fill="#0a4f8e"/>
<circle cx="438.00" cy="321.90" r="1.6" fill="#0a4f8e"/>
<circle cx="436.90" cy="326.40" r="1.6" fill="#0a4f8e"/>
<circle cx="436.90" cy="336.10" r="1.6" fill="#0a4f8e"/>
<circle cx="435.80" cy="345.10" r="1.6" fill="#0a4f8e"/>
<circle cx="438.20" cy="345.60" r="1.6" fill="#0a4f8e"/>
<circle cx="436.90" cy="348.00" r="1.6" fill="#0a4f8e"/>
<circle cx="436.90" cy="350.40" r="1.6" fill="#0a4f8e"/>
<circle cx="483.20" cy="262.90" r="1.6" fill="#c40a24"/>
<circle cx="483.20" cy="275.80" r="1.6" fill="#c40a24"/>
<circle cx="483.20" cy="280.30" r="1.6" fill="#c40a24"/>
<circle cx="483.20" cy="284.00" r="1.6" fill="#c40a24"/>
<circle cx="483.20" cy="288.20" r="1.6" fill="#c40a24"/>
<circle cx="480.00" cy="291.50" r="1.6" fill="#c40a24"/>
<circle cx="483.20" cy="291.50" r="1.6" fill="#c40a24"/>
<circle cx="486.40" cy="291.50" r="1.6" fill="#c40a24"/>
<circle cx="483.20" cy="301.70" r="1.6" fill="#c40a24"/>
<circle cx="483.20" cy="308.20" r="1.6" fill="#c40a24"/>
<circle cx="482.00" cy="313.50" r="1.6" fill="#c40a24"/>
<circle cx="485.00" cy="315.50" r="1.6" fill="#c40a24"/>
<circle cx="483.20" cy="317.20" r="1.6" fill="#c40a24"/>
<circle cx="483.20" cy="323.20" r="1.6" fill="#c40a24"/>
<circle cx="483.20" cy="332.20" r="1.6" fill="#c40a24"/>
<line x1="410.70" y1="244.70" x2="410.70" y2="373.65" stroke="#000" stroke-width="1.6"/>
<line x1="409.90" y1="372.90" x2="511.00" y2="372.90" stroke="#000" stroke-width="1.5"/>
<line x1="406.20" y1="372.90" x2="410.70" y2="372.90" stroke="#000" stroke-width="1.0"/>
<text x="404.00" y="376.54" font-size="9.7" text-anchor="end" fill="#000" textLength="6.09" lengthAdjust="spacingAndGlyphs">0</text>
<line x1="406.20" y1="348.25" x2="410.70" y2="348.25" stroke="#000" stroke-width="1.0"/>
<text x="404.00" y="351.89" font-size="9.7" text-anchor="end" fill="#000" textLength="12.19" lengthAdjust="spacingAndGlyphs">20</text>
<line x1="406.20" y1="323.60" x2="410.70" y2="323.60" stroke="#000" stroke-width="1.0"/>
<text x="404.00" y="327.24" font-size="9.7" text-anchor="end" fill="#000" textLength="12.19" lengthAdjust="spacingAndGlyphs">40</text>
<line x1="406.20" y1="298.95" x2="410.70" y2="298.95" stroke="#000" stroke-width="1.0"/>
<text x="404.00" y="302.59" font-size="9.7" text-anchor="end" fill="#000" textLength="12.19" lengthAdjust="spacingAndGlyphs">60</text>
<line x1="406.20" y1="274.30" x2="410.70" y2="274.30" stroke="#000" stroke-width="1.0"/>
<text x="404.00" y="277.94" font-size="9.7" text-anchor="end" fill="#000" textLength="12.19" lengthAdjust="spacingAndGlyphs">80</text>
<line x1="406.20" y1="249.65" x2="410.70" y2="249.65" stroke="#000" stroke-width="1.0"/>
<text x="404.00" y="253.29" font-size="9.7" text-anchor="end" fill="#000" textLength="18.28" lengthAdjust="spacingAndGlyphs">100</text>
<line x1="436.80" y1="372.90" x2="436.80" y2="377.00" stroke="#000" stroke-width="1.0"/>
<line x1="483.20" y1="372.90" x2="483.20" y2="377.00" stroke="#000" stroke-width="1.0"/>
<text x="436.50" y="389.80" font-size="10" text-anchor="middle" fill="#000">Healthy</text>
<text x="436.50" y="401.70" font-size="10" text-anchor="middle" fill="#000">plasma</text>
<text x="483.30" y="389.60" font-size="10" text-anchor="middle" fill="#000" textLength="49.5" lengthAdjust="spacingAndGlyphs">COVID-19</text>
<text x="483.20" y="401.70" font-size="10" text-anchor="middle" fill="#000">plasma</text>
<line x1="439.00" y1="258.40" x2="485.10" y2="258.40" stroke="#333" stroke-width="1.3"/>
<text x="461.80" y="256.50" font-size="10" text-anchor="middle" fill="#000">**</text>
<text transform="translate(378.10,376.87) rotate(-90)" font-size="12.5" textLength="33.95" lengthAdjust="spacingAndGlyphs" style="stroke-width:0.35px">Maximal</text>
<text transform="translate(378.10,341.21) rotate(-90)" font-size="12.5" textLength="29.06" lengthAdjust="spacingAndGlyphs" style="stroke-width:0.35px">platelet</text>
<text transform="translate(378.10,309.16) rotate(-90)" font-size="12.5" textLength="46.36" lengthAdjust="spacingAndGlyphs" style="stroke-width:0.35px">aggregation</text>
<text transform="translate(378.10,259.71) rotate(-90)" font-size="12.5" textLength="15.08" lengthAdjust="spacingAndGlyphs" style="stroke-width:0.35px">(%)</text>
<text x="439.10" y="242.90" font-size="10" fill="#000" textLength="53.8" lengthAdjust="spacingAndGlyphs">TRAP 25μM</text>
<text x="356.40" y="233.40" font-size="15.8" font-weight="bold" style="stroke-width:0.5px">D</text>
<rect x="75.70" y="579.20" width="19.60" height="2.30" fill="#88a8c2"/>
<rect x="109.20" y="528.00" width="20.50" height="53.50" fill="#de8a96"/>
<rect x="143.50" y="511.20" width="20.30" height="70.30" fill="#de8a96"/>
<line x1="119.50" y1="528.00" x2="119.50" y2="519.20" stroke="#000" stroke-width="1.2"/>
<line x1="114.80" y1="519.20" x2="124.20" y2="519.20" stroke="#000" stroke-width="1.5"/>
<line x1="153.60" y1="511.20" x2="153.60" y2="505.40" stroke="#000" stroke-width="1.2"/>
<line x1="148.90" y1="505.40" x2="158.30" y2="505.40" stroke="#000" stroke-width="1.5"/>
<circle cx="83.10" cy="578.30" r="1.5" fill="#0a4f8e"/>
<circle cx="85.80" cy="576.70" r="1.5" fill="#0a4f8e"/>
<circle cx="88.20" cy="578.80" r="1.5" fill="#0a4f8e"/>
<circle cx="84.40" cy="580.00" r="1.5" fill="#0a4f8e"/>
<circle cx="89.30" cy="579.80" r="1.5" fill="#0a4f8e"/>
<circle cx="119.50" cy="495.70" r="1.5" fill="#c40a24"/>
<circle cx="119.50" cy="501.90" r="1.5" fill="#c40a24"/>
<circle cx="119.50" cy="522.20" r="1.5" fill="#c40a24"/>
<circle cx="119.50" cy="531.20" r="1.5" fill="#c40a24"/>
<circle cx="119.50" cy="542.30" r="1.5" fill="#c40a24"/>
<circle cx="119.50" cy="546.90" r="1.5" fill="#c40a24"/>
<circle cx="119.50" cy="558.50" r="1.5" fill="#c40a24"/>
<circle cx="153.50" cy="490.40" r="1.5" fill="#c40a24"/>
<circle cx="153.50" cy="499.60" r="1.5" fill="#c40a24"/>
<circle cx="153.50" cy="509.30" r="1.5" fill="#c40a24"/>
<circle cx="153.50" cy="517.40" r="1.5" fill="#c40a24"/>
<circle cx="153.50" cy="521.50" r="1.5" fill="#c40a24"/>
<circle cx="153.50" cy="530.10" r="1.5" fill="#c40a24"/>
<line x1="65.70" y1="445.80" x2="65.70" y2="582.25" stroke="#000" stroke-width="1.6"/>
<line x1="64.90" y1="581.50" x2="174.20" y2="581.50" stroke="#000" stroke-width="1.5"/>
<line x1="61.30" y1="581.50" x2="65.70" y2="581.50" stroke="#000" stroke-width="1.0"/>
<text x="57.30" y="585.04" font-size="9.7" text-anchor="end" fill="#000" textLength="6.09" lengthAdjust="spacingAndGlyphs">0</text>
<line x1="61.30" y1="559.71" x2="65.70" y2="559.71" stroke="#000" stroke-width="1.0"/>
<text x="57.30" y="563.25" font-size="9.7" text-anchor="end" fill="#000" textLength="12.19" lengthAdjust="spacingAndGlyphs">20</text>
<line x1="61.30" y1="537.92" x2="65.70" y2="537.92" stroke="#000" stroke-width="1.0"/>
<text x="57.30" y="541.46" font-size="9.7" text-anchor="end" fill="#000" textLength="12.19" lengthAdjust="spacingAndGlyphs">40</text>
<line x1="61.30" y1="516.12" x2="65.70" y2="516.12" stroke="#000" stroke-width="1.0"/>
<text x="57.30" y="519.66" font-size="9.7" text-anchor="end" fill="#000" textLength="12.19" lengthAdjust="spacingAndGlyphs">60</text>
<line x1="61.30" y1="494.33" x2="65.70" y2="494.33" stroke="#000" stroke-width="1.0"/>
<text x="57.30" y="497.87" font-size="9.7" text-anchor="end" fill="#000" textLength="12.19" lengthAdjust="spacingAndGlyphs">80</text>
<line x1="61.30" y1="472.54" x2="65.70" y2="472.54" stroke="#000" stroke-width="1.0"/>
<text x="57.30" y="476.08" font-size="9.7" text-anchor="end" fill="#000" textLength="18.28" lengthAdjust="spacingAndGlyphs">100</text>
<line x1="61.30" y1="450.75" x2="65.70" y2="450.75" stroke="#000" stroke-width="1.0"/>
<text x="57.30" y="454.29" font-size="9.7" text-anchor="end" fill="#000" textLength="18.28" lengthAdjust="spacingAndGlyphs">120</text>
<line x1="85.00" y1="581.50" x2="85.00" y2="585.50" stroke="#000" stroke-width="1.0"/>
<line x1="119.50" y1="581.50" x2="119.50" y2="585.50" stroke="#000" stroke-width="1.0"/>
<line x1="153.50" y1="581.50" x2="153.50" y2="585.50" stroke="#000" stroke-width="1.0"/>
<text transform="translate(32.30,580.57) rotate(-90)" font-size="12.5" textLength="33.95" lengthAdjust="spacingAndGlyphs" style="stroke-width:0.35px">Maximal</text>
<text transform="translate(32.30,544.91) rotate(-90)" font-size="12.5" textLength="29.06" lengthAdjust="spacingAndGlyphs" style="stroke-width:0.35px">platelet</text>
<text transform="translate(32.30,512.86) rotate(-90)" font-size="12.5" textLength="46.36" lengthAdjust="spacingAndGlyphs" style="stroke-width:0.35px">aggregation</text>
<text transform="translate(32.30,463.41) rotate(-90)" font-size="12.5" textLength="15.08" lengthAdjust="spacingAndGlyphs" style="stroke-width:0.35px">(%)</text>
<text x="10.30" y="436.30" font-size="15.8" font-weight="bold" style="stroke-width:0.5px">E</text>
<rect x="73.40" y="444.60" width="6.00" height="6.00" fill="#88a8c2"/>
<rect x="73.40" y="457.60" width="6.00" height="6.00" fill="#de8a96"/>
<text x="84.20" y="450.90" font-size="10" fill="#000" textLength="98" lengthAdjust="spacingAndGlyphs">Healthy donors plasma</text>
<text x="84.20" y="463.40" font-size="10" fill="#000" textLength="79" lengthAdjust="spacingAndGlyphs">Severe COVID-19</text>
<text x="84.20" y="473.50" font-size="10" fill="#000" textLength="66.3" lengthAdjust="spacingAndGlyphs">patients plasma</text>
<g transform="translate(87.00,595.70) rotate(-45)"><text x="0" y="0.00" font-size="10.7" text-anchor="end">CRP 0.075μg/ml</text></g>
<g transform="translate(121.40,596.30) rotate(-45)"><text x="0" y="0.00" font-size="10.7" text-anchor="end">CRP 0.075μg/ml</text></g>
<g transform="translate(155.00,596.30) rotate(-45)"><text x="0" y="0.00" font-size="10.7" text-anchor="end">CRP 0.075μg/ml</text><text x="0" y="12.80" font-size="10.7" text-anchor="end">+ IV.3 10μg/ml</text></g>
<rect x="325.40" y="487.50" width="24.80" height="94.10" fill="#88a8c2"/>
<line x1="337.80" y1="487.50" x2="337.80" y2="478.50" stroke="#000" stroke-width="1.2"/>
<line x1="333.20" y1="478.50" x2="342.40" y2="478.50" stroke="#000" stroke-width="1.5"/>
<rect x="362.20" y="490.20" width="24.80" height="91.40" fill="#88a8c2"/>
<line x1="374.60" y1="490.20" x2="374.60" y2="484.00" stroke="#000" stroke-width="1.2"/>
<line x1="370.00" y1="484.00" x2="379.20" y2="484.00" stroke="#000" stroke-width="1.5"/>
<rect x="399.10" y="499.40" width="24.80" height="82.20" fill="#88a8c2"/>
<line x1="411.50" y1="499.40" x2="411.50" y2="496.00" stroke="#000" stroke-width="1.2"/>
<line x1="406.90" y1="496.00" x2="416.10" y2="496.00" stroke="#000" stroke-width="1.5"/>
<rect x="436.10" y="570.20" width="24.80" height="11.40" fill="#88a8c2"/>
<line x1="448.50" y1="570.20" x2="448.50" y2="568.00" stroke="#000" stroke-width="1.2"/>
<line x1="443.90" y1="568.00" x2="453.10" y2="568.00" stroke="#000" stroke-width="1.5"/>
<rect x="473.00" y="567.10" width="24.80" height="14.50" fill="#88a8c2"/>
<line x1="485.40" y1="567.10" x2="485.40" y2="564.60" stroke="#000" stroke-width="1.2"/>
<line x1="480.80" y1="564.60" x2="490.00" y2="564.60" stroke="#000" stroke-width="1.5"/>
<circle cx="337.80" cy="470.20" r="1.5" fill="#0a4f8e"/>
<circle cx="337.80" cy="492.10" r="1.5" fill="#0a4f8e"/>
<circle cx="337.80" cy="501.40" r="1.5" fill="#0a4f8e"/>
<circle cx="374.60" cy="479.40" r="1.5" fill="#0a4f8e"/>
<circle cx="374.60" cy="491.40" r="1.5" fill="#0a4f8e"/>
<circle cx="374.60" cy="500.90" r="1.5" fill="#0a4f8e"/>
<circle cx="411.50" cy="492.00" r="1.5" fill="#0a4f8e"/>
<circle cx="411.50" cy="500.90" r="1.5" fill="#0a4f8e"/>
<circle cx="411.50" cy="506.50" r="1.5" fill="#0a4f8e"/>
<circle cx="447.00" cy="568.30" r="1.5" fill="#0a4f8e"/>
<circle cx="450.00" cy="569.40" r="1.5" fill="#0a4f8e"/>
<circle cx="448.50" cy="574.50" r="1.5" fill="#0a4f8e"/>
<circle cx="483.60" cy="563.40" r="1.5" fill="#0a4f8e"/>
<circle cx="487.50" cy="565.50" r="1.5" fill="#0a4f8e"/>
<circle cx="485.40" cy="571.70" r="1.5" fill="#0a4f8e"/>
<line x1="312.60" y1="448.80" x2="312.60" y2="582.35" stroke="#000" stroke-width="1.6"/>
<line x1="311.80" y1="581.60" x2="510.40" y2="581.60" stroke="#000" stroke-width="1.5"/>
<line x1="308.30" y1="581.60" x2="312.60" y2="581.60" stroke="#000" stroke-width="1.0"/>
<text x="305.40" y="584.44" font-size="9.7" text-anchor="end" fill="#000" textLength="6.09" lengthAdjust="spacingAndGlyphs">0</text>
<line x1="308.30" y1="560.15" x2="312.60" y2="560.15" stroke="#000" stroke-width="1.0"/>
<text x="305.40" y="562.99" font-size="9.7" text-anchor="end" fill="#000" textLength="12.19" lengthAdjust="spacingAndGlyphs">20</text>
<line x1="308.30" y1="538.70" x2="312.60" y2="538.70" stroke="#000" stroke-width="1.0"/>
<text x="305.40" y="541.54" font-size="9.7" text-anchor="end" fill="#000" textLength="12.19" lengthAdjust="spacingAndGlyphs">40</text>
<line x1="308.30" y1="517.25" x2="312.60" y2="517.25" stroke="#000" stroke-width="1.0"/>
<text x="305.40" y="520.09" font-size="9.7" text-anchor="end" fill="#000" textLength="12.19" lengthAdjust="spacingAndGlyphs">60</text>
<line x1="308.30" y1="495.80" x2="312.60" y2="495.80" stroke="#000" stroke-width="1.0"/>
<text x="305.40" y="498.64" font-size="9.7" text-anchor="end" fill="#000" textLength="12.19" lengthAdjust="spacingAndGlyphs">80</text>
<line x1="308.30" y1="474.35" x2="312.60" y2="474.35" stroke="#000" stroke-width="1.0"/>
<text x="305.40" y="477.19" font-size="9.7" text-anchor="end" fill="#000" textLength="18.28" lengthAdjust="spacingAndGlyphs">100</text>
<line x1="308.30" y1="452.90" x2="312.60" y2="452.90" stroke="#000" stroke-width="1.0"/>
<text x="305.40" y="455.74" font-size="9.7" text-anchor="end" fill="#000" textLength="18.28" lengthAdjust="spacingAndGlyphs">120</text>
<line x1="337.80" y1="581.60" x2="337.80" y2="585.50" stroke="#000" stroke-width="1.0"/>
<line x1="374.60" y1="581.60" x2="374.60" y2="585.50" stroke="#000" stroke-width="1.0"/>
<line x1="411.50" y1="581.60" x2="411.50" y2="585.50" stroke="#000" stroke-width="1.0"/>
<line x1="448.50" y1="581.60" x2="448.50" y2="585.50" stroke="#000" stroke-width="1.0"/>
<line x1="485.40" y1="581.60" x2="485.40" y2="585.50" stroke="#000" stroke-width="1.0"/>
<text transform="translate(279.40,581.47) rotate(-90)" font-size="12.5" textLength="33.89" lengthAdjust="spacingAndGlyphs" style="stroke-width:0.35px">Maximal</text>
<text transform="translate(279.40,545.87) rotate(-90)" font-size="12.5" textLength="29.01" lengthAdjust="spacingAndGlyphs" style="stroke-width:0.35px">platelet</text>
<text transform="translate(279.40,513.86) rotate(-90)" font-size="12.5" textLength="46.29" lengthAdjust="spacingAndGlyphs" style="stroke-width:0.35px">aggregation</text>
<text transform="translate(279.40,464.49) rotate(-90)" font-size="12.5" textLength="15.06" lengthAdjust="spacingAndGlyphs" style="stroke-width:0.35px">(%)</text>
<text x="260.30" y="438.50" font-size="15.8" font-weight="bold" style="stroke-width:0.5px">F</text>
<g transform="translate(342.50,596.10) rotate(-45)"><text x="0" y="0.00" font-size="10.7" text-anchor="end">CRP 1μg/ml</text></g>
<g transform="translate(370.50,596.00) rotate(-45)"><text x="0" y="0.00" font-size="10.7" text-anchor="end">CRP 1μg/ml</text><text x="0" y="12.80" font-size="10.7" text-anchor="end">+ anti - RFcγRIIa 10μg/ml</text></g>
<g transform="translate(412.30,591.50) rotate(-45)"><text x="0" y="0.00" font-size="10.7" text-anchor="end" textLength="90.6" lengthAdjust="spacingAndGlyphs">HIT plasma positive</text><text x="0" y="12.80" font-size="10.7" text-anchor="end">+ Heparine 0.5Ui/L</text></g>
<g transform="translate(450.30,592.00) rotate(-45)"><text x="0" y="0.00" font-size="10.7" text-anchor="end" textLength="90.6" lengthAdjust="spacingAndGlyphs">HIT plasma positive</text><text x="0" y="12.80" font-size="10.7" text-anchor="end">+ Heparine100Ui/L</text></g>
<g transform="translate(490.20,592.70) rotate(-45)"><text x="0" y="0.00" font-size="10.7" text-anchor="end" textLength="90.6" lengthAdjust="spacingAndGlyphs">HIT plasma positive</text><text x="0" y="12.80" font-size="10.7" text-anchor="end">+ Heparine 0.5Ui/L +</text><text x="0" y="25.60" font-size="10.7" text-anchor="end">anti - RFcγRIIa 10μg/ml</text></g>
<rect x="0.75" y="0.75" width="518.5" height="697.5" fill="none" stroke="#000" stroke-width="1.5"/>
</svg>
</body></html>
